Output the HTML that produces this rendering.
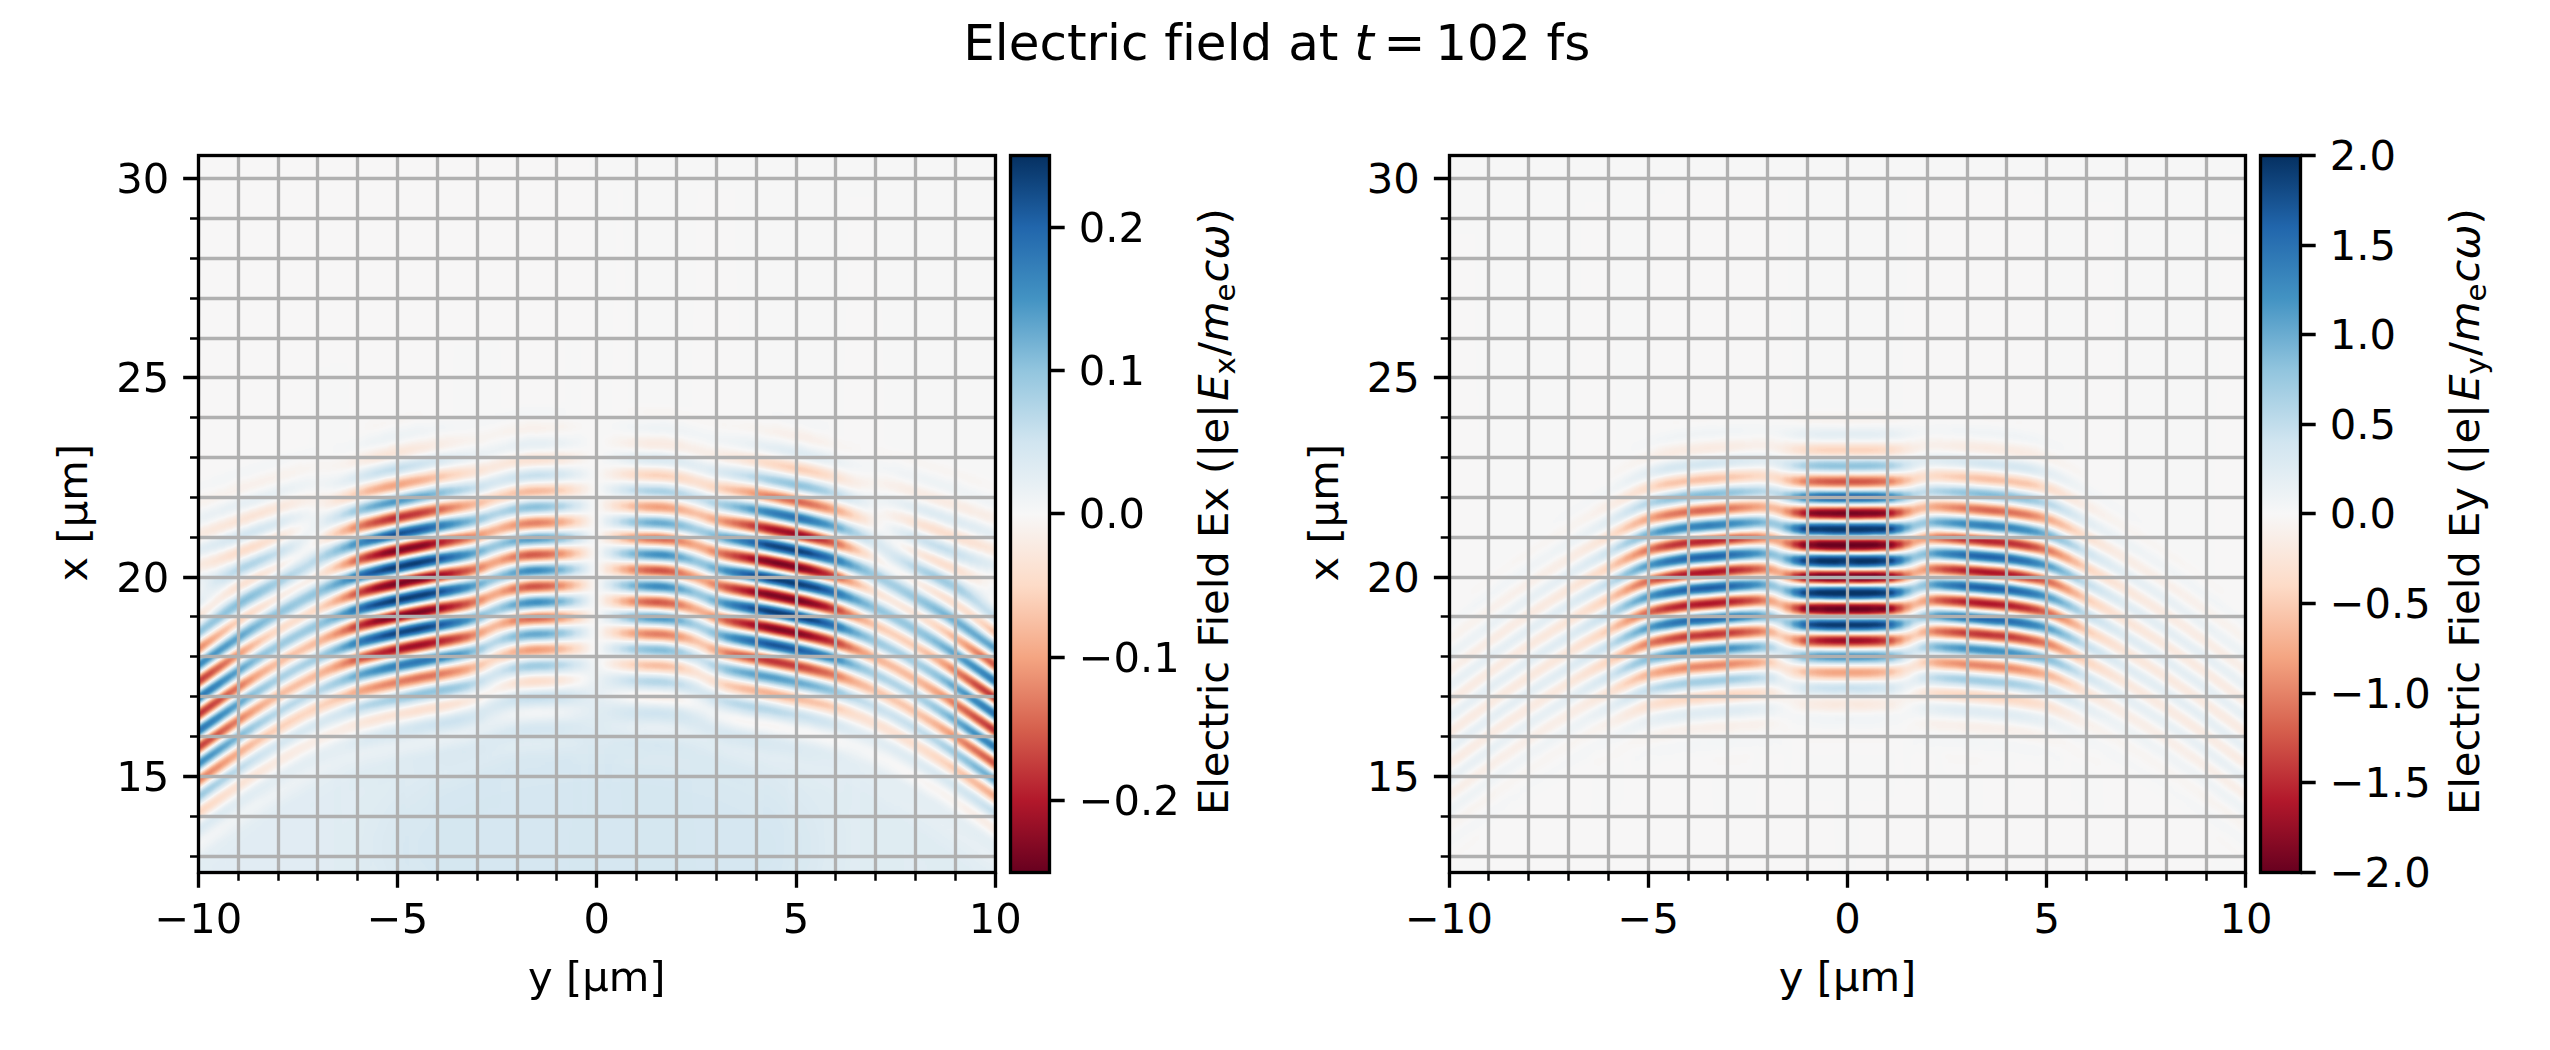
<!DOCTYPE html>
<html lang="en"><head><meta charset="utf-8"><title>Electric field at t = 102 fs</title>
<style>html,body{margin:0;padding:0;background:#fff;overflow:hidden}svg{display:block}text{font-variant-ligatures:none;font-family:"DejaVu Sans","Liberation Sans",sans-serif;font-size:41.67px;fill:#000}</style></head><body>
<svg width="2550" height="1050" viewBox="0 0 2550 1050">
<defs>
<linearGradient id="cbg" x1="0" y1="1" x2="0" y2="0"><stop offset="0" stop-color="#67001f"/><stop offset="0.1" stop-color="#b2182b"/><stop offset="0.2" stop-color="#d6604d"/><stop offset="0.3" stop-color="#f4a582"/><stop offset="0.4" stop-color="#fddbc7"/><stop offset="0.5" stop-color="#f7f7f7"/><stop offset="0.6" stop-color="#d1e5f0"/><stop offset="0.7" stop-color="#92c5de"/><stop offset="0.8" stop-color="#4393c3"/><stop offset="0.9" stop-color="#2166ac"/><stop offset="1" stop-color="#053061"/></linearGradient>
<clipPath id="c1"><rect x="198.35" y="155.4" width="796.9" height="717.1"/></clipPath>
<clipPath id="c2"><rect x="1449.05" y="155.4" width="796.9" height="717.1"/></clipPath>
<filter id="cm" filterUnits="userSpaceOnUse" x="0" y="0" width="2550" height="1050" color-interpolation-filters="sRGB"><feGaussianBlur stdDeviation="2"/><feComponentTransfer><feFuncR type="table" tableValues=".4039 .698 .8392 .9569 .9922 .9686 .8196 .5725 .2627 .1294 .0196"/><feFuncG type="table" tableValues="0 .0941 .3765 .6471 .8588 .9686 .898 .7725 .5765 .4 .1882"/><feFuncB type="table" tableValues=".1216 .1686 .302 .5098 .7804 .9686 .9412 .8706 .7647 .6745 .3804"/></feComponentTransfer></filter><filter id="inv" filterUnits="userSpaceOnUse" x="0" y="0" width="2550" height="1050" color-interpolation-filters="sRGB"><feComponentTransfer><feFuncR type="linear" slope="-1" intercept="1"/><feFuncG type="linear" slope="-1" intercept="1"/><feFuncB type="linear" slope="-1" intercept="1"/></feComponentTransfer></filter><filter id="hzb" filterUnits="userSpaceOnUse" x="0" y="0" width="2550" height="1050" color-interpolation-filters="sRGB"><feGaussianBlur stdDeviation="22"/></filter><radialGradient id="hz"><stop offset="0" stop-color="#fff"/><stop offset=".35" stop-color="#fff" stop-opacity=".8"/><stop offset=".7" stop-color="#fff" stop-opacity=".3"/><stop offset="1" stop-color="#fff" stop-opacity="0"/></radialGradient><linearGradient id="a0" x2="0" y2="1"><stop offset="0" stop-color="#808080"/><stop offset=".424" stop-color="#7f7f7f"/><stop offset=".4378" stop-color="#7f7f7f"/><stop offset=".4516" stop-color="#828282"/><stop offset=".4692" stop-color="#7c7c7c"/><stop offset=".4792" stop-color="#808080"/><stop offset=".4893" stop-color="#838383"/><stop offset=".4981" stop-color="#808080"/><stop offset=".5081" stop-color="#7b7b7b"/><stop offset=".5169" stop-color="#7e7e7e"/><stop offset=".5282" stop-color="#858585"/><stop offset=".5369" stop-color="#818181"/><stop offset=".547" stop-color="#7a7a7a"/><stop offset=".5545" stop-color="#7c7c7c"/><stop offset=".5658" stop-color="#858585"/><stop offset=".5733" stop-color="#848484"/><stop offset=".5859" stop-color="#7a7a7a"/><stop offset=".5934" stop-color="#7b7b7b"/><stop offset=".6059" stop-color="#858585"/><stop offset=".6147" stop-color="#838383"/><stop offset=".626" stop-color="#7a7a7a"/><stop offset=".6348" stop-color="#7c7c7c"/><stop offset=".6461" stop-color="#848484"/><stop offset=".6536" stop-color="#838383"/><stop offset=".6674" stop-color="#7b7b7b"/><stop offset=".6775" stop-color="#7f7f7f"/><stop offset=".6887" stop-color="#838383"/><stop offset=".7076" stop-color="#7d7d7d"/><stop offset=".7276" stop-color="#818181"/><stop offset=".7477" stop-color="#7e7e7e"/><stop offset=".7728" stop-color="#808080"/><stop offset=".9999" stop-color="#808080"/></linearGradient><linearGradient id="a1" x2="0" y2="1"><stop offset="0" stop-color="#808080"/><stop offset=".424" stop-color="#808080"/><stop offset=".4378" stop-color="#808080"/><stop offset=".4516" stop-color="#7d7d7d"/><stop offset=".4692" stop-color="#838383"/><stop offset=".4792" stop-color="#7f7f7f"/><stop offset=".4893" stop-color="#7c7c7c"/><stop offset=".4981" stop-color="#7f7f7f"/><stop offset=".5081" stop-color="#848484"/><stop offset=".5169" stop-color="#818181"/><stop offset=".5282" stop-color="#7a7a7a"/><stop offset=".5369" stop-color="#7e7e7e"/><stop offset=".547" stop-color="#858585"/><stop offset=".5545" stop-color="#838383"/><stop offset=".5658" stop-color="#7a7a7a"/><stop offset=".5733" stop-color="#7b7b7b"/><stop offset=".5859" stop-color="#858585"/><stop offset=".5934" stop-color="#848484"/><stop offset=".6059" stop-color="#7a7a7a"/><stop offset=".6147" stop-color="#7c7c7c"/><stop offset=".626" stop-color="#858585"/><stop offset=".6348" stop-color="#838383"/><stop offset=".6461" stop-color="#7b7b7b"/><stop offset=".6536" stop-color="#7c7c7c"/><stop offset=".6674" stop-color="#848484"/><stop offset=".6775" stop-color="#808080"/><stop offset=".6887" stop-color="#7c7c7c"/><stop offset=".7076" stop-color="#828282"/><stop offset=".7276" stop-color="#7e7e7e"/><stop offset=".7477" stop-color="#818181"/><stop offset=".7728" stop-color="#7f7f7f"/><stop offset=".9999" stop-color="#7f7f7f"/></linearGradient><linearGradient id="a2" x2="0" y2="1"><stop offset="0" stop-color="#808080"/><stop offset=".3839" stop-color="#808080"/><stop offset=".3989" stop-color="#808080"/><stop offset=".409" stop-color="#7d7d7d"/><stop offset=".4178" stop-color="#7f7f7f"/><stop offset=".4291" stop-color="#848484"/><stop offset=".4378" stop-color="#818181"/><stop offset=".4491" stop-color="#787878"/><stop offset=".4554" stop-color="#7b7b7b"/><stop offset=".4679" stop-color="#8a8a8a"/><stop offset=".4755" stop-color="#858585"/><stop offset=".488" stop-color="#727272"/><stop offset=".4955" stop-color="#787878"/><stop offset=".5068" stop-color="#8f8f8f"/><stop offset=".5131" stop-color="#8d8d8d"/><stop offset=".5269" stop-color="#6e6e6e"/><stop offset=".5319" stop-color="#6f6f6f"/><stop offset=".5395" stop-color="#818181"/><stop offset=".5457" stop-color="#919191"/><stop offset=".552" stop-color="#919191"/><stop offset=".5608" stop-color="#7a7a7a"/><stop offset=".5671" stop-color="#6c6c6c"/><stop offset=".5721" stop-color="#6d6d6d"/><stop offset=".5859" stop-color="#929292"/><stop offset=".5909" stop-color="#939393"/><stop offset=".5984" stop-color="#818181"/><stop offset=".6059" stop-color="#6d6d6d"/><stop offset=".611" stop-color="#6c6c6c"/><stop offset=".6185" stop-color="#7e7e7e"/><stop offset=".626" stop-color="#919191"/><stop offset=".631" stop-color="#919191"/><stop offset=".6373" stop-color="#848484"/><stop offset=".6448" stop-color="#717171"/><stop offset=".6499" stop-color="#6f6f6f"/><stop offset=".6561" stop-color="#797979"/><stop offset=".6662" stop-color="#8d8d8d"/><stop offset=".6712" stop-color="#8d8d8d"/><stop offset=".685" stop-color="#767676"/><stop offset=".6913" stop-color="#757575"/><stop offset=".7051" stop-color="#878787"/><stop offset=".7126" stop-color="#868686"/><stop offset=".7264" stop-color="#7a7a7a"/><stop offset=".7364" stop-color="#7e7e7e"/><stop offset=".7477" stop-color="#838383"/><stop offset=".7665" stop-color="#7e7e7e"/><stop offset=".7966" stop-color="#808080"/><stop offset=".9999" stop-color="#7f7f7f"/></linearGradient><linearGradient id="a3" x2="0" y2="1"><stop offset="0" stop-color="#808080"/><stop offset=".3651" stop-color="#7f7f7f"/><stop offset=".3789" stop-color="#7f7f7f"/><stop offset=".3914" stop-color="#828282"/><stop offset=".4052" stop-color="#7c7c7c"/><stop offset=".4127" stop-color="#7b7b7b"/><stop offset=".4228" stop-color="#838383"/><stop offset=".4303" stop-color="#888888"/><stop offset=".4391" stop-color="#808080"/><stop offset=".4491" stop-color="#727272"/><stop offset=".4554" stop-color="#777777"/><stop offset=".4679" stop-color="#919191"/><stop offset=".4742" stop-color="#8e8e8e"/><stop offset=".4868" stop-color="#6a6a6a"/><stop offset=".4918" stop-color="#696969"/><stop offset=".4968" stop-color="#767676"/><stop offset=".5068" stop-color="#9a9a9a"/><stop offset=".5119" stop-color="#9b9b9b"/><stop offset=".5181" stop-color="#858585"/><stop offset=".5257" stop-color="#646464"/><stop offset=".5307" stop-color="#5f5f5f"/><stop offset=".5369" stop-color="#737373"/><stop offset=".5457" stop-color="#9e9e9e"/><stop offset=".5507" stop-color="#a2a2a2"/><stop offset=".5558" stop-color="#929292"/><stop offset=".5658" stop-color="#606060"/><stop offset=".5708" stop-color="#5c5c5c"/><stop offset=".5771" stop-color="#737373"/><stop offset=".5846" stop-color="#9b9b9b"/><stop offset=".5896" stop-color="#a4a4a4"/><stop offset=".5947" stop-color="#989898"/><stop offset=".6047" stop-color="#646464"/><stop offset=".6097" stop-color="#5c5c5c"/><stop offset=".6147" stop-color="#686868"/><stop offset=".626" stop-color="#9e9e9e"/><stop offset=".631" stop-color="#a0a0a0"/><stop offset=".6361" stop-color="#8f8f8f"/><stop offset=".6448" stop-color="#676767"/><stop offset=".6511" stop-color="#626262"/><stop offset=".6586" stop-color="#7d7d7d"/><stop offset=".6649" stop-color="#949494"/><stop offset=".6699" stop-color="#999999"/><stop offset=".6762" stop-color="#8b8b8b"/><stop offset=".685" stop-color="#6f6f6f"/><stop offset=".69" stop-color="#6b6b6b"/><stop offset=".6988" stop-color="#7e7e7e"/><stop offset=".7063" stop-color="#8e8e8e"/><stop offset=".7138" stop-color="#8a8a8a"/><stop offset=".7251" stop-color="#777777"/><stop offset=".7301" stop-color="#767676"/><stop offset=".7452" stop-color="#858585"/><stop offset=".7527" stop-color="#848484"/><stop offset=".7665" stop-color="#7c7c7c"/><stop offset=".7879" stop-color="#818181"/><stop offset=".8155" stop-color="#7f7f7f"/><stop offset=".9999" stop-color="#7f7f7f"/></linearGradient><linearGradient id="a4" x2="0" y2="1"><stop offset="0" stop-color="#808080"/><stop offset=".3638" stop-color="#7f7f7f"/><stop offset=".3789" stop-color="#7f7f7f"/><stop offset=".3902" stop-color="#838383"/><stop offset=".3989" stop-color="#808080"/><stop offset=".4115" stop-color="#787878"/><stop offset=".419" stop-color="#7f7f7f"/><stop offset=".4291" stop-color="#8c8c8c"/><stop offset=".4366" stop-color="#868686"/><stop offset=".4479" stop-color="#6e6e6e"/><stop offset=".4529" stop-color="#6e6e6e"/><stop offset=".4604" stop-color="#838383"/><stop offset=".4679" stop-color="#999999"/><stop offset=".4742" stop-color="#959595"/><stop offset=".488" stop-color="#5e5e5e"/><stop offset=".493" stop-color="#616161"/><stop offset=".5006" stop-color="#868686"/><stop offset=".5068" stop-color="#a5a5a5"/><stop offset=".5119" stop-color="#a8a8a8"/><stop offset=".5181" stop-color="#8a8a8a"/><stop offset=".5257" stop-color="#595959"/><stop offset=".5307" stop-color="#505050"/><stop offset=".5357" stop-color="#636363"/><stop offset=".5457" stop-color="#a9a9a9"/><stop offset=".5507" stop-color="#b2b2b2"/><stop offset=".5558" stop-color="#9d9d9d"/><stop offset=".5658" stop-color="#545454"/><stop offset=".5708" stop-color="#4c4c4c"/><stop offset=".5758" stop-color="#626262"/><stop offset=".5859" stop-color="#acacac"/><stop offset=".5909" stop-color="#b3b3b3"/><stop offset=".5959" stop-color="#9c9c9c"/><stop offset=".6059" stop-color="#545454"/><stop offset=".6097" stop-color="#4c4c4c"/><stop offset=".6147" stop-color="#5c5c5c"/><stop offset=".626" stop-color="#aaaaaa"/><stop offset=".631" stop-color="#afafaf"/><stop offset=".6361" stop-color="#999999"/><stop offset=".6448" stop-color="#5e5e5e"/><stop offset=".6499" stop-color="#545454"/><stop offset=".6549" stop-color="#636363"/><stop offset=".6649" stop-color="#9c9c9c"/><stop offset=".6699" stop-color="#a5a5a5"/><stop offset=".6762" stop-color="#919191"/><stop offset=".685" stop-color="#686868"/><stop offset=".69" stop-color="#626262"/><stop offset=".6975" stop-color="#777777"/><stop offset=".7051" stop-color="#919191"/><stop offset=".7101" stop-color="#959595"/><stop offset=".7214" stop-color="#7b7b7b"/><stop offset=".7276" stop-color="#717171"/><stop offset=".7352" stop-color="#777777"/><stop offset=".7439" stop-color="#868686"/><stop offset=".7527" stop-color="#878787"/><stop offset=".7665" stop-color="#7b7b7b"/><stop offset=".7778" stop-color="#7e7e7e"/><stop offset=".7866" stop-color="#828282"/><stop offset=".8104" stop-color="#7e7e7e"/><stop offset=".8318" stop-color="#808080"/><stop offset=".9999" stop-color="#7f7f7f"/></linearGradient><linearGradient id="a5" x2="0" y2="1"><stop offset="0" stop-color="#808080"/><stop offset=".3488" stop-color="#808080"/><stop offset=".3588" stop-color="#808080"/><stop offset=".3739" stop-color="#7d7d7d"/><stop offset=".3914" stop-color="#858585"/><stop offset=".4015" stop-color="#7e7e7e"/><stop offset=".4102" stop-color="#767676"/><stop offset=".4165" stop-color="#7a7a7a"/><stop offset=".4291" stop-color="#8f8f8f"/><stop offset=".4366" stop-color="#898989"/><stop offset=".4479" stop-color="#6a6a6a"/><stop offset=".4529" stop-color="#696969"/><stop offset=".4592" stop-color="#7c7c7c"/><stop offset=".4679" stop-color="#9f9f9f"/><stop offset=".473" stop-color="#9f9f9f"/><stop offset=".4805" stop-color="#7c7c7c"/><stop offset=".488" stop-color="#565656"/><stop offset=".493" stop-color="#575757"/><stop offset=".4993" stop-color="#7b7b7b"/><stop offset=".5068" stop-color="#aeaeae"/><stop offset=".5119" stop-color="#b3b3b3"/><stop offset=".5169" stop-color="#999999"/><stop offset=".5269" stop-color="#4a4a4a"/><stop offset=".5319" stop-color="#454545"/><stop offset=".5369" stop-color="#636363"/><stop offset=".5457" stop-color="#b3b3b3"/><stop offset=".5507" stop-color="#c0c0c0"/><stop offset=".5558" stop-color="#a7a7a7"/><stop offset=".5658" stop-color="#4a4a4a"/><stop offset=".5708" stop-color="#3d3d3d"/><stop offset=".5758" stop-color="#575757"/><stop offset=".5859" stop-color="#b6b6b6"/><stop offset=".5909" stop-color="#c2c2c2"/><stop offset=".5959" stop-color="#a7a7a7"/><stop offset=".6059" stop-color="#4a4a4a"/><stop offset=".6097" stop-color="#3e3e3e"/><stop offset=".6147" stop-color="#505050"/><stop offset=".6248" stop-color="#ababab"/><stop offset=".6298" stop-color="#bebebe"/><stop offset=".6348" stop-color="#ababab"/><stop offset=".6461" stop-color="#505050"/><stop offset=".6511" stop-color="#494949"/><stop offset=".6574" stop-color="#6b6b6b"/><stop offset=".6649" stop-color="#a2a2a2"/><stop offset=".6699" stop-color="#afafaf"/><stop offset=".6762" stop-color="#989898"/><stop offset=".685" stop-color="#636363"/><stop offset=".69" stop-color="#5a5a5a"/><stop offset=".6975" stop-color="#737373"/><stop offset=".7051" stop-color="#959595"/><stop offset=".7101" stop-color="#9a9a9a"/><stop offset=".7176" stop-color="#888888"/><stop offset=".7251" stop-color="#717171"/><stop offset=".7314" stop-color="#6e6e6e"/><stop offset=".7452" stop-color="#898989"/><stop offset=".7527" stop-color="#898989"/><stop offset=".7653" stop-color="#7a7a7a"/><stop offset=".7741" stop-color="#7b7b7b"/><stop offset=".7866" stop-color="#838383"/><stop offset=".8092" stop-color="#7e7e7e"/><stop offset=".8343" stop-color="#808080"/><stop offset=".9999" stop-color="#7f7f7f"/></linearGradient><linearGradient id="a6" x2="0" y2="1"><stop offset="0" stop-color="#808080"/><stop offset=".3475" stop-color="#808080"/><stop offset=".3601" stop-color="#808080"/><stop offset=".3726" stop-color="#7d7d7d"/><stop offset=".3814" stop-color="#808080"/><stop offset=".3914" stop-color="#858585"/><stop offset=".3989" stop-color="#818181"/><stop offset=".4102" stop-color="#757575"/><stop offset=".4178" stop-color="#7b7b7b"/><stop offset=".4291" stop-color="#919191"/><stop offset=".4353" stop-color="#8e8e8e"/><stop offset=".4491" stop-color="#646464"/><stop offset=".4541" stop-color="#676767"/><stop offset=".4617" stop-color="#878787"/><stop offset=".4679" stop-color="#a4a4a4"/><stop offset=".473" stop-color="#a5a5a5"/><stop offset=".478" stop-color="#8f8f8f"/><stop offset=".488" stop-color="#505050"/><stop offset=".493" stop-color="#4f4f4f"/><stop offset=".4993" stop-color="#777777"/><stop offset=".5068" stop-color="#b4b4b4"/><stop offset=".5119" stop-color="#bdbdbd"/><stop offset=".5169" stop-color="#a1a1a1"/><stop offset=".5269" stop-color="#434343"/><stop offset=".5319" stop-color="#3a3a3a"/><stop offset=".5369" stop-color="#5b5b5b"/><stop offset=".5457" stop-color="#b9b9b9"/><stop offset=".5507" stop-color="#cccccc"/><stop offset=".5558" stop-color="#b1b1b1"/><stop offset=".5658" stop-color="#444444"/><stop offset=".5708" stop-color="#313131"/><stop offset=".5758" stop-color="#4d4d4d"/><stop offset=".5859" stop-color="#bcbcbc"/><stop offset=".5896" stop-color="#cecece"/><stop offset=".5934" stop-color="#c4c4c4"/><stop offset=".5997" stop-color="#878787"/><stop offset=".6059" stop-color="#434343"/><stop offset=".6097" stop-color="#333333"/><stop offset=".6135" stop-color="#3d3d3d"/><stop offset=".6197" stop-color="#7a7a7a"/><stop offset=".626" stop-color="#bababa"/><stop offset=".631" stop-color="#c7c7c7"/><stop offset=".6361" stop-color="#ababab"/><stop offset=".6461" stop-color="#4a4a4a"/><stop offset=".6511" stop-color="#3f3f3f"/><stop offset=".6561" stop-color="#5a5a5a"/><stop offset=".6649" stop-color="#a6a6a6"/><stop offset=".6699" stop-color="#b7b7b7"/><stop offset=".6749" stop-color="#a6a6a6"/><stop offset=".685" stop-color="#606060"/><stop offset=".69" stop-color="#545454"/><stop offset=".6963" stop-color="#686868"/><stop offset=".7051" stop-color="#979797"/><stop offset=".7101" stop-color="#9f9f9f"/><stop offset=".7163" stop-color="#909090"/><stop offset=".7251" stop-color="#6f6f6f"/><stop offset=".7314" stop-color="#6b6b6b"/><stop offset=".7452" stop-color="#8a8a8a"/><stop offset=".7515" stop-color="#8c8c8c"/><stop offset=".7653" stop-color="#7a7a7a"/><stop offset=".7728" stop-color="#797979"/><stop offset=".7853" stop-color="#838383"/><stop offset=".7966" stop-color="#818181"/><stop offset=".8092" stop-color="#7e7e7e"/><stop offset=".8355" stop-color="#808080"/><stop offset=".9999" stop-color="#808080"/></linearGradient><linearGradient id="a7" x2="0" y2="1"><stop offset="0" stop-color="#808080"/><stop offset=".3463" stop-color="#808080"/><stop offset=".3601" stop-color="#808080"/><stop offset=".3739" stop-color="#7c7c7c"/><stop offset=".3927" stop-color="#868686"/><stop offset=".4015" stop-color="#7e7e7e"/><stop offset=".4115" stop-color="#737373"/><stop offset=".4178" stop-color="#797979"/><stop offset=".4303" stop-color="#949494"/><stop offset=".4366" stop-color="#8d8d8d"/><stop offset=".4491" stop-color="#626262"/><stop offset=".4541" stop-color="#636363"/><stop offset=".4617" stop-color="#868686"/><stop offset=".4692" stop-color="#aaaaaa"/><stop offset=".4742" stop-color="#a7a7a7"/><stop offset=".4805" stop-color="#808080"/><stop offset=".488" stop-color="#4c4c4c"/><stop offset=".493" stop-color="#494949"/><stop offset=".4981" stop-color="#686868"/><stop offset=".5068" stop-color="#b8b8b8"/><stop offset=".5119" stop-color="#c4c4c4"/><stop offset=".5169" stop-color="#a7a7a7"/><stop offset=".5269" stop-color="#3f3f3f"/><stop offset=".5319" stop-color="#323232"/><stop offset=".5369" stop-color="#545454"/><stop offset=".547" stop-color="#c6c6c6"/><stop offset=".552" stop-color="#d2d2d2"/><stop offset=".557" stop-color="#adadad"/><stop offset=".5658" stop-color="#414141"/><stop offset=".5708" stop-color="#292929"/><stop offset=".5758" stop-color="#454545"/><stop offset=".5859" stop-color="#bfbfbf"/><stop offset=".5896" stop-color="#d5d5d5"/><stop offset=".5947" stop-color="#c5c5c5"/><stop offset=".6059" stop-color="#404040"/><stop offset=".6097" stop-color="#2b2b2b"/><stop offset=".6147" stop-color="#3d3d3d"/><stop offset=".626" stop-color="#bdbdbd"/><stop offset=".631" stop-color="#cfcfcf"/><stop offset=".6361" stop-color="#b2b2b2"/><stop offset=".6461" stop-color="#474747"/><stop offset=".6511" stop-color="#383838"/><stop offset=".6561" stop-color="#535353"/><stop offset=".6662" stop-color="#b0b0b0"/><stop offset=".6712" stop-color="#bbbbbb"/><stop offset=".6775" stop-color="#9a9a9a"/><stop offset=".685" stop-color="#5f5f5f"/><stop offset=".69" stop-color="#505050"/><stop offset=".695" stop-color="#5d5d5d"/><stop offset=".7051" stop-color="#989898"/><stop offset=".7101" stop-color="#a2a2a2"/><stop offset=".7163" stop-color="#939393"/><stop offset=".7251" stop-color="#6f6f6f"/><stop offset=".7301" stop-color="#686868"/><stop offset=".7377" stop-color="#777777"/><stop offset=".7465" stop-color="#8c8c8c"/><stop offset=".7527" stop-color="#8c8c8c"/><stop offset=".7665" stop-color="#787878"/><stop offset=".7753" stop-color="#7b7b7b"/><stop offset=".7866" stop-color="#838383"/><stop offset=".7954" stop-color="#828282"/><stop offset=".8079" stop-color="#7e7e7e"/><stop offset=".838" stop-color="#808080"/><stop offset=".9999" stop-color="#808080"/></linearGradient><linearGradient id="a8" x2="0" y2="1"><stop offset="0" stop-color="#808080"/><stop offset=".3463" stop-color="#808080"/><stop offset=".3601" stop-color="#808080"/><stop offset=".3751" stop-color="#7c7c7c"/><stop offset=".3914" stop-color="#868686"/><stop offset=".3977" stop-color="#848484"/><stop offset=".4102" stop-color="#737373"/><stop offset=".4165" stop-color="#767676"/><stop offset=".4303" stop-color="#959595"/><stop offset=".4366" stop-color="#8f8f8f"/><stop offset=".4491" stop-color="#616161"/><stop offset=".4541" stop-color="#616161"/><stop offset=".4617" stop-color="#848484"/><stop offset=".4692" stop-color="#ababab"/><stop offset=".4742" stop-color="#aaaaaa"/><stop offset=".4805" stop-color="#838383"/><stop offset=".488" stop-color="#4b4b4b"/><stop offset=".493" stop-color="#454545"/><stop offset=".4981" stop-color="#636363"/><stop offset=".5068" stop-color="#b8b8b8"/><stop offset=".5119" stop-color="#c8c8c8"/><stop offset=".5169" stop-color="#adadad"/><stop offset=".5269" stop-color="#3e3e3e"/><stop offset=".5319" stop-color="#2e2e2e"/><stop offset=".5369" stop-color="#4e4e4e"/><stop offset=".547" stop-color="#c7c7c7"/><stop offset=".552" stop-color="#d7d7d7"/><stop offset=".557" stop-color="#b3b3b3"/><stop offset=".5671" stop-color="#353535"/><stop offset=".5708" stop-color="#252525"/><stop offset=".5746" stop-color="#333333"/><stop offset=".5834" stop-color="#a1a1a1"/><stop offset=".5884" stop-color="#d3d3d3"/><stop offset=".5921" stop-color="#d9d9d9"/><stop offset=".5972" stop-color="#b2b2b2"/><stop offset=".6059" stop-color="#404040"/><stop offset=".6097" stop-color="#282828"/><stop offset=".6135" stop-color="#2e2e2e"/><stop offset=".6197" stop-color="#6f6f6f"/><stop offset=".626" stop-color="#bdbdbd"/><stop offset=".631" stop-color="#d3d3d3"/><stop offset=".6361" stop-color="#b8b8b8"/><stop offset=".6461" stop-color="#484848"/><stop offset=".6511" stop-color="#353535"/><stop offset=".6561" stop-color="#4e4e4e"/><stop offset=".6662" stop-color="#b0b0b0"/><stop offset=".6712" stop-color="#bebebe"/><stop offset=".6762" stop-color="#a8a8a8"/><stop offset=".6862" stop-color="#595959"/><stop offset=".6913" stop-color="#4e4e4e"/><stop offset=".6975" stop-color="#696969"/><stop offset=".7063" stop-color="#9d9d9d"/><stop offset=".7113" stop-color="#a3a3a3"/><stop offset=".7176" stop-color="#8f8f8f"/><stop offset=".7264" stop-color="#6c6c6c"/><stop offset=".7327" stop-color="#696969"/><stop offset=".7452" stop-color="#8a8a8a"/><stop offset=".7515" stop-color="#8e8e8e"/><stop offset=".7665" stop-color="#787878"/><stop offset=".7753" stop-color="#7a7a7a"/><stop offset=".7879" stop-color="#848484"/><stop offset=".8079" stop-color="#7e7e7e"/><stop offset=".838" stop-color="#808080"/><stop offset=".9999" stop-color="#808080"/></linearGradient><linearGradient id="a9" x2="0" y2="1"><stop offset="0" stop-color="#808080"/><stop offset=".3475" stop-color="#808080"/><stop offset=".3613" stop-color="#808080"/><stop offset=".3739" stop-color="#7c7c7c"/><stop offset=".3851" stop-color="#838383"/><stop offset=".3952" stop-color="#868686"/><stop offset=".4065" stop-color="#787878"/><stop offset=".4127" stop-color="#737373"/><stop offset=".419" stop-color="#7a7a7a"/><stop offset=".4303" stop-color="#949494"/><stop offset=".4366" stop-color="#909090"/><stop offset=".4504" stop-color="#606060"/><stop offset=".4554" stop-color="#626262"/><stop offset=".4629" stop-color="#898989"/><stop offset=".4705" stop-color="#adadad"/><stop offset=".4755" stop-color="#a8a8a8"/><stop offset=".483" stop-color="#737373"/><stop offset=".4893" stop-color="#484848"/><stop offset=".4943" stop-color="#474747"/><stop offset=".5006" stop-color="#757575"/><stop offset=".5081" stop-color="#bcbcbc"/><stop offset=".5131" stop-color="#c7c7c7"/><stop offset=".5181" stop-color="#a7a7a7"/><stop offset=".5282" stop-color="#393939"/><stop offset=".5332" stop-color="#2f2f2f"/><stop offset=".5382" stop-color="#555555"/><stop offset=".547" stop-color="#c1c1c1"/><stop offset=".5507" stop-color="#d7d7d7"/><stop offset=".5545" stop-color="#cfcfcf"/><stop offset=".5595" stop-color="#9b9b9b"/><stop offset=".5671" stop-color="#3b3b3b"/><stop offset=".5708" stop-color="#262626"/><stop offset=".5746" stop-color="#2f2f2f"/><stop offset=".5809" stop-color="#767676"/><stop offset=".5871" stop-color="#c5c5c5"/><stop offset=".5909" stop-color="#d9d9d9"/><stop offset=".5947" stop-color="#cfcfcf"/><stop offset=".6009" stop-color="#888888"/><stop offset=".6072" stop-color="#3a3a3a"/><stop offset=".6122" stop-color="#282828"/><stop offset=".6172" stop-color="#494949"/><stop offset=".6273" stop-color="#c2c2c2"/><stop offset=".6323" stop-color="#d2d2d2"/><stop offset=".6373" stop-color="#b1b1b1"/><stop offset=".6473" stop-color="#434343"/><stop offset=".6524" stop-color="#363636"/><stop offset=".6586" stop-color="#606060"/><stop offset=".6662" stop-color="#ababab"/><stop offset=".6712" stop-color="#bebebe"/><stop offset=".6762" stop-color="#acacac"/><stop offset=".6862" stop-color="#5c5c5c"/><stop offset=".6913" stop-color="#4f4f4f"/><stop offset=".6963" stop-color="#5e5e5e"/><stop offset=".7063" stop-color="#9a9a9a"/><stop offset=".7113" stop-color="#a3a3a3"/><stop offset=".7176" stop-color="#929292"/><stop offset=".7264" stop-color="#6d6d6d"/><stop offset=".7327" stop-color="#696969"/><stop offset=".7477" stop-color="#8d8d8d"/><stop offset=".754" stop-color="#8c8c8c"/><stop offset=".7665" stop-color="#797979"/><stop offset=".7728" stop-color="#787878"/><stop offset=".7866" stop-color="#838383"/><stop offset=".7941" stop-color="#838383"/><stop offset=".8067" stop-color="#7e7e7e"/><stop offset=".8405" stop-color="#808080"/><stop offset=".9999" stop-color="#808080"/></linearGradient><linearGradient id="a10" x2="0" y2="1"><stop offset="0" stop-color="#808080"/><stop offset=".3488" stop-color="#808080"/><stop offset=".3613" stop-color="#808080"/><stop offset=".3751" stop-color="#7c7c7c"/><stop offset=".3939" stop-color="#868686"/><stop offset=".4015" stop-color="#818181"/><stop offset=".4127" stop-color="#737373"/><stop offset=".4203" stop-color="#7a7a7a"/><stop offset=".4316" stop-color="#939393"/><stop offset=".4378" stop-color="#8f8f8f"/><stop offset=".4516" stop-color="#616161"/><stop offset=".4567" stop-color="#646464"/><stop offset=".4642" stop-color="#898989"/><stop offset=".4717" stop-color="#ababab"/><stop offset=".4767" stop-color="#a5a5a5"/><stop offset=".483" stop-color="#7c7c7c"/><stop offset=".4905" stop-color="#4a4a4a"/><stop offset=".4955" stop-color="#4a4a4a"/><stop offset=".5018" stop-color="#787878"/><stop offset=".5093" stop-color="#bababa"/><stop offset=".5144" stop-color="#c3c3c3"/><stop offset=".5194" stop-color="#a3a3a3"/><stop offset=".5294" stop-color="#3c3c3c"/><stop offset=".5332" stop-color="#323232"/><stop offset=".5369" stop-color="#424242"/><stop offset=".5482" stop-color="#bfbfbf"/><stop offset=".552" stop-color="#d2d2d2"/><stop offset=".557" stop-color="#c0c0c0"/><stop offset=".5683" stop-color="#3e3e3e"/><stop offset=".5721" stop-color="#2b2b2b"/><stop offset=".5758" stop-color="#353535"/><stop offset=".5821" stop-color="#787878"/><stop offset=".5884" stop-color="#c2c2c2"/><stop offset=".5934" stop-color="#d4d4d4"/><stop offset=".5984" stop-color="#b4b4b4"/><stop offset=".6085" stop-color="#3e3e3e"/><stop offset=".6122" stop-color="#2d2d2d"/><stop offset=".6172" stop-color="#424242"/><stop offset=".6285" stop-color="#bfbfbf"/><stop offset=".6335" stop-color="#cccccc"/><stop offset=".6386" stop-color="#adadad"/><stop offset=".6473" stop-color="#4f4f4f"/><stop offset=".6524" stop-color="#3a3a3a"/><stop offset=".6574" stop-color="#4e4e4e"/><stop offset=".6687" stop-color="#b1b1b1"/><stop offset=".6737" stop-color="#b8b8b8"/><stop offset=".68" stop-color="#959595"/><stop offset=".6875" stop-color="#5e5e5e"/><stop offset=".6925" stop-color="#525252"/><stop offset=".6988" stop-color="#686868"/><stop offset=".7076" stop-color="#999999"/><stop offset=".7138" stop-color="#9f9f9f"/><stop offset=".7226" stop-color="#7f7f7f"/><stop offset=".7289" stop-color="#6c6c6c"/><stop offset=".7339" stop-color="#6b6b6b"/><stop offset=".7477" stop-color="#8b8b8b"/><stop offset=".7552" stop-color="#8b8b8b"/><stop offset=".7678" stop-color="#797979"/><stop offset=".7766" stop-color="#7a7a7a"/><stop offset=".7879" stop-color="#838383"/><stop offset=".7991" stop-color="#818181"/><stop offset=".8092" stop-color="#7e7e7e"/><stop offset=".8393" stop-color="#808080"/><stop offset=".9999" stop-color="#808080"/></linearGradient><linearGradient id="a11" x2="0" y2="1"><stop offset="0" stop-color="#808080"/><stop offset=".3513" stop-color="#808080"/><stop offset=".3638" stop-color="#808080"/><stop offset=".3764" stop-color="#7d7d7d"/><stop offset=".3877" stop-color="#828282"/><stop offset=".3977" stop-color="#858585"/><stop offset=".4065" stop-color="#7c7c7c"/><stop offset=".4153" stop-color="#747474"/><stop offset=".4228" stop-color="#7d7d7d"/><stop offset=".4328" stop-color="#919191"/><stop offset=".4378" stop-color="#909090"/><stop offset=".4454" stop-color="#7b7b7b"/><stop offset=".4529" stop-color="#646464"/><stop offset=".4592" stop-color="#696969"/><stop offset=".4717" stop-color="#a3a3a3"/><stop offset=".4767" stop-color="#a6a6a6"/><stop offset=".483" stop-color="#888888"/><stop offset=".4918" stop-color="#515151"/><stop offset=".4968" stop-color="#4e4e4e"/><stop offset=".5031" stop-color="#757575"/><stop offset=".5106" stop-color="#b2b2b2"/><stop offset=".5156" stop-color="#bdbdbd"/><stop offset=".5206" stop-color="#a3a3a3"/><stop offset=".5307" stop-color="#454545"/><stop offset=".5357" stop-color="#3b3b3b"/><stop offset=".5407" stop-color="#595959"/><stop offset=".5495" stop-color="#b5b5b5"/><stop offset=".5545" stop-color="#cacaca"/><stop offset=".5595" stop-color="#b3b3b3"/><stop offset=".5696" stop-color="#484848"/><stop offset=".5746" stop-color="#333333"/><stop offset=".5796" stop-color="#4c4c4c"/><stop offset=".5896" stop-color="#b8b8b8"/><stop offset=".5947" stop-color="#cbcbcb"/><stop offset=".5997" stop-color="#b1b1b1"/><stop offset=".6097" stop-color="#484848"/><stop offset=".6147" stop-color="#363636"/><stop offset=".6197" stop-color="#505050"/><stop offset=".6298" stop-color="#b5b5b5"/><stop offset=".6348" stop-color="#c4c4c4"/><stop offset=".6398" stop-color="#ababab"/><stop offset=".6499" stop-color="#4f4f4f"/><stop offset=".6549" stop-color="#434343"/><stop offset=".6599" stop-color="#5a5a5a"/><stop offset=".6699" stop-color="#a9a9a9"/><stop offset=".6749" stop-color="#b2b2b2"/><stop offset=".6812" stop-color="#959595"/><stop offset=".6887" stop-color="#646464"/><stop offset=".6938" stop-color="#585858"/><stop offset=".7" stop-color="#696969"/><stop offset=".7088" stop-color="#949494"/><stop offset=".7138" stop-color="#9c9c9c"/><stop offset=".7201" stop-color="#8f8f8f"/><stop offset=".7289" stop-color="#717171"/><stop offset=".7352" stop-color="#6d6d6d"/><stop offset=".749" stop-color="#898989"/><stop offset=".7565" stop-color="#8a8a8a"/><stop offset=".7703" stop-color="#797979"/><stop offset=".7778" stop-color="#7b7b7b"/><stop offset=".7916" stop-color="#838383"/><stop offset=".8129" stop-color="#7e7e7e"/><stop offset=".838" stop-color="#808080"/><stop offset=".9999" stop-color="#808080"/></linearGradient><linearGradient id="a12" x2="0" y2="1"><stop offset="0" stop-color="#808080"/><stop offset=".355" stop-color="#808080"/><stop offset=".3651" stop-color="#808080"/><stop offset=".3801" stop-color="#7d7d7d"/><stop offset=".3977" stop-color="#858585"/><stop offset=".4065" stop-color="#7f7f7f"/><stop offset=".4178" stop-color="#767676"/><stop offset=".4253" stop-color="#7e7e7e"/><stop offset=".4353" stop-color="#909090"/><stop offset=".4416" stop-color="#8c8c8c"/><stop offset=".4554" stop-color="#666666"/><stop offset=".4617" stop-color="#6c6c6c"/><stop offset=".4742" stop-color="#a0a0a0"/><stop offset=".4792" stop-color="#a2a2a2"/><stop offset=".4855" stop-color="#868686"/><stop offset=".4943" stop-color="#555555"/><stop offset=".4993" stop-color="#545454"/><stop offset=".5043" stop-color="#6e6e6e"/><stop offset=".5131" stop-color="#aeaeae"/><stop offset=".5181" stop-color="#b6b6b6"/><stop offset=".5231" stop-color="#9e9e9e"/><stop offset=".5332" stop-color="#4b4b4b"/><stop offset=".5369" stop-color="#414141"/><stop offset=".542" stop-color="#555555"/><stop offset=".5533" stop-color="#b7b7b7"/><stop offset=".557" stop-color="#c1c1c1"/><stop offset=".5608" stop-color="#b4b4b4"/><stop offset=".5733" stop-color="#474747"/><stop offset=".5771" stop-color="#3e3e3e"/><stop offset=".5809" stop-color="#4b4b4b"/><stop offset=".5934" stop-color="#b8b8b8"/><stop offset=".5972" stop-color="#c0c0c0"/><stop offset=".6009" stop-color="#b3b3b3"/><stop offset=".6122" stop-color="#505050"/><stop offset=".6172" stop-color="#414141"/><stop offset=".6223" stop-color="#575757"/><stop offset=".6323" stop-color="#adadad"/><stop offset=".6373" stop-color="#b9b9b9"/><stop offset=".6423" stop-color="#a4a4a4"/><stop offset=".6524" stop-color="#575757"/><stop offset=".6574" stop-color="#4d4d4d"/><stop offset=".6637" stop-color="#686868"/><stop offset=".6724" stop-color="#a1a1a1"/><stop offset=".6775" stop-color="#a9a9a9"/><stop offset=".6837" stop-color="#929292"/><stop offset=".6925" stop-color="#656565"/><stop offset=".6975" stop-color="#606060"/><stop offset=".7051" stop-color="#787878"/><stop offset=".7126" stop-color="#939393"/><stop offset=".7189" stop-color="#949494"/><stop offset=".7327" stop-color="#727272"/><stop offset=".7389" stop-color="#727272"/><stop offset=".7515" stop-color="#878787"/><stop offset=".7577" stop-color="#888888"/><stop offset=".7741" stop-color="#7a7a7a"/><stop offset=".7941" stop-color="#828282"/><stop offset=".818" stop-color="#7e7e7e"/><stop offset=".8368" stop-color="#808080"/><stop offset=".9999" stop-color="#808080"/></linearGradient><linearGradient id="a13" x2="0" y2="1"><stop offset="0" stop-color="#808080"/><stop offset=".3713" stop-color="#7f7f7f"/><stop offset=".3814" stop-color="#7d7d7d"/><stop offset=".4002" stop-color="#848484"/><stop offset=".4102" stop-color="#7e7e7e"/><stop offset=".4203" stop-color="#767676"/><stop offset=".4265" stop-color="#7c7c7c"/><stop offset=".4378" stop-color="#8e8e8e"/><stop offset=".4441" stop-color="#8c8c8c"/><stop offset=".4579" stop-color="#686868"/><stop offset=".4642" stop-color="#6d6d6d"/><stop offset=".4767" stop-color="#9d9d9d"/><stop offset=".4817" stop-color="#a0a0a0"/><stop offset=".488" stop-color="#878787"/><stop offset=".4968" stop-color="#595959"/><stop offset=".5018" stop-color="#565656"/><stop offset=".5081" stop-color="#757575"/><stop offset=".5169" stop-color="#adadad"/><stop offset=".5219" stop-color="#b0b0b0"/><stop offset=".5269" stop-color="#969696"/><stop offset=".5357" stop-color="#535353"/><stop offset=".5407" stop-color="#484848"/><stop offset=".5457" stop-color="#5e5e5e"/><stop offset=".5558" stop-color="#aeaeae"/><stop offset=".5608" stop-color="#b9b9b9"/><stop offset=".5658" stop-color="#a2a2a2"/><stop offset=".5758" stop-color="#515151"/><stop offset=".5809" stop-color="#464646"/><stop offset=".5859" stop-color="#5d5d5d"/><stop offset=".5959" stop-color="#adadad"/><stop offset=".6009" stop-color="#b7b7b7"/><stop offset=".6059" stop-color="#a1a1a1"/><stop offset=".616" stop-color="#545454"/><stop offset=".621" stop-color="#4a4a4a"/><stop offset=".626" stop-color="#606060"/><stop offset=".6361" stop-color="#a7a7a7"/><stop offset=".6411" stop-color="#b0b0b0"/><stop offset=".6473" stop-color="#949494"/><stop offset=".6561" stop-color="#5d5d5d"/><stop offset=".6611" stop-color="#565656"/><stop offset=".6674" stop-color="#6e6e6e"/><stop offset=".6762" stop-color="#9c9c9c"/><stop offset=".6812" stop-color="#a1a1a1"/><stop offset=".6887" stop-color="#888888"/><stop offset=".6963" stop-color="#6a6a6a"/><stop offset=".7013" stop-color="#676767"/><stop offset=".7088" stop-color="#7a7a7a"/><stop offset=".7163" stop-color="#8f8f8f"/><stop offset=".7226" stop-color="#8f8f8f"/><stop offset=".7352" stop-color="#777777"/><stop offset=".7414" stop-color="#757575"/><stop offset=".7565" stop-color="#868686"/><stop offset=".764" stop-color="#848484"/><stop offset=".7766" stop-color="#7c7c7c"/><stop offset=".7891" stop-color="#7f7f7f"/><stop offset=".7979" stop-color="#818181"/><stop offset=".8242" stop-color="#7f7f7f"/><stop offset=".9999" stop-color="#808080"/></linearGradient><linearGradient id="a14" x2="0" y2="1"><stop offset="0" stop-color="#808080"/><stop offset=".3751" stop-color="#7f7f7f"/><stop offset=".3839" stop-color="#7d7d7d"/><stop offset=".404" stop-color="#848484"/><stop offset=".414" stop-color="#7d7d7d"/><stop offset=".424" stop-color="#767676"/><stop offset=".4316" stop-color="#7f7f7f"/><stop offset=".4416" stop-color="#8f8f8f"/><stop offset=".4479" stop-color="#8a8a8a"/><stop offset=".4604" stop-color="#686868"/><stop offset=".4654" stop-color="#686868"/><stop offset=".4717" stop-color="#7d7d7d"/><stop offset=".4805" stop-color="#a0a0a0"/><stop offset=".4855" stop-color="#a1a1a1"/><stop offset=".4918" stop-color="#858585"/><stop offset=".4993" stop-color="#5a5a5a"/><stop offset=".5043" stop-color="#535353"/><stop offset=".5093" stop-color="#666666"/><stop offset=".5194" stop-color="#ababab"/><stop offset=".5244" stop-color="#b4b4b4"/><stop offset=".5294" stop-color="#9e9e9e"/><stop offset=".5395" stop-color="#515151"/><stop offset=".5445" stop-color="#474747"/><stop offset=".5495" stop-color="#5e5e5e"/><stop offset=".5595" stop-color="#afafaf"/><stop offset=".5645" stop-color="#bababa"/><stop offset=".5696" stop-color="#a3a3a3"/><stop offset=".5796" stop-color="#515151"/><stop offset=".5846" stop-color="#454545"/><stop offset=".5896" stop-color="#5b5b5b"/><stop offset=".5997" stop-color="#ababab"/><stop offset=".6047" stop-color="#b8b8b8"/><stop offset=".6097" stop-color="#a4a4a4"/><stop offset=".6197" stop-color="#575757"/><stop offset=".6248" stop-color="#4a4a4a"/><stop offset=".6298" stop-color="#5c5c5c"/><stop offset=".6398" stop-color="#a3a3a3"/><stop offset=".6448" stop-color="#b0b0b0"/><stop offset=".6499" stop-color="#a1a1a1"/><stop offset=".6599" stop-color="#626262"/><stop offset=".6649" stop-color="#575757"/><stop offset=".6712" stop-color="#686868"/><stop offset=".68" stop-color="#969696"/><stop offset=".685" stop-color="#a0a0a0"/><stop offset=".69" stop-color="#979797"/><stop offset=".7013" stop-color="#6c6c6c"/><stop offset=".7063" stop-color="#686868"/><stop offset=".7138" stop-color="#797979"/><stop offset=".7226" stop-color="#8e8e8e"/><stop offset=".7289" stop-color="#8c8c8c"/><stop offset=".7402" stop-color="#797979"/><stop offset=".7465" stop-color="#777777"/><stop offset=".7615" stop-color="#848484"/><stop offset=".7703" stop-color="#838383"/><stop offset=".7816" stop-color="#7d7d7d"/><stop offset=".8054" stop-color="#818181"/><stop offset=".8242" stop-color="#7f7f7f"/><stop offset=".9999" stop-color="#808080"/></linearGradient><linearGradient id="a15" x2="0" y2="1"><stop offset="0" stop-color="#808080"/><stop offset=".3776" stop-color="#7f7f7f"/><stop offset=".3864" stop-color="#7d7d7d"/><stop offset=".4052" stop-color="#848484"/><stop offset=".4115" stop-color="#828282"/><stop offset=".4253" stop-color="#757575"/><stop offset=".4328" stop-color="#7d7d7d"/><stop offset=".4441" stop-color="#929292"/><stop offset=".4504" stop-color="#8c8c8c"/><stop offset=".4642" stop-color="#636363"/><stop offset=".4692" stop-color="#666666"/><stop offset=".483" stop-color="#a5a5a5"/><stop offset=".488" stop-color="#a7a7a7"/><stop offset=".493" stop-color="#919191"/><stop offset=".5031" stop-color="#505050"/><stop offset=".5081" stop-color="#4d4d4d"/><stop offset=".5144" stop-color="#717171"/><stop offset=".5219" stop-color="#afafaf"/><stop offset=".5269" stop-color="#bdbdbd"/><stop offset=".5319" stop-color="#a8a8a8"/><stop offset=".5432" stop-color="#464646"/><stop offset=".5482" stop-color="#3e3e3e"/><stop offset=".5533" stop-color="#5b5b5b"/><stop offset=".562" stop-color="#b1b1b1"/><stop offset=".5671" stop-color="#c5c5c5"/><stop offset=".5721" stop-color="#b2b2b2"/><stop offset=".5834" stop-color="#484848"/><stop offset=".5884" stop-color="#3b3b3b"/><stop offset=".5934" stop-color="#555555"/><stop offset=".6034" stop-color="#b3b3b3"/><stop offset=".6085" stop-color="#c2c2c2"/><stop offset=".6135" stop-color="#acacac"/><stop offset=".6248" stop-color="#494949"/><stop offset=".6298" stop-color="#414141"/><stop offset=".6348" stop-color="#5c5c5c"/><stop offset=".6448" stop-color="#afafaf"/><stop offset=".6499" stop-color="#b9b9b9"/><stop offset=".6561" stop-color="#9a9a9a"/><stop offset=".6649" stop-color="#585858"/><stop offset=".6699" stop-color="#4d4d4d"/><stop offset=".6762" stop-color="#666666"/><stop offset=".685" stop-color="#9e9e9e"/><stop offset=".69" stop-color="#a8a8a8"/><stop offset=".6963" stop-color="#959595"/><stop offset=".7051" stop-color="#6a6a6a"/><stop offset=".7113" stop-color="#636363"/><stop offset=".7201" stop-color="#7d7d7d"/><stop offset=".7276" stop-color="#919191"/><stop offset=".7327" stop-color="#919191"/><stop offset=".7465" stop-color="#767676"/><stop offset=".7552" stop-color="#787878"/><stop offset=".7678" stop-color="#858585"/><stop offset=".7803" stop-color="#808080"/><stop offset=".7916" stop-color="#7d7d7d"/><stop offset=".8092" stop-color="#818181"/><stop offset=".8305" stop-color="#7f7f7f"/><stop offset=".9999" stop-color="#808080"/></linearGradient><linearGradient id="a16" x2="0" y2="1"><stop offset="0" stop-color="#808080"/><stop offset=".3789" stop-color="#7f7f7f"/><stop offset=".3889" stop-color="#7d7d7d"/><stop offset=".409" stop-color="#858585"/><stop offset=".4215" stop-color="#787878"/><stop offset=".4291" stop-color="#747474"/><stop offset=".4378" stop-color="#848484"/><stop offset=".4466" stop-color="#959595"/><stop offset=".4529" stop-color="#8d8d8d"/><stop offset=".4654" stop-color="#5f5f5f"/><stop offset=".4705" stop-color="#606060"/><stop offset=".4767" stop-color="#7d7d7d"/><stop offset=".4855" stop-color="#acacac"/><stop offset=".4905" stop-color="#adadad"/><stop offset=".4968" stop-color="#888888"/><stop offset=".5043" stop-color="#4e4e4e"/><stop offset=".5093" stop-color="#424242"/><stop offset=".5144" stop-color="#5a5a5a"/><stop offset=".5244" stop-color="#b7b7b7"/><stop offset=".5294" stop-color="#c7c7c7"/><stop offset=".5344" stop-color="#afafaf"/><stop offset=".5457" stop-color="#3d3d3d"/><stop offset=".5507" stop-color="#333333"/><stop offset=".5558" stop-color="#545454"/><stop offset=".5645" stop-color="#b7b7b7"/><stop offset=".5696" stop-color="#d0d0d0"/><stop offset=".5733" stop-color="#c5c5c5"/><stop offset=".5809" stop-color="#767676"/><stop offset=".5871" stop-color="#383838"/><stop offset=".5909" stop-color="#2f2f2f"/><stop offset=".5959" stop-color="#4a4a4a"/><stop offset=".6059" stop-color="#bababa"/><stop offset=".611" stop-color="#cfcfcf"/><stop offset=".616" stop-color="#b8b8b8"/><stop offset=".6273" stop-color="#414141"/><stop offset=".6323" stop-color="#333333"/><stop offset=".6373" stop-color="#4f4f4f"/><stop offset=".6473" stop-color="#b6b6b6"/><stop offset=".6524" stop-color="#c7c7c7"/><stop offset=".6574" stop-color="#b0b0b0"/><stop offset=".6674" stop-color="#525252"/><stop offset=".6724" stop-color="#414141"/><stop offset=".6775" stop-color="#535353"/><stop offset=".6887" stop-color="#a8a8a8"/><stop offset=".6938" stop-color="#b1b1b1"/><stop offset=".7" stop-color="#979797"/><stop offset=".7088" stop-color="#636363"/><stop offset=".7138" stop-color="#5b5b5b"/><stop offset=".7214" stop-color="#727272"/><stop offset=".7289" stop-color="#929292"/><stop offset=".7352" stop-color="#979797"/><stop offset=".7502" stop-color="#747474"/><stop offset=".7565" stop-color="#737373"/><stop offset=".769" stop-color="#848484"/><stop offset=".7778" stop-color="#858585"/><stop offset=".7904" stop-color="#7d7d7d"/><stop offset=".8042" stop-color="#7f7f7f"/><stop offset=".8142" stop-color="#818181"/><stop offset=".8355" stop-color="#7f7f7f"/><stop offset=".9999" stop-color="#808080"/></linearGradient><linearGradient id="a17" x2="0" y2="1"><stop offset="0" stop-color="#808080"/><stop offset=".3789" stop-color="#7f7f7f"/><stop offset=".3914" stop-color="#7d7d7d"/><stop offset=".409" stop-color="#868686"/><stop offset=".4178" stop-color="#7e7e7e"/><stop offset=".4278" stop-color="#727272"/><stop offset=".4341" stop-color="#777777"/><stop offset=".4466" stop-color="#979797"/><stop offset=".4529" stop-color="#949494"/><stop offset=".4617" stop-color="#6e6e6e"/><stop offset=".4679" stop-color="#585858"/><stop offset=".473" stop-color="#5e5e5e"/><stop offset=".4805" stop-color="#8c8c8c"/><stop offset=".488" stop-color="#b6b6b6"/><stop offset=".493" stop-color="#b1b1b1"/><stop offset=".4993" stop-color="#828282"/><stop offset=".5068" stop-color="#414141"/><stop offset=".5119" stop-color="#3a3a3a"/><stop offset=".5169" stop-color="#5b5b5b"/><stop offset=".5269" stop-color="#c5c5c5"/><stop offset=".5319" stop-color="#d1d1d1"/><stop offset=".5369" stop-color="#b0b0b0"/><stop offset=".547" stop-color="#383838"/><stop offset=".552" stop-color="#262626"/><stop offset=".557" stop-color="#454545"/><stop offset=".5671" stop-color="#c4c4c4"/><stop offset=".5721" stop-color="#dddddd"/><stop offset=".5771" stop-color="#c1c1c1"/><stop offset=".5884" stop-color="#333333"/><stop offset=".5934" stop-color="#222222"/><stop offset=".5984" stop-color="#454545"/><stop offset=".6085" stop-color="#c6c6c6"/><stop offset=".6135" stop-color="#dddddd"/><stop offset=".6185" stop-color="#c0c0c0"/><stop offset=".6298" stop-color="#343434"/><stop offset=".6348" stop-color="#252525"/><stop offset=".6398" stop-color="#494949"/><stop offset=".6499" stop-color="#c2c2c2"/><stop offset=".6549" stop-color="#d5d5d5"/><stop offset=".6599" stop-color="#b8b8b8"/><stop offset=".6699" stop-color="#484848"/><stop offset=".6749" stop-color="#343434"/><stop offset=".68" stop-color="#4a4a4a"/><stop offset=".69" stop-color="#a9a9a9"/><stop offset=".695" stop-color="#bcbcbc"/><stop offset=".7" stop-color="#adadad"/><stop offset=".7113" stop-color="#5d5d5d"/><stop offset=".7163" stop-color="#535353"/><stop offset=".7226" stop-color="#696969"/><stop offset=".7314" stop-color="#959595"/><stop offset=".7377" stop-color="#9b9b9b"/><stop offset=".7527" stop-color="#727272"/><stop offset=".759" stop-color="#717171"/><stop offset=".7728" stop-color="#868686"/><stop offset=".7816" stop-color="#858585"/><stop offset=".7954" stop-color="#7c7c7c"/><stop offset=".818" stop-color="#818181"/><stop offset=".8393" stop-color="#7f7f7f"/><stop offset=".9999" stop-color="#7f7f7f"/></linearGradient><linearGradient id="a18" x2="0" y2="1"><stop offset="0" stop-color="#808080"/><stop offset=".3801" stop-color="#7f7f7f"/><stop offset=".3927" stop-color="#7d7d7d"/><stop offset=".4102" stop-color="#878787"/><stop offset=".4178" stop-color="#808080"/><stop offset=".4291" stop-color="#6f6f6f"/><stop offset=".4353" stop-color="#767676"/><stop offset=".4491" stop-color="#9d9d9d"/><stop offset=".4541" stop-color="#989898"/><stop offset=".4692" stop-color="#525252"/><stop offset=".4742" stop-color="#585858"/><stop offset=".4805" stop-color="#818181"/><stop offset=".488" stop-color="#b9b9b9"/><stop offset=".493" stop-color="#bebebe"/><stop offset=".4993" stop-color="#929292"/><stop offset=".5081" stop-color="#3b3b3b"/><stop offset=".5131" stop-color="#303030"/><stop offset=".5181" stop-color="#525252"/><stop offset=".5282" stop-color="#cacaca"/><stop offset=".5332" stop-color="#dcdcdc"/><stop offset=".5382" stop-color="#bababa"/><stop offset=".5482" stop-color="#343434"/><stop offset=".5533" stop-color="#1b1b1b"/><stop offset=".5583" stop-color="#3a3a3a"/><stop offset=".5696" stop-color="#d4d4d4"/><stop offset=".5746" stop-color="#e6e6e6"/><stop offset=".5796" stop-color="#c0c0c0"/><stop offset=".5896" stop-color="#303030"/><stop offset=".5934" stop-color="#181818"/><stop offset=".5984" stop-color="#2a2a2a"/><stop offset=".611" stop-color="#d5d5d5"/><stop offset=".6147" stop-color="#e8e8e8"/><stop offset=".6197" stop-color="#cecece"/><stop offset=".631" stop-color="#313131"/><stop offset=".6361" stop-color="#191919"/><stop offset=".6411" stop-color="#3a3a3a"/><stop offset=".6511" stop-color="#c4c4c4"/><stop offset=".6561" stop-color="#e0e0e0"/><stop offset=".6611" stop-color="#c6c6c6"/><stop offset=".6724" stop-color="#3d3d3d"/><stop offset=".6775" stop-color="#2b2b2b"/><stop offset=".6837" stop-color="#555555"/><stop offset=".6925" stop-color="#b2b2b2"/><stop offset=".6975" stop-color="#c4c4c4"/><stop offset=".7038" stop-color="#a6a6a6"/><stop offset=".7138" stop-color="#565656"/><stop offset=".7201" stop-color="#515151"/><stop offset=".7339" stop-color="#999999"/><stop offset=".7389" stop-color="#9f9f9f"/><stop offset=".7477" stop-color="#868686"/><stop offset=".754" stop-color="#727272"/><stop offset=".7603" stop-color="#6e6e6e"/><stop offset=".7766" stop-color="#888888"/><stop offset=".7879" stop-color="#828282"/><stop offset=".7979" stop-color="#7c7c7c"/><stop offset=".8205" stop-color="#818181"/><stop offset=".8456" stop-color="#7f7f7f"/><stop offset=".9999" stop-color="#7f7f7f"/></linearGradient><linearGradient id="a19" x2="0" y2="1"><stop offset="0" stop-color="#808080"/><stop offset=".3663" stop-color="#808080"/><stop offset=".3776" stop-color="#808080"/><stop offset=".3927" stop-color="#7c7c7c"/><stop offset=".4102" stop-color="#888888"/><stop offset=".4178" stop-color="#838383"/><stop offset=".4303" stop-color="#6d6d6d"/><stop offset=".4366" stop-color="#737373"/><stop offset=".4504" stop-color="#a1a1a1"/><stop offset=".4567" stop-color="#979797"/><stop offset=".4692" stop-color="#505050"/><stop offset=".4742" stop-color="#4d4d4d"/><stop offset=".4805" stop-color="#737373"/><stop offset=".4893" stop-color="#bfbfbf"/><stop offset=".4943" stop-color="#c6c6c6"/><stop offset=".4993" stop-color="#a5a5a5"/><stop offset=".5093" stop-color="#353535"/><stop offset=".5144" stop-color="#262626"/><stop offset=".5194" stop-color="#4a4a4a"/><stop offset=".5294" stop-color="#d0d0d0"/><stop offset=".5344" stop-color="#e6e6e6"/><stop offset=".5395" stop-color="#c4c4c4"/><stop offset=".5507" stop-color="#232323"/><stop offset=".5545" stop-color="#111111"/><stop offset=".5595" stop-color="#2f2f2f"/><stop offset=".5708" stop-color="#d8d8d8"/><stop offset=".5746" stop-color="#f0f0f0"/><stop offset=".5783" stop-color="#e5e5e5"/><stop offset=".5846" stop-color="#909090"/><stop offset=".5921" stop-color="#202020"/><stop offset=".5972" stop-color="#0f0f0f"/><stop offset=".6022" stop-color="#3c3c3c"/><stop offset=".6122" stop-color="#d8d8d8"/><stop offset=".616" stop-color="#f1f1f1"/><stop offset=".621" stop-color="#dadada"/><stop offset=".6335" stop-color="#222222"/><stop offset=".6373" stop-color="#101010"/><stop offset=".6423" stop-color="#2e2e2e"/><stop offset=".6536" stop-color="#d2d2d2"/><stop offset=".6586" stop-color="#e7e7e7"/><stop offset=".6637" stop-color="#c3c3c3"/><stop offset=".6737" stop-color="#3d3d3d"/><stop offset=".6787" stop-color="#242424"/><stop offset=".6837" stop-color="#3f3f3f"/><stop offset=".695" stop-color="#bbbbbb"/><stop offset=".7" stop-color="#c8c8c8"/><stop offset=".7063" stop-color="#a2a2a2"/><stop offset=".7151" stop-color="#575757"/><stop offset=".7201" stop-color="#4b4b4b"/><stop offset=".7264" stop-color="#636363"/><stop offset=".7352" stop-color="#989898"/><stop offset=".7402" stop-color="#a1a1a1"/><stop offset=".7477" stop-color="#8e8e8e"/><stop offset=".7565" stop-color="#717171"/><stop offset=".7628" stop-color="#6e6e6e"/><stop offset=".7766" stop-color="#868686"/><stop offset=".7853" stop-color="#868686"/><stop offset=".7966" stop-color="#7d7d7d"/><stop offset=".8067" stop-color="#7d7d7d"/><stop offset=".823" stop-color="#818181"/><stop offset=".8481" stop-color="#7f7f7f"/><stop offset=".9999" stop-color="#7f7f7f"/></linearGradient><linearGradient id="a20" x2="0" y2="1"><stop offset="0" stop-color="#808080"/><stop offset=".3663" stop-color="#808080"/><stop offset=".3789" stop-color="#808080"/><stop offset=".3927" stop-color="#7b7b7b"/><stop offset=".4027" stop-color="#828282"/><stop offset=".4127" stop-color="#8a8a8a"/><stop offset=".419" stop-color="#848484"/><stop offset=".4316" stop-color="#6a6a6a"/><stop offset=".4378" stop-color="#707070"/><stop offset=".4516" stop-color="#a5a5a5"/><stop offset=".4567" stop-color="#a1a1a1"/><stop offset=".4642" stop-color="#747474"/><stop offset=".4717" stop-color="#464646"/><stop offset=".4767" stop-color="#494949"/><stop offset=".483" stop-color="#7b7b7b"/><stop offset=".4905" stop-color="#c4c4c4"/><stop offset=".4955" stop-color="#d0d0d0"/><stop offset=".5006" stop-color="#adadad"/><stop offset=".5106" stop-color="#303030"/><stop offset=".5156" stop-color="#1c1c1c"/><stop offset=".5206" stop-color="#404040"/><stop offset=".5319" stop-color="#e0e0e0"/><stop offset=".5369" stop-color="#eeeeee"/><stop offset=".542" stop-color="#bebebe"/><stop offset=".552" stop-color="#1f1f1f"/><stop offset=".5558" stop-color="#080808"/><stop offset=".5595" stop-color="#171717"/><stop offset=".5658" stop-color="#737373"/><stop offset=".5733" stop-color="#e9e9e9"/><stop offset=".5771" stop-color="#fafafa"/><stop offset=".5821" stop-color="#d6d6d6"/><stop offset=".5934" stop-color="#1c1c1c"/><stop offset=".5972" stop-color="#040404"/><stop offset=".6022" stop-color="#202020"/><stop offset=".6135" stop-color="#dadada"/><stop offset=".6172" stop-color="#f9f9f9"/><stop offset=".621" stop-color="#f1f1f1"/><stop offset=".626" stop-color="#b0b0b0"/><stop offset=".6348" stop-color="#202020"/><stop offset=".6386" stop-color="#080808"/><stop offset=".6436" stop-color="#232323"/><stop offset=".6549" stop-color="#d2d2d2"/><stop offset=".6599" stop-color="#eeeeee"/><stop offset=".6649" stop-color="#cdcdcd"/><stop offset=".6762" stop-color="#313131"/><stop offset=".6812" stop-color="#202020"/><stop offset=".6862" stop-color="#444444"/><stop offset=".6963" stop-color="#bababa"/><stop offset=".7013" stop-color="#cccccc"/><stop offset=".7076" stop-color="#a9a9a9"/><stop offset=".7163" stop-color="#595959"/><stop offset=".7214" stop-color="#494949"/><stop offset=".7276" stop-color="#5f5f5f"/><stop offset=".7364" stop-color="#969696"/><stop offset=".7414" stop-color="#a2a2a2"/><stop offset=".749" stop-color="#919191"/><stop offset=".7577" stop-color="#727272"/><stop offset=".764" stop-color="#6e6e6e"/><stop offset=".7791" stop-color="#878787"/><stop offset=".7891" stop-color="#858585"/><stop offset=".7991" stop-color="#7d7d7d"/><stop offset=".8092" stop-color="#7d7d7d"/><stop offset=".8242" stop-color="#818181"/><stop offset=".8518" stop-color="#7f7f7f"/><stop offset=".9999" stop-color="#7f7f7f"/></linearGradient><linearGradient id="a21" x2="0" y2="1"><stop offset="0" stop-color="#808080"/><stop offset=".3663" stop-color="#808080"/><stop offset=".3814" stop-color="#808080"/><stop offset=".3939" stop-color="#7b7b7b"/><stop offset=".4015" stop-color="#7f7f7f"/><stop offset=".414" stop-color="#8c8c8c"/><stop offset=".4215" stop-color="#838383"/><stop offset=".4328" stop-color="#676767"/><stop offset=".4391" stop-color="#6d6d6d"/><stop offset=".4529" stop-color="#a9a9a9"/><stop offset=".4579" stop-color="#a7a7a7"/><stop offset=".4654" stop-color="#777777"/><stop offset=".473" stop-color="#424242"/><stop offset=".478" stop-color="#414141"/><stop offset=".4843" stop-color="#757575"/><stop offset=".493" stop-color="#d0d0d0"/><stop offset=".4981" stop-color="#d5d5d5"/><stop offset=".5031" stop-color="#a8a8a8"/><stop offset=".5131" stop-color="#212121"/><stop offset=".5181" stop-color="#151515"/><stop offset=".5231" stop-color="#454545"/><stop offset=".5332" stop-color="#e3e3e3"/><stop offset=".5382" stop-color="#f8f8f8"/><stop offset=".5432" stop-color="#cacaca"/><stop offset=".5533" stop-color="#1d1d1d"/><stop offset=".557" stop-color="#000000"/><stop offset=".5608" stop-color="#0b0b0b"/><stop offset=".5658" stop-color="#515151"/><stop offset=".5733" stop-color="#dbdbdb"/><stop offset=".5771" stop-color="#ffffff"/><stop offset=".5821" stop-color="#f1f1f1"/><stop offset=".5884" stop-color="#8b8b8b"/><stop offset=".5947" stop-color="#1c1c1c"/><stop offset=".5984" stop-color="#000000"/><stop offset=".6022" stop-color="#080808"/><stop offset=".6085" stop-color="#666666"/><stop offset=".616" stop-color="#eaeaea"/><stop offset=".6197" stop-color="#ffffff"/><stop offset=".6235" stop-color="#f1f1f1"/><stop offset=".6298" stop-color="#8d8d8d"/><stop offset=".6361" stop-color="#202020"/><stop offset=".6411" stop-color="#010101"/><stop offset=".6461" stop-color="#282828"/><stop offset=".6561" stop-color="#d1d1d1"/><stop offset=".6611" stop-color="#f4f4f4"/><stop offset=".6662" stop-color="#d7d7d7"/><stop offset=".6775" stop-color="#323232"/><stop offset=".6825" stop-color="#1b1b1b"/><stop offset=".6875" stop-color="#3c3c3c"/><stop offset=".6975" stop-color="#b8b8b8"/><stop offset=".7025" stop-color="#cfcfcf"/><stop offset=".7076" stop-color="#b9b9b9"/><stop offset=".7189" stop-color="#535353"/><stop offset=".7239" stop-color="#484848"/><stop offset=".7314" stop-color="#6c6c6c"/><stop offset=".7389" stop-color="#999999"/><stop offset=".7452" stop-color="#a1a1a1"/><stop offset=".7603" stop-color="#717171"/><stop offset=".7665" stop-color="#6f6f6f"/><stop offset=".7816" stop-color="#878787"/><stop offset=".7916" stop-color="#848484"/><stop offset=".8017" stop-color="#7d7d7d"/><stop offset=".8167" stop-color="#7f7f7f"/><stop offset=".9999" stop-color="#808080"/></linearGradient><linearGradient id="a22" x2="0" y2="1"><stop offset="0" stop-color="#808080"/><stop offset=".3676" stop-color="#808080"/><stop offset=".3826" stop-color="#808080"/><stop offset=".3964" stop-color="#7a7a7a"/><stop offset=".404" stop-color="#7f7f7f"/><stop offset=".4165" stop-color="#8e8e8e"/><stop offset=".424" stop-color="#828282"/><stop offset=".4353" stop-color="#636363"/><stop offset=".4416" stop-color="#6d6d6d"/><stop offset=".4554" stop-color="#afafaf"/><stop offset=".4604" stop-color="#a9a9a9"/><stop offset=".4667" stop-color="#7c7c7c"/><stop offset=".4755" stop-color="#393939"/><stop offset=".4805" stop-color="#3e3e3e"/><stop offset=".4868" stop-color="#7c7c7c"/><stop offset=".4943" stop-color="#d3d3d3"/><stop offset=".4993" stop-color="#dfdfdf"/><stop offset=".5043" stop-color="#b4b4b4"/><stop offset=".5144" stop-color="#202020"/><stop offset=".5194" stop-color="#0b0b0b"/><stop offset=".5244" stop-color="#373737"/><stop offset=".5344" stop-color="#e3e3e3"/><stop offset=".5382" stop-color="#ffffff"/><stop offset=".542" stop-color="#f6f6f6"/><stop offset=".547" stop-color="#aeaeae"/><stop offset=".5545" stop-color="#1f1f1f"/><stop offset=".557" stop-color="#010101"/><stop offset=".5633" stop-color="#090909"/><stop offset=".5696" stop-color="#757575"/><stop offset=".5758" stop-color="#ebebeb"/><stop offset=".5796" stop-color="#ffffff"/><stop offset=".5834" stop-color="#fefefe"/><stop offset=".5884" stop-color="#b2b2b2"/><stop offset=".5959" stop-color="#1e1e1e"/><stop offset=".5984" stop-color="#000000"/><stop offset=".6047" stop-color="#070707"/><stop offset=".6097" stop-color="#585858"/><stop offset=".6172" stop-color="#e9e9e9"/><stop offset=".621" stop-color="#ffffff"/><stop offset=".6248" stop-color="#fefefe"/><stop offset=".6298" stop-color="#b3b3b3"/><stop offset=".6373" stop-color="#232323"/><stop offset=".6411" stop-color="#000000"/><stop offset=".6461" stop-color="#0c0c0c"/><stop offset=".6524" stop-color="#727272"/><stop offset=".6586" stop-color="#dddddd"/><stop offset=".6637" stop-color="#fafafa"/><stop offset=".6687" stop-color="#d3d3d3"/><stop offset=".6787" stop-color="#353535"/><stop offset=".6837" stop-color="#171717"/><stop offset=".6887" stop-color="#323232"/><stop offset=".7" stop-color="#bfbfbf"/><stop offset=".7051" stop-color="#d0d0d0"/><stop offset=".7113" stop-color="#a9a9a9"/><stop offset=".7201" stop-color="#565656"/><stop offset=".7251" stop-color="#474747"/><stop offset=".7314" stop-color="#5f5f5f"/><stop offset=".7402" stop-color="#979797"/><stop offset=".7465" stop-color="#a1a1a1"/><stop offset=".7565" stop-color="#818181"/><stop offset=".764" stop-color="#6e6e6e"/><stop offset=".7728" stop-color="#767676"/><stop offset=".7828" stop-color="#868686"/><stop offset=".7929" stop-color="#848484"/><stop offset=".8042" stop-color="#7d7d7d"/><stop offset=".8305" stop-color="#808080"/><stop offset=".9999" stop-color="#808080"/></linearGradient><linearGradient id="a23" x2="0" y2="1"><stop offset="0" stop-color="#808080"/><stop offset=".3688" stop-color="#808080"/><stop offset=".3789" stop-color="#828282"/><stop offset=".3902" stop-color="#7c7c7c"/><stop offset=".3989" stop-color="#797979"/><stop offset=".4077" stop-color="#828282"/><stop offset=".4178" stop-color="#8f8f8f"/><stop offset=".4253" stop-color="#848484"/><stop offset=".4366" stop-color="#626262"/><stop offset=".4429" stop-color="#686868"/><stop offset=".4567" stop-color="#b1b1b1"/><stop offset=".4617" stop-color="#afafaf"/><stop offset=".4679" stop-color="#828282"/><stop offset=".4767" stop-color="#383838"/><stop offset=".4817" stop-color="#373737"/><stop offset=".488" stop-color="#727272"/><stop offset=".4955" stop-color="#d1d1d1"/><stop offset=".5006" stop-color="#e5e5e5"/><stop offset=".5056" stop-color="#c0c0c0"/><stop offset=".5169" stop-color="#161616"/><stop offset=".5219" stop-color="#080808"/><stop offset=".5269" stop-color="#3d3d3d"/><stop offset=".5369" stop-color="#eeeeee"/><stop offset=".5407" stop-color="#ffffff"/><stop offset=".5445" stop-color="#f5f5f5"/><stop offset=".5495" stop-color="#a4a4a4"/><stop offset=".557" stop-color="#141414"/><stop offset=".5595" stop-color="#000000"/><stop offset=".5645" stop-color="#000000"/><stop offset=".5696" stop-color="#4c4c4c"/><stop offset=".5771" stop-color="#e3e3e3"/><stop offset=".5796" stop-color="#ffffff"/><stop offset=".5859" stop-color="#fcfcfc"/><stop offset=".5921" stop-color="#8d8d8d"/><stop offset=".5984" stop-color="#131313"/><stop offset=".6009" stop-color="#000000"/><stop offset=".6072" stop-color="#0a0a0a"/><stop offset=".6135" stop-color="#7f7f7f"/><stop offset=".6197" stop-color="#f3f3f3"/><stop offset=".6235" stop-color="#ffffff"/><stop offset=".6273" stop-color="#fbfbfb"/><stop offset=".6335" stop-color="#8f8f8f"/><stop offset=".6398" stop-color="#181818"/><stop offset=".6436" stop-color="#000000"/><stop offset=".6473" stop-color="#030303"/><stop offset=".6524" stop-color="#4c4c4c"/><stop offset=".6599" stop-color="#d6d6d6"/><stop offset=".6649" stop-color="#fcfcfc"/><stop offset=".6699" stop-color="#dddddd"/><stop offset=".6812" stop-color="#2e2e2e"/><stop offset=".6862" stop-color="#171717"/><stop offset=".6913" stop-color="#393939"/><stop offset=".7013" stop-color="#bababa"/><stop offset=".7063" stop-color="#d1d1d1"/><stop offset=".7126" stop-color="#afafaf"/><stop offset=".7226" stop-color="#535353"/><stop offset=".7276" stop-color="#484848"/><stop offset=".7352" stop-color="#6c6c6c"/><stop offset=".7427" stop-color="#999999"/><stop offset=".749" stop-color="#a0a0a0"/><stop offset=".764" stop-color="#717171"/><stop offset=".7715" stop-color="#717171"/><stop offset=".7841" stop-color="#858585"/><stop offset=".7929" stop-color="#858585"/><stop offset=".8054" stop-color="#7d7d7d"/><stop offset=".8318" stop-color="#808080"/><stop offset=".9999" stop-color="#808080"/></linearGradient><linearGradient id="a24" x2="0" y2="1"><stop offset="0" stop-color="#808080"/><stop offset=".3701" stop-color="#808080"/><stop offset=".3826" stop-color="#828282"/><stop offset=".4002" stop-color="#787878"/><stop offset=".409" stop-color="#818181"/><stop offset=".419" stop-color="#909090"/><stop offset=".4253" stop-color="#8a8a8a"/><stop offset=".4391" stop-color="#5f5f5f"/><stop offset=".4454" stop-color="#696969"/><stop offset=".4579" stop-color="#b1b1b1"/><stop offset=".4629" stop-color="#b3b3b3"/><stop offset=".4692" stop-color="#898989"/><stop offset=".478" stop-color="#393939"/><stop offset=".483" stop-color="#323232"/><stop offset=".488" stop-color="#595959"/><stop offset=".4981" stop-color="#d8d8d8"/><stop offset=".5031" stop-color="#e6e6e6"/><stop offset=".5081" stop-color="#bababa"/><stop offset=".5181" stop-color="#1c1c1c"/><stop offset=".5231" stop-color="#050505"/><stop offset=".5282" stop-color="#323232"/><stop offset=".5382" stop-color="#e6e6e6"/><stop offset=".542" stop-color="#ffffff"/><stop offset=".5457" stop-color="#fcfcfc"/><stop offset=".5507" stop-color="#b3b3b3"/><stop offset=".5583" stop-color="#1e1e1e"/><stop offset=".5608" stop-color="#000000"/><stop offset=".5671" stop-color="#040404"/><stop offset=".5733" stop-color="#717171"/><stop offset=".5796" stop-color="#ececec"/><stop offset=".5821" stop-color="#ffffff"/><stop offset=".5884" stop-color="#f6f6f6"/><stop offset=".5947" stop-color="#818181"/><stop offset=".6009" stop-color="#0b0b0b"/><stop offset=".6059" stop-color="#000000"/><stop offset=".6085" stop-color="#020202"/><stop offset=".6147" stop-color="#6f6f6f"/><stop offset=".621" stop-color="#e9e9e9"/><stop offset=".6235" stop-color="#ffffff"/><stop offset=".6298" stop-color="#f5f5f5"/><stop offset=".6373" stop-color="#696969"/><stop offset=".6423" stop-color="#121212"/><stop offset=".6461" stop-color="#000000"/><stop offset=".6499" stop-color="#090909"/><stop offset=".6561" stop-color="#6f6f6f"/><stop offset=".6624" stop-color="#dcdcdc"/><stop offset=".6662" stop-color="#f9f9f9"/><stop offset=".6712" stop-color="#e4e4e4"/><stop offset=".6837" stop-color="#2a2a2a"/><stop offset=".6887" stop-color="#1a1a1a"/><stop offset=".6938" stop-color="#404040"/><stop offset=".7038" stop-color="#bdbdbd"/><stop offset=".7088" stop-color="#cecece"/><stop offset=".7151" stop-color="#a9a9a9"/><stop offset=".7239" stop-color="#595959"/><stop offset=".7289" stop-color="#4a4a4a"/><stop offset=".7352" stop-color="#616161"/><stop offset=".7452" stop-color="#999999"/><stop offset=".7515" stop-color="#9d9d9d"/><stop offset=".7653" stop-color="#737373"/><stop offset=".7728" stop-color="#727272"/><stop offset=".7853" stop-color="#848484"/><stop offset=".7941" stop-color="#858585"/><stop offset=".8079" stop-color="#7d7d7d"/><stop offset=".8318" stop-color="#808080"/><stop offset=".9999" stop-color="#7f7f7f"/></linearGradient><linearGradient id="a25" x2="0" y2="1"><stop offset="0" stop-color="#808080"/><stop offset=".3713" stop-color="#808080"/><stop offset=".3851" stop-color="#828282"/><stop offset=".4015" stop-color="#787878"/><stop offset=".409" stop-color="#7e7e7e"/><stop offset=".4215" stop-color="#919191"/><stop offset=".4278" stop-color="#898989"/><stop offset=".4403" stop-color="#5e5e5e"/><stop offset=".4466" stop-color="#656565"/><stop offset=".4604" stop-color="#b5b5b5"/><stop offset=".4654" stop-color="#b4b4b4"/><stop offset=".4717" stop-color="#858585"/><stop offset=".4805" stop-color="#343434"/><stop offset=".4855" stop-color="#323232"/><stop offset=".4918" stop-color="#6f6f6f"/><stop offset=".5006" stop-color="#dedede"/><stop offset=".5056" stop-color="#e6e6e6"/><stop offset=".5106" stop-color="#b3b3b3"/><stop offset=".5206" stop-color="#151515"/><stop offset=".5244" stop-color="#020202"/><stop offset=".5294" stop-color="#262626"/><stop offset=".5407" stop-color="#ededed"/><stop offset=".5445" stop-color="#ffffff"/><stop offset=".5482" stop-color="#f8f8f8"/><stop offset=".5533" stop-color="#a9a9a9"/><stop offset=".5608" stop-color="#161616"/><stop offset=".5645" stop-color="#000000"/><stop offset=".5696" stop-color="#090909"/><stop offset=".5758" stop-color="#7c7c7c"/><stop offset=".5821" stop-color="#f2f2f2"/><stop offset=".5859" stop-color="#ffffff"/><stop offset=".5896" stop-color="#fefefe"/><stop offset=".5947" stop-color="#adadad"/><stop offset=".6022" stop-color="#161616"/><stop offset=".6047" stop-color="#000000"/><stop offset=".611" stop-color="#070707"/><stop offset=".6172" stop-color="#7a7a7a"/><stop offset=".6235" stop-color="#f0f0f0"/><stop offset=".626" stop-color="#ffffff"/><stop offset=".631" stop-color="#fdfdfd"/><stop offset=".6373" stop-color="#939393"/><stop offset=".6436" stop-color="#1c1c1c"/><stop offset=".6473" stop-color="#000000"/><stop offset=".6524" stop-color="#0f0f0f"/><stop offset=".6599" stop-color="#919191"/><stop offset=".6649" stop-color="#e1e1e1"/><stop offset=".6699" stop-color="#f8f8f8"/><stop offset=".6749" stop-color="#cdcdcd"/><stop offset=".685" stop-color="#333333"/><stop offset=".69" stop-color="#1a1a1a"/><stop offset=".695" stop-color="#393939"/><stop offset=".7051" stop-color="#b5b5b5"/><stop offset=".7101" stop-color="#cccccc"/><stop offset=".7163" stop-color="#aeaeae"/><stop offset=".7264" stop-color="#575757"/><stop offset=".7314" stop-color="#4d4d4d"/><stop offset=".7377" stop-color="#656565"/><stop offset=".7465" stop-color="#959595"/><stop offset=".7515" stop-color="#9d9d9d"/><stop offset=".7603" stop-color="#888888"/><stop offset=".7678" stop-color="#737373"/><stop offset=".7753" stop-color="#737373"/><stop offset=".7879" stop-color="#848484"/><stop offset=".7954" stop-color="#858585"/><stop offset=".8092" stop-color="#7e7e7e"/><stop offset=".8242" stop-color="#7f7f7f"/><stop offset=".9999" stop-color="#7f7f7f"/></linearGradient><linearGradient id="a26" x2="0" y2="1"><stop offset="0" stop-color="#808080"/><stop offset=".3739" stop-color="#808080"/><stop offset=".3851" stop-color="#828282"/><stop offset=".3952" stop-color="#7c7c7c"/><stop offset=".4052" stop-color="#777777"/><stop offset=".4178" stop-color="#8b8b8b"/><stop offset=".4253" stop-color="#929292"/><stop offset=".4316" stop-color="#848484"/><stop offset=".4429" stop-color="#5c5c5c"/><stop offset=".4491" stop-color="#666666"/><stop offset=".4629" stop-color="#b8b8b8"/><stop offset=".4679" stop-color="#b3b3b3"/><stop offset=".4742" stop-color="#808080"/><stop offset=".483" stop-color="#303030"/><stop offset=".488" stop-color="#333333"/><stop offset=".4943" stop-color="#757575"/><stop offset=".5018" stop-color="#d8d8d8"/><stop offset=".5068" stop-color="#eaeaea"/><stop offset=".5119" stop-color="#bfbfbf"/><stop offset=".5219" stop-color="#1e1e1e"/><stop offset=".5269" stop-color="#030303"/><stop offset=".5319" stop-color="#2c2c2c"/><stop offset=".542" stop-color="#e1e1e1"/><stop offset=".5457" stop-color="#ffffff"/><stop offset=".5495" stop-color="#ffffff"/><stop offset=".5545" stop-color="#b9b9b9"/><stop offset=".5633" stop-color="#111111"/><stop offset=".5671" stop-color="#000000"/><stop offset=".5708" stop-color="#010101"/><stop offset=".5758" stop-color="#505050"/><stop offset=".5834" stop-color="#e5e5e5"/><stop offset=".5871" stop-color="#ffffff"/><stop offset=".5921" stop-color="#f9f9f9"/><stop offset=".5984" stop-color="#898989"/><stop offset=".6047" stop-color="#111111"/><stop offset=".6072" stop-color="#000000"/><stop offset=".6122" stop-color="#000000"/><stop offset=".6172" stop-color="#4e4e4e"/><stop offset=".6248" stop-color="#e3e3e3"/><stop offset=".6273" stop-color="#ffffff"/><stop offset=".6335" stop-color="#f7f7f7"/><stop offset=".6398" stop-color="#8b8b8b"/><stop offset=".6461" stop-color="#181818"/><stop offset=".6499" stop-color="#000000"/><stop offset=".6536" stop-color="#080808"/><stop offset=".6599" stop-color="#686868"/><stop offset=".6662" stop-color="#d5d5d5"/><stop offset=".6712" stop-color="#f7f7f7"/><stop offset=".6762" stop-color="#d6d6d6"/><stop offset=".6875" stop-color="#313131"/><stop offset=".6925" stop-color="#1e1e1e"/><stop offset=".6975" stop-color="#404040"/><stop offset=".7076" stop-color="#b6b6b6"/><stop offset=".7126" stop-color="#c9c9c9"/><stop offset=".7189" stop-color="#a9a9a9"/><stop offset=".7276" stop-color="#5e5e5e"/><stop offset=".7327" stop-color="#4f4f4f"/><stop offset=".7389" stop-color="#626262"/><stop offset=".7477" stop-color="#919191"/><stop offset=".7527" stop-color="#9c9c9c"/><stop offset=".7615" stop-color="#8a8a8a"/><stop offset=".7703" stop-color="#747474"/><stop offset=".7778" stop-color="#747474"/><stop offset=".7904" stop-color="#848484"/><stop offset=".8004" stop-color="#838383"/><stop offset=".8117" stop-color="#7e7e7e"/><stop offset=".8468" stop-color="#808080"/><stop offset=".9999" stop-color="#808080"/></linearGradient><linearGradient id="a27" x2="0" y2="1"><stop offset="0" stop-color="#808080"/><stop offset=".3751" stop-color="#808080"/><stop offset=".3889" stop-color="#828282"/><stop offset=".4052" stop-color="#777777"/><stop offset=".414" stop-color="#7f7f7f"/><stop offset=".4253" stop-color="#929292"/><stop offset=".4328" stop-color="#878787"/><stop offset=".4441" stop-color="#5f5f5f"/><stop offset=".4504" stop-color="#646464"/><stop offset=".4592" stop-color="#989898"/><stop offset=".4654" stop-color="#b7b7b7"/><stop offset=".4705" stop-color="#afafaf"/><stop offset=".478" stop-color="#6f6f6f"/><stop offset=".4855" stop-color="#323232"/><stop offset=".4905" stop-color="#383838"/><stop offset=".4968" stop-color="#7b7b7b"/><stop offset=".5043" stop-color="#d7d7d7"/><stop offset=".5093" stop-color="#e4e4e4"/><stop offset=".5144" stop-color="#b8b8b8"/><stop offset=".5244" stop-color="#1f1f1f"/><stop offset=".5282" stop-color="#080808"/><stop offset=".5332" stop-color="#242424"/><stop offset=".5445" stop-color="#e2e2e2"/><stop offset=".5482" stop-color="#ffffff"/><stop offset=".552" stop-color="#f7f7f7"/><stop offset=".557" stop-color="#b0b0b0"/><stop offset=".5645" stop-color="#232323"/><stop offset=".5683" stop-color="#000000"/><stop offset=".5733" stop-color="#0a0a0a"/><stop offset=".5796" stop-color="#727272"/><stop offset=".5859" stop-color="#e6e6e6"/><stop offset=".5896" stop-color="#ffffff"/><stop offset=".5947" stop-color="#f0f0f0"/><stop offset=".6022" stop-color="#686868"/><stop offset=".6072" stop-color="#121212"/><stop offset=".611" stop-color="#000000"/><stop offset=".6147" stop-color="#080808"/><stop offset=".621" stop-color="#6f6f6f"/><stop offset=".6273" stop-color="#e3e3e3"/><stop offset=".631" stop-color="#ffffff"/><stop offset=".6348" stop-color="#fbfbfb"/><stop offset=".6398" stop-color="#b4b4b4"/><stop offset=".6486" stop-color="#191919"/><stop offset=".6524" stop-color="#000000"/><stop offset=".6574" stop-color="#1e1e1e"/><stop offset=".6687" stop-color="#d5d5d5"/><stop offset=".6737" stop-color="#f1f1f1"/><stop offset=".6787" stop-color="#cecece"/><stop offset=".6887" stop-color="#3e3e3e"/><stop offset=".6938" stop-color="#212121"/><stop offset=".6988" stop-color="#393939"/><stop offset=".7101" stop-color="#b6b6b6"/><stop offset=".7151" stop-color="#c6c6c6"/><stop offset=".7214" stop-color="#a4a4a4"/><stop offset=".7301" stop-color="#5e5e5e"/><stop offset=".7352" stop-color="#515151"/><stop offset=".7427" stop-color="#6b6b6b"/><stop offset=".7502" stop-color="#929292"/><stop offset=".7565" stop-color="#9a9a9a"/><stop offset=".7715" stop-color="#757575"/><stop offset=".7791" stop-color="#747474"/><stop offset=".7929" stop-color="#848484"/><stop offset=".8029" stop-color="#838383"/><stop offset=".8142" stop-color="#7e7e7e"/><stop offset=".8493" stop-color="#808080"/><stop offset=".9999" stop-color="#808080"/></linearGradient><linearGradient id="a28" x2="0" y2="1"><stop offset="0" stop-color="#808080"/><stop offset=".3776" stop-color="#808080"/><stop offset=".3914" stop-color="#828282"/><stop offset=".409" stop-color="#787878"/><stop offset=".4178" stop-color="#828282"/><stop offset=".4278" stop-color="#919191"/><stop offset=".4341" stop-color="#898989"/><stop offset=".4466" stop-color="#616161"/><stop offset=".4516" stop-color="#636363"/><stop offset=".4579" stop-color="#808080"/><stop offset=".4667" stop-color="#b1b1b1"/><stop offset=".4717" stop-color="#b0b0b0"/><stop offset=".478" stop-color="#858585"/><stop offset=".4868" stop-color="#3b3b3b"/><stop offset=".4918" stop-color="#383838"/><stop offset=".4981" stop-color="#6e6e6e"/><stop offset=".5068" stop-color="#d4d4d4"/><stop offset=".5119" stop-color="#dddddd"/><stop offset=".5169" stop-color="#b1b1b1"/><stop offset=".5269" stop-color="#222222"/><stop offset=".5319" stop-color="#101010"/><stop offset=".5369" stop-color="#3c3c3c"/><stop offset=".547" stop-color="#dfdfdf"/><stop offset=".552" stop-color="#fafafa"/><stop offset=".557" stop-color="#d2d2d2"/><stop offset=".5671" stop-color="#252525"/><stop offset=".5721" stop-color="#000000"/><stop offset=".5771" stop-color="#212121"/><stop offset=".5884" stop-color="#e3e3e3"/><stop offset=".5921" stop-color="#ffffff"/><stop offset=".5959" stop-color="#f4f4f4"/><stop offset=".6022" stop-color="#969696"/><stop offset=".6097" stop-color="#161616"/><stop offset=".6135" stop-color="#000000"/><stop offset=".6172" stop-color="#101010"/><stop offset=".6235" stop-color="#747474"/><stop offset=".6298" stop-color="#e0e0e0"/><stop offset=".6335" stop-color="#fdfdfd"/><stop offset=".6373" stop-color="#f3f3f3"/><stop offset=".6436" stop-color="#979797"/><stop offset=".6511" stop-color="#1c1c1c"/><stop offset=".6561" stop-color="#080808"/><stop offset=".6611" stop-color="#363636"/><stop offset=".6712" stop-color="#d3d3d3"/><stop offset=".6762" stop-color="#ebebeb"/><stop offset=".6812" stop-color="#c8c8c8"/><stop offset=".6913" stop-color="#3f3f3f"/><stop offset=".6963" stop-color="#262626"/><stop offset=".7013" stop-color="#3e3e3e"/><stop offset=".7126" stop-color="#b5b5b5"/><stop offset=".7176" stop-color="#c2c2c2"/><stop offset=".7239" stop-color="#a1a1a1"/><stop offset=".7327" stop-color="#5e5e5e"/><stop offset=".7389" stop-color="#545454"/><stop offset=".754" stop-color="#959595"/><stop offset=".7603" stop-color="#979797"/><stop offset=".7741" stop-color="#767676"/><stop offset=".7803" stop-color="#747474"/><stop offset=".7954" stop-color="#848484"/><stop offset=".8067" stop-color="#828282"/><stop offset=".818" stop-color="#7e7e7e"/><stop offset=".8506" stop-color="#808080"/><stop offset=".9999" stop-color="#808080"/></linearGradient><linearGradient id="a29" x2="0" y2="1"><stop offset="0" stop-color="#808080"/><stop offset=".3814" stop-color="#808080"/><stop offset=".3914" stop-color="#828282"/><stop offset=".4115" stop-color="#797979"/><stop offset=".4215" stop-color="#848484"/><stop offset=".4303" stop-color="#8e8e8e"/><stop offset=".4366" stop-color="#878787"/><stop offset=".4491" stop-color="#646464"/><stop offset=".4554" stop-color="#6a6a6a"/><stop offset=".4692" stop-color="#adadad"/><stop offset=".4742" stop-color="#ababab"/><stop offset=".4805" stop-color="#838383"/><stop offset=".4893" stop-color="#404040"/><stop offset=".4943" stop-color="#3f3f3f"/><stop offset=".4993" stop-color="#646464"/><stop offset=".5093" stop-color="#cecece"/><stop offset=".5144" stop-color="#d5d5d5"/><stop offset=".5194" stop-color="#acacac"/><stop offset=".5294" stop-color="#282828"/><stop offset=".5344" stop-color="#181818"/><stop offset=".5395" stop-color="#424242"/><stop offset=".5495" stop-color="#dadada"/><stop offset=".5545" stop-color="#f2f2f2"/><stop offset=".5595" stop-color="#cccccc"/><stop offset=".5708" stop-color="#1b1b1b"/><stop offset=".5758" stop-color="#090909"/><stop offset=".5809" stop-color="#393939"/><stop offset=".5909" stop-color="#dddddd"/><stop offset=".5947" stop-color="#f8f8f8"/><stop offset=".5997" stop-color="#e0e0e0"/><stop offset=".6122" stop-color="#1b1b1b"/><stop offset=".616" stop-color="#060606"/><stop offset=".621" stop-color="#252525"/><stop offset=".6323" stop-color="#dbdbdb"/><stop offset=".6373" stop-color="#f7f7f7"/><stop offset=".6423" stop-color="#d1d1d1"/><stop offset=".6536" stop-color="#212121"/><stop offset=".6586" stop-color="#0f0f0f"/><stop offset=".6637" stop-color="#3b3b3b"/><stop offset=".6737" stop-color="#cfcfcf"/><stop offset=".6787" stop-color="#e5e5e5"/><stop offset=".6837" stop-color="#c4c4c4"/><stop offset=".6938" stop-color="#424242"/><stop offset=".6988" stop-color="#2b2b2b"/><stop offset=".7038" stop-color="#434343"/><stop offset=".7151" stop-color="#b2b2b2"/><stop offset=".7201" stop-color="#bebebe"/><stop offset=".7264" stop-color="#9f9f9f"/><stop offset=".7352" stop-color="#606060"/><stop offset=".7402" stop-color="#555555"/><stop offset=".749" stop-color="#757575"/><stop offset=".7565" stop-color="#949494"/><stop offset=".7628" stop-color="#969696"/><stop offset=".7766" stop-color="#767676"/><stop offset=".7841" stop-color="#757575"/><stop offset=".7979" stop-color="#848484"/><stop offset=".8104" stop-color="#818181"/><stop offset=".8205" stop-color="#7e7e7e"/><stop offset=".8506" stop-color="#808080"/><stop offset=".9999" stop-color="#7f7f7f"/></linearGradient><linearGradient id="a30" x2="0" y2="1"><stop offset="0" stop-color="#808080"/><stop offset=".3851" stop-color="#808080"/><stop offset=".3989" stop-color="#808080"/><stop offset=".414" stop-color="#7b7b7b"/><stop offset=".4253" stop-color="#858585"/><stop offset=".4328" stop-color="#8b8b8b"/><stop offset=".4403" stop-color="#838383"/><stop offset=".4516" stop-color="#686868"/><stop offset=".4579" stop-color="#6e6e6e"/><stop offset=".4717" stop-color="#a6a6a6"/><stop offset=".478" stop-color="#a0a0a0"/><stop offset=".4868" stop-color="#666666"/><stop offset=".493" stop-color="#454545"/><stop offset=".4981" stop-color="#4c4c4c"/><stop offset=".5056" stop-color="#8d8d8d"/><stop offset=".5119" stop-color="#c5c5c5"/><stop offset=".5169" stop-color="#cccccc"/><stop offset=".5219" stop-color="#a8a8a8"/><stop offset=".5319" stop-color="#313131"/><stop offset=".5369" stop-color="#222222"/><stop offset=".542" stop-color="#474747"/><stop offset=".552" stop-color="#d1d1d1"/><stop offset=".557" stop-color="#e8e8e8"/><stop offset=".562" stop-color="#c7c7c7"/><stop offset=".5733" stop-color="#252525"/><stop offset=".5771" stop-color="#111111"/><stop offset=".5821" stop-color="#2d2d2d"/><stop offset=".5934" stop-color="#d4d4d4"/><stop offset=".5984" stop-color="#efefef"/><stop offset=".6034" stop-color="#cdcdcd"/><stop offset=".6147" stop-color="#242424"/><stop offset=".6197" stop-color="#111111"/><stop offset=".6248" stop-color="#3a3a3a"/><stop offset=".6348" stop-color="#d3d3d3"/><stop offset=".6398" stop-color="#eeeeee"/><stop offset=".6448" stop-color="#cdcdcd"/><stop offset=".6561" stop-color="#2a2a2a"/><stop offset=".6611" stop-color="#171717"/><stop offset=".6662" stop-color="#3e3e3e"/><stop offset=".6762" stop-color="#c8c8c8"/><stop offset=".6812" stop-color="#dedede"/><stop offset=".6862" stop-color="#c0c0c0"/><stop offset=".6963" stop-color="#484848"/><stop offset=".7013" stop-color="#313131"/><stop offset=".7063" stop-color="#464646"/><stop offset=".7176" stop-color="#aeaeae"/><stop offset=".7226" stop-color="#bababa"/><stop offset=".7289" stop-color="#9e9e9e"/><stop offset=".7377" stop-color="#636363"/><stop offset=".7427" stop-color="#595959"/><stop offset=".7502" stop-color="#6f6f6f"/><stop offset=".759" stop-color="#929292"/><stop offset=".7653" stop-color="#949494"/><stop offset=".7791" stop-color="#777777"/><stop offset=".7879" stop-color="#777777"/><stop offset=".7991" stop-color="#838383"/><stop offset=".8104" stop-color="#828282"/><stop offset=".8242" stop-color="#7e7e7e"/><stop offset=".8518" stop-color="#808080"/><stop offset=".9999" stop-color="#7f7f7f"/></linearGradient><linearGradient id="a31" x2="0" y2="1"><stop offset="0" stop-color="#808080"/><stop offset=".3889" stop-color="#808080"/><stop offset=".4015" stop-color="#808080"/><stop offset=".4153" stop-color="#7c7c7c"/><stop offset=".424" stop-color="#808080"/><stop offset=".4366" stop-color="#898989"/><stop offset=".4454" stop-color="#7d7d7d"/><stop offset=".4554" stop-color="#6c6c6c"/><stop offset=".4629" stop-color="#787878"/><stop offset=".4742" stop-color="#9f9f9f"/><stop offset=".4792" stop-color="#9f9f9f"/><stop offset=".4868" stop-color="#7b7b7b"/><stop offset=".4955" stop-color="#4e4e4e"/><stop offset=".5018" stop-color="#585858"/><stop offset=".5144" stop-color="#bababa"/><stop offset=".5194" stop-color="#c3c3c3"/><stop offset=".5244" stop-color="#a6a6a6"/><stop offset=".5344" stop-color="#3e3e3e"/><stop offset=".5395" stop-color="#2d2d2d"/><stop offset=".5445" stop-color="#494949"/><stop offset=".5558" stop-color="#cdcdcd"/><stop offset=".5608" stop-color="#dbdbdb"/><stop offset=".5658" stop-color="#b6b6b6"/><stop offset=".5758" stop-color="#343434"/><stop offset=".5796" stop-color="#1e1e1e"/><stop offset=".5846" stop-color="#313131"/><stop offset=".5972" stop-color="#d2d2d2"/><stop offset=".6022" stop-color="#e2e2e2"/><stop offset=".6072" stop-color="#bcbcbc"/><stop offset=".6172" stop-color="#333333"/><stop offset=".6223" stop-color="#1b1b1b"/><stop offset=".6273" stop-color="#3b3b3b"/><stop offset=".6386" stop-color="#d1d1d1"/><stop offset=".6436" stop-color="#e2e2e2"/><stop offset=".6486" stop-color="#bdbdbd"/><stop offset=".6586" stop-color="#373737"/><stop offset=".6637" stop-color="#212121"/><stop offset=".6687" stop-color="#3f3f3f"/><stop offset=".6787" stop-color="#bbbbbb"/><stop offset=".6837" stop-color="#d5d5d5"/><stop offset=".6887" stop-color="#bfbfbf"/><stop offset=".7" stop-color="#484848"/><stop offset=".7051" stop-color="#393939"/><stop offset=".7113" stop-color="#5b5b5b"/><stop offset=".7201" stop-color="#a6a6a6"/><stop offset=".7251" stop-color="#b4b4b4"/><stop offset=".7314" stop-color="#9e9e9e"/><stop offset=".7414" stop-color="#636363"/><stop offset=".7465" stop-color="#5d5d5d"/><stop offset=".7552" stop-color="#797979"/><stop offset=".7628" stop-color="#919191"/><stop offset=".7703" stop-color="#8f8f8f"/><stop offset=".7816" stop-color="#797979"/><stop offset=".7891" stop-color="#777777"/><stop offset=".8042" stop-color="#838383"/><stop offset=".818" stop-color="#808080"/><stop offset=".8293" stop-color="#7e7e7e"/><stop offset=".8543" stop-color="#808080"/><stop offset=".9999" stop-color="#808080"/></linearGradient><linearGradient id="a32" x2="0" y2="1"><stop offset="0" stop-color="#808080"/><stop offset=".4065" stop-color="#7f7f7f"/><stop offset=".4203" stop-color="#7d7d7d"/><stop offset=".4378" stop-color="#868686"/><stop offset=".4454" stop-color="#818181"/><stop offset=".4579" stop-color="#717171"/><stop offset=".4654" stop-color="#797979"/><stop offset=".4767" stop-color="#979797"/><stop offset=".483" stop-color="#969696"/><stop offset=".4905" stop-color="#787878"/><stop offset=".4981" stop-color="#5a5a5a"/><stop offset=".5031" stop-color="#5b5b5b"/><stop offset=".5093" stop-color="#797979"/><stop offset=".5181" stop-color="#b0b0b0"/><stop offset=".5231" stop-color="#b4b4b4"/><stop offset=".5294" stop-color="#919191"/><stop offset=".5382" stop-color="#484848"/><stop offset=".5432" stop-color="#3d3d3d"/><stop offset=".5482" stop-color="#565656"/><stop offset=".5595" stop-color="#c2c2c2"/><stop offset=".5645" stop-color="#cbcbcb"/><stop offset=".5696" stop-color="#aaaaaa"/><stop offset=".5796" stop-color="#3e3e3e"/><stop offset=".5846" stop-color="#2e2e2e"/><stop offset=".5896" stop-color="#4b4b4b"/><stop offset=".5997" stop-color="#bdbdbd"/><stop offset=".6047" stop-color="#d4d4d4"/><stop offset=".6097" stop-color="#bcbcbc"/><stop offset=".621" stop-color="#3d3d3d"/><stop offset=".626" stop-color="#2b2b2b"/><stop offset=".631" stop-color="#484848"/><stop offset=".6423" stop-color="#c6c6c6"/><stop offset=".6473" stop-color="#d2d2d2"/><stop offset=".6524" stop-color="#b1b1b1"/><stop offset=".6624" stop-color="#404040"/><stop offset=".6674" stop-color="#2f2f2f"/><stop offset=".6724" stop-color="#4b4b4b"/><stop offset=".6825" stop-color="#b5b5b5"/><stop offset=".6875" stop-color="#c8c8c8"/><stop offset=".6925" stop-color="#b3b3b3"/><stop offset=".7038" stop-color="#4f4f4f"/><stop offset=".7088" stop-color="#444444"/><stop offset=".7151" stop-color="#626262"/><stop offset=".7239" stop-color="#a1a1a1"/><stop offset=".7289" stop-color="#acacac"/><stop offset=".7352" stop-color="#989898"/><stop offset=".7439" stop-color="#6b6b6b"/><stop offset=".749" stop-color="#626262"/><stop offset=".7565" stop-color="#727272"/><stop offset=".7653" stop-color="#8d8d8d"/><stop offset=".7728" stop-color="#8e8e8e"/><stop offset=".7866" stop-color="#797979"/><stop offset=".7966" stop-color="#7b7b7b"/><stop offset=".8067" stop-color="#828282"/><stop offset=".8217" stop-color="#808080"/><stop offset=".9999" stop-color="#7f7f7f"/></linearGradient><linearGradient id="a33" x2="0" y2="1"><stop offset="0" stop-color="#808080"/><stop offset=".409" stop-color="#7f7f7f"/><stop offset=".419" stop-color="#7d7d7d"/><stop offset=".4403" stop-color="#848484"/><stop offset=".4504" stop-color="#7e7e7e"/><stop offset=".4617" stop-color="#757575"/><stop offset=".4692" stop-color="#7d7d7d"/><stop offset=".4805" stop-color="#929292"/><stop offset=".4868" stop-color="#8e8e8e"/><stop offset=".5018" stop-color="#636363"/><stop offset=".5081" stop-color="#686868"/><stop offset=".5219" stop-color="#a6a6a6"/><stop offset=".5269" stop-color="#a8a8a8"/><stop offset=".5332" stop-color="#8b8b8b"/><stop offset=".542" stop-color="#525252"/><stop offset=".547" stop-color="#4a4a4a"/><stop offset=".552" stop-color="#5f5f5f"/><stop offset=".5633" stop-color="#b6b6b6"/><stop offset=".5683" stop-color="#bdbdbd"/><stop offset=".5733" stop-color="#a2a2a2"/><stop offset=".5834" stop-color="#494949"/><stop offset=".5884" stop-color="#3b3b3b"/><stop offset=".5934" stop-color="#535353"/><stop offset=".6047" stop-color="#bcbcbc"/><stop offset=".6085" stop-color="#c7c7c7"/><stop offset=".6135" stop-color="#b3b3b3"/><stop offset=".6248" stop-color="#474747"/><stop offset=".6285" stop-color="#383838"/><stop offset=".6335" stop-color="#464646"/><stop offset=".6461" stop-color="#bcbcbc"/><stop offset=".6511" stop-color="#c6c6c6"/><stop offset=".6561" stop-color="#aaaaaa"/><stop offset=".6662" stop-color="#4a4a4a"/><stop offset=".6699" stop-color="#3b3b3b"/><stop offset=".6749" stop-color="#494949"/><stop offset=".6862" stop-color="#adadad"/><stop offset=".6913" stop-color="#bebebe"/><stop offset=".6963" stop-color="#acacac"/><stop offset=".7076" stop-color="#565656"/><stop offset=".7126" stop-color="#4c4c4c"/><stop offset=".7189" stop-color="#666666"/><stop offset=".7276" stop-color="#9d9d9d"/><stop offset=".7327" stop-color="#a7a7a7"/><stop offset=".7402" stop-color="#8f8f8f"/><stop offset=".749" stop-color="#6a6a6a"/><stop offset=".7552" stop-color="#686868"/><stop offset=".7703" stop-color="#8d8d8d"/><stop offset=".7778" stop-color="#8b8b8b"/><stop offset=".7904" stop-color="#797979"/><stop offset=".8004" stop-color="#7c7c7c"/><stop offset=".8129" stop-color="#828282"/><stop offset=".8355" stop-color="#7f7f7f"/><stop offset=".9999" stop-color="#7f7f7f"/></linearGradient><linearGradient id="a34" x2="0" y2="1"><stop offset="0" stop-color="#808080"/><stop offset=".4115" stop-color="#7f7f7f"/><stop offset=".4265" stop-color="#7f7f7f"/><stop offset=".4403" stop-color="#838383"/><stop offset=".4491" stop-color="#808080"/><stop offset=".4617" stop-color="#787878"/><stop offset=".4717" stop-color="#7f7f7f"/><stop offset=".483" stop-color="#8c8c8c"/><stop offset=".4905" stop-color="#888888"/><stop offset=".5056" stop-color="#6b6b6b"/><stop offset=".5119" stop-color="#707070"/><stop offset=".5257" stop-color="#9c9c9c"/><stop offset=".5307" stop-color="#9e9e9e"/><stop offset=".5382" stop-color="#838383"/><stop offset=".547" stop-color="#595959"/><stop offset=".552" stop-color="#575757"/><stop offset=".557" stop-color="#6b6b6b"/><stop offset=".5671" stop-color="#aaaaaa"/><stop offset=".5721" stop-color="#b3b3b3"/><stop offset=".5771" stop-color="#9f9f9f"/><stop offset=".5884" stop-color="#4d4d4d"/><stop offset=".5934" stop-color="#474747"/><stop offset=".5984" stop-color="#606060"/><stop offset=".6085" stop-color="#b1b1b1"/><stop offset=".6135" stop-color="#bcbcbc"/><stop offset=".6185" stop-color="#a6a6a6"/><stop offset=".6298" stop-color="#4a4a4a"/><stop offset=".6348" stop-color="#434343"/><stop offset=".6398" stop-color="#5d5d5d"/><stop offset=".6499" stop-color="#b1b1b1"/><stop offset=".6536" stop-color="#bebebe"/><stop offset=".6586" stop-color="#afafaf"/><stop offset=".6699" stop-color="#535353"/><stop offset=".6749" stop-color="#434343"/><stop offset=".68" stop-color="#555555"/><stop offset=".6913" stop-color="#acacac"/><stop offset=".6963" stop-color="#b6b6b6"/><stop offset=".7025" stop-color="#999999"/><stop offset=".7113" stop-color="#5c5c5c"/><stop offset=".7163" stop-color="#515151"/><stop offset=".7214" stop-color="#606060"/><stop offset=".7314" stop-color="#999999"/><stop offset=".7364" stop-color="#a3a3a3"/><stop offset=".7427" stop-color="#959595"/><stop offset=".7527" stop-color="#6c6c6c"/><stop offset=".7577" stop-color="#686868"/><stop offset=".7653" stop-color="#777777"/><stop offset=".7741" stop-color="#8c8c8c"/><stop offset=".7816" stop-color="#8b8b8b"/><stop offset=".7929" stop-color="#7b7b7b"/><stop offset=".8017" stop-color="#7a7a7a"/><stop offset=".8155" stop-color="#828282"/><stop offset=".8293" stop-color="#808080"/><stop offset=".9999" stop-color="#808080"/></linearGradient><linearGradient id="a35" x2="0" y2="1"><stop offset="0" stop-color="#808080"/><stop offset=".4127" stop-color="#7f7f7f"/><stop offset=".4278" stop-color="#7f7f7f"/><stop offset=".4403" stop-color="#838383"/><stop offset=".4491" stop-color="#808080"/><stop offset=".4617" stop-color="#7a7a7a"/><stop offset=".4705" stop-color="#7e7e7e"/><stop offset=".4817" stop-color="#878787"/><stop offset=".4905" stop-color="#858585"/><stop offset=".5081" stop-color="#747474"/><stop offset=".5169" stop-color="#797979"/><stop offset=".5319" stop-color="#949494"/><stop offset=".5382" stop-color="#8f8f8f"/><stop offset=".552" stop-color="#626262"/><stop offset=".557" stop-color="#616161"/><stop offset=".5633" stop-color="#787878"/><stop offset=".5721" stop-color="#a4a4a4"/><stop offset=".5771" stop-color="#a9a9a9"/><stop offset=".5821" stop-color="#979797"/><stop offset=".5934" stop-color="#535353"/><stop offset=".5984" stop-color="#505050"/><stop offset=".6047" stop-color="#717171"/><stop offset=".6135" stop-color="#adadad"/><stop offset=".6185" stop-color="#b4b4b4"/><stop offset=".6235" stop-color="#9e9e9e"/><stop offset=".6335" stop-color="#545454"/><stop offset=".6386" stop-color="#494949"/><stop offset=".6436" stop-color="#5c5c5c"/><stop offset=".6536" stop-color="#a8a8a8"/><stop offset=".6586" stop-color="#b6b6b6"/><stop offset=".6637" stop-color="#a7a7a7"/><stop offset=".6749" stop-color="#555555"/><stop offset=".68" stop-color="#4a4a4a"/><stop offset=".685" stop-color="#5d5d5d"/><stop offset=".695" stop-color="#a4a4a4"/><stop offset=".7" stop-color="#b1b1b1"/><stop offset=".7051" stop-color="#a2a2a2"/><stop offset=".7163" stop-color="#5d5d5d"/><stop offset=".7214" stop-color="#555555"/><stop offset=".7276" stop-color="#6b6b6b"/><stop offset=".7364" stop-color="#999999"/><stop offset=".7414" stop-color="#a1a1a1"/><stop offset=".7477" stop-color="#919191"/><stop offset=".7577" stop-color="#6c6c6c"/><stop offset=".764" stop-color="#6a6a6a"/><stop offset=".7778" stop-color="#8b8b8b"/><stop offset=".7853" stop-color="#8b8b8b"/><stop offset=".7991" stop-color="#797979"/><stop offset=".8067" stop-color="#7a7a7a"/><stop offset=".8192" stop-color="#828282"/><stop offset=".8343" stop-color="#808080"/><stop offset=".9999" stop-color="#808080"/></linearGradient><linearGradient id="a36" x2="0" y2="1"><stop offset="0" stop-color="#808080"/><stop offset=".414" stop-color="#7f7f7f"/><stop offset=".4228" stop-color="#7d7d7d"/><stop offset=".4416" stop-color="#838383"/><stop offset=".4504" stop-color="#808080"/><stop offset=".4604" stop-color="#7a7a7a"/><stop offset=".4679" stop-color="#7c7c7c"/><stop offset=".4805" stop-color="#868686"/><stop offset=".4893" stop-color="#848484"/><stop offset=".5006" stop-color="#7b7b7b"/><stop offset=".5194" stop-color="#7c7c7c"/><stop offset=".5319" stop-color="#878787"/><stop offset=".5407" stop-color="#8d8d8d"/><stop offset=".5482" stop-color="#818181"/><stop offset=".5583" stop-color="#666666"/><stop offset=".5645" stop-color="#6b6b6b"/><stop offset=".5783" stop-color="#a2a2a2"/><stop offset=".5834" stop-color="#a2a2a2"/><stop offset=".5909" stop-color="#7f7f7f"/><stop offset=".5984" stop-color="#575757"/><stop offset=".6034" stop-color="#555555"/><stop offset=".6085" stop-color="#6b6b6b"/><stop offset=".6185" stop-color="#aaaaaa"/><stop offset=".6235" stop-color="#afafaf"/><stop offset=".6298" stop-color="#919191"/><stop offset=".6386" stop-color="#565656"/><stop offset=".6436" stop-color="#4e4e4e"/><stop offset=".6486" stop-color="#616161"/><stop offset=".6586" stop-color="#a6a6a6"/><stop offset=".6637" stop-color="#b2b2b2"/><stop offset=".6687" stop-color="#a2a2a2"/><stop offset=".68" stop-color="#565656"/><stop offset=".685" stop-color="#4e4e4e"/><stop offset=".69" stop-color="#616161"/><stop offset=".7" stop-color="#a4a4a4"/><stop offset=".7051" stop-color="#aeaeae"/><stop offset=".7101" stop-color="#9f9f9f"/><stop offset=".7201" stop-color="#626262"/><stop offset=".7251" stop-color="#575757"/><stop offset=".7314" stop-color="#676767"/><stop offset=".7402" stop-color="#959595"/><stop offset=".7452" stop-color="#a0a0a0"/><stop offset=".7515" stop-color="#959595"/><stop offset=".7615" stop-color="#6e6e6e"/><stop offset=".7678" stop-color="#696969"/><stop offset=".7841" stop-color="#8d8d8d"/><stop offset=".7916" stop-color="#8a8a8a"/><stop offset=".8029" stop-color="#7a7a7a"/><stop offset=".8104" stop-color="#797979"/><stop offset=".8255" stop-color="#838383"/><stop offset=".8493" stop-color="#7e7e7e"/><stop offset=".8744" stop-color="#808080"/><stop offset=".9999" stop-color="#808080"/></linearGradient><linearGradient id="a37" x2="0" y2="1"><stop offset="0" stop-color="#808080"/><stop offset=".4027" stop-color="#808080"/><stop offset=".4127" stop-color="#808080"/><stop offset=".4265" stop-color="#7d7d7d"/><stop offset=".4454" stop-color="#848484"/><stop offset=".4541" stop-color="#7e7e7e"/><stop offset=".4642" stop-color="#787878"/><stop offset=".473" stop-color="#7f7f7f"/><stop offset=".4817" stop-color="#888888"/><stop offset=".488" stop-color="#868686"/><stop offset=".4993" stop-color="#797979"/><stop offset=".5043" stop-color="#797979"/><stop offset=".5169" stop-color="#828282"/><stop offset=".5332" stop-color="#7d7d7d"/><stop offset=".547" stop-color="#8b8b8b"/><stop offset=".5533" stop-color="#858585"/><stop offset=".5658" stop-color="#686868"/><stop offset=".5721" stop-color="#717171"/><stop offset=".5834" stop-color="#9e9e9e"/><stop offset=".5884" stop-color="#a0a0a0"/><stop offset=".5934" stop-color="#8f8f8f"/><stop offset=".6034" stop-color="#5a5a5a"/><stop offset=".6085" stop-color="#575757"/><stop offset=".6147" stop-color="#737373"/><stop offset=".6235" stop-color="#a7a7a7"/><stop offset=".6285" stop-color="#acacac"/><stop offset=".6348" stop-color="#919191"/><stop offset=".6423" stop-color="#5e5e5e"/><stop offset=".6473" stop-color="#505050"/><stop offset=".6524" stop-color="#5c5c5c"/><stop offset=".6637" stop-color="#a4a4a4"/><stop offset=".6687" stop-color="#afafaf"/><stop offset=".6737" stop-color="#a0a0a0"/><stop offset=".685" stop-color="#595959"/><stop offset=".6887" stop-color="#505050"/><stop offset=".6938" stop-color="#5c5c5c"/><stop offset=".7051" stop-color="#a2a2a2"/><stop offset=".7101" stop-color="#acacac"/><stop offset=".7151" stop-color="#9d9d9d"/><stop offset=".7264" stop-color="#5e5e5e"/><stop offset=".7314" stop-color="#595959"/><stop offset=".7377" stop-color="#6e6e6e"/><stop offset=".7465" stop-color="#999999"/><stop offset=".7527" stop-color="#9e9e9e"/><stop offset=".7628" stop-color="#7b7b7b"/><stop offset=".769" stop-color="#6a6a6a"/><stop offset=".7753" stop-color="#6d6d6d"/><stop offset=".7879" stop-color="#8b8b8b"/><stop offset=".7941" stop-color="#8d8d8d"/><stop offset=".8079" stop-color="#797979"/><stop offset=".8167" stop-color="#7a7a7a"/><stop offset=".8305" stop-color="#838383"/><stop offset=".8543" stop-color="#7e7e7e"/><stop offset=".8794" stop-color="#808080"/><stop offset=".9999" stop-color="#808080"/></linearGradient><linearGradient id="a38" x2="0" y2="1"><stop offset="0" stop-color="#808080"/><stop offset=".404" stop-color="#808080"/><stop offset=".4153" stop-color="#808080"/><stop offset=".4278" stop-color="#7d7d7d"/><stop offset=".4416" stop-color="#838383"/><stop offset=".4491" stop-color="#848484"/><stop offset=".4579" stop-color="#7d7d7d"/><stop offset=".4667" stop-color="#777777"/><stop offset=".473" stop-color="#7c7c7c"/><stop offset=".483" stop-color="#8a8a8a"/><stop offset=".4905" stop-color="#878787"/><stop offset=".5018" stop-color="#757575"/><stop offset=".5068" stop-color="#757575"/><stop offset=".5194" stop-color="#888888"/><stop offset=".5244" stop-color="#888888"/><stop offset=".5369" stop-color="#767676"/><stop offset=".5432" stop-color="#7c7c7c"/><stop offset=".5533" stop-color="#8e8e8e"/><stop offset=".5583" stop-color="#8b8b8b"/><stop offset=".5708" stop-color="#686868"/><stop offset=".5771" stop-color="#6d6d6d"/><stop offset=".5896" stop-color="#a0a0a0"/><stop offset=".5947" stop-color="#9f9f9f"/><stop offset=".6009" stop-color="#848484"/><stop offset=".6085" stop-color="#5c5c5c"/><stop offset=".6135" stop-color="#575757"/><stop offset=".6185" stop-color="#696969"/><stop offset=".6285" stop-color="#a5a5a5"/><stop offset=".6335" stop-color="#acacac"/><stop offset=".6386" stop-color="#9a9a9a"/><stop offset=".6486" stop-color="#5a5a5a"/><stop offset=".6536" stop-color="#515151"/><stop offset=".6586" stop-color="#626262"/><stop offset=".6699" stop-color="#a8a8a8"/><stop offset=".6749" stop-color="#adadad"/><stop offset=".68" stop-color="#9a9a9a"/><stop offset=".69" stop-color="#5a5a5a"/><stop offset=".695" stop-color="#515151"/><stop offset=".7013" stop-color="#696969"/><stop offset=".7101" stop-color="#a1a1a1"/><stop offset=".7151" stop-color="#acacac"/><stop offset=".7201" stop-color="#9e9e9e"/><stop offset=".7314" stop-color="#5f5f5f"/><stop offset=".7364" stop-color="#585858"/><stop offset=".7427" stop-color="#6d6d6d"/><stop offset=".7515" stop-color="#989898"/><stop offset=".7565" stop-color="#a0a0a0"/><stop offset=".764" stop-color="#8c8c8c"/><stop offset=".7715" stop-color="#6f6f6f"/><stop offset=".7766" stop-color="#686868"/><stop offset=".7841" stop-color="#757575"/><stop offset=".7929" stop-color="#8c8c8c"/><stop offset=".7991" stop-color="#8e8e8e"/><stop offset=".8142" stop-color="#787878"/><stop offset=".823" stop-color="#7a7a7a"/><stop offset=".8343" stop-color="#838383"/><stop offset=".8468" stop-color="#818181"/><stop offset=".8594" stop-color="#7e7e7e"/><stop offset=".8845" stop-color="#808080"/><stop offset=".9999" stop-color="#808080"/></linearGradient><linearGradient id="a39" x2="0" y2="1"><stop offset="0" stop-color="#808080"/><stop offset=".4052" stop-color="#808080"/><stop offset=".4178" stop-color="#808080"/><stop offset=".4303" stop-color="#7d7d7d"/><stop offset=".4391" stop-color="#808080"/><stop offset=".4491" stop-color="#858585"/><stop offset=".4554" stop-color="#838383"/><stop offset=".4667" stop-color="#767676"/><stop offset=".4742" stop-color="#797979"/><stop offset=".4855" stop-color="#8c8c8c"/><stop offset=".4918" stop-color="#8b8b8b"/><stop offset=".5043" stop-color="#717171"/><stop offset=".5093" stop-color="#717171"/><stop offset=".5219" stop-color="#8d8d8d"/><stop offset=".5282" stop-color="#8d8d8d"/><stop offset=".5407" stop-color="#707070"/><stop offset=".5457" stop-color="#717171"/><stop offset=".557" stop-color="#919191"/><stop offset=".562" stop-color="#949494"/><stop offset=".5683" stop-color="#818181"/><stop offset=".5771" stop-color="#636363"/><stop offset=".5821" stop-color="#686868"/><stop offset=".5896" stop-color="#8a8a8a"/><stop offset=".5959" stop-color="#a3a3a3"/><stop offset=".6009" stop-color="#a0a0a0"/><stop offset=".6072" stop-color="#808080"/><stop offset=".6147" stop-color="#595959"/><stop offset=".6185" stop-color="#555555"/><stop offset=".6235" stop-color="#656565"/><stop offset=".6335" stop-color="#a4a4a4"/><stop offset=".6386" stop-color="#aeaeae"/><stop offset=".6448" stop-color="#969696"/><stop offset=".6536" stop-color="#5c5c5c"/><stop offset=".6586" stop-color="#505050"/><stop offset=".6637" stop-color="#5f5f5f"/><stop offset=".6749" stop-color="#a6a6a6"/><stop offset=".6787" stop-color="#afafaf"/><stop offset=".6837" stop-color="#a3a3a3"/><stop offset=".695" stop-color="#5c5c5c"/><stop offset=".7" stop-color="#515151"/><stop offset=".7051" stop-color="#5f5f5f"/><stop offset=".7163" stop-color="#a4a4a4"/><stop offset=".7214" stop-color="#acacac"/><stop offset=".7276" stop-color="#949494"/><stop offset=".7364" stop-color="#606060"/><stop offset=".7414" stop-color="#575757"/><stop offset=".7477" stop-color="#6a6a6a"/><stop offset=".7565" stop-color="#979797"/><stop offset=".7615" stop-color="#a1a1a1"/><stop offset=".7678" stop-color="#939393"/><stop offset=".7778" stop-color="#6c6c6c"/><stop offset=".7841" stop-color="#686868"/><stop offset=".7991" stop-color="#8d8d8d"/><stop offset=".8054" stop-color="#8e8e8e"/><stop offset=".8205" stop-color="#777777"/><stop offset=".8293" stop-color="#7a7a7a"/><stop offset=".8405" stop-color="#838383"/><stop offset=".8518" stop-color="#818181"/><stop offset=".8644" stop-color="#7e7e7e"/><stop offset=".892" stop-color="#808080"/><stop offset=".9999" stop-color="#7f7f7f"/></linearGradient><linearGradient id="a40" x2="0" y2="1"><stop offset="0" stop-color="#808080"/><stop offset=".4077" stop-color="#808080"/><stop offset=".4203" stop-color="#808080"/><stop offset=".4341" stop-color="#7c7c7c"/><stop offset=".4529" stop-color="#868686"/><stop offset=".4617" stop-color="#7f7f7f"/><stop offset=".4705" stop-color="#757575"/><stop offset=".4767" stop-color="#787878"/><stop offset=".4893" stop-color="#8e8e8e"/><stop offset=".4943" stop-color="#8d8d8d"/><stop offset=".5081" stop-color="#6d6d6d"/><stop offset=".5144" stop-color="#707070"/><stop offset=".5257" stop-color="#929292"/><stop offset=".5307" stop-color="#949494"/><stop offset=".5357" stop-color="#888888"/><stop offset=".5445" stop-color="#6b6b6b"/><stop offset=".5495" stop-color="#6a6a6a"/><stop offset=".5558" stop-color="#7f7f7f"/><stop offset=".5633" stop-color="#999999"/><stop offset=".5683" stop-color="#979797"/><stop offset=".5746" stop-color="#7e7e7e"/><stop offset=".5821" stop-color="#606060"/><stop offset=".5871" stop-color="#626262"/><stop offset=".5959" stop-color="#8f8f8f"/><stop offset=".6022" stop-color="#a7a7a7"/><stop offset=".6072" stop-color="#a0a0a0"/><stop offset=".6147" stop-color="#747474"/><stop offset=".621" stop-color="#555555"/><stop offset=".626" stop-color="#565656"/><stop offset=".6323" stop-color="#797979"/><stop offset=".6398" stop-color="#a8a8a8"/><stop offset=".6448" stop-color="#aeaeae"/><stop offset=".6499" stop-color="#9a9a9a"/><stop offset=".6599" stop-color="#595959"/><stop offset=".6649" stop-color="#505050"/><stop offset=".6699" stop-color="#616161"/><stop offset=".68" stop-color="#a4a4a4"/><stop offset=".685" stop-color="#b0b0b0"/><stop offset=".69" stop-color="#a1a1a1"/><stop offset=".7013" stop-color="#595959"/><stop offset=".7063" stop-color="#505050"/><stop offset=".7113" stop-color="#626262"/><stop offset=".7214" stop-color="#a2a2a2"/><stop offset=".7264" stop-color="#adadad"/><stop offset=".7314" stop-color="#9f9f9f"/><stop offset=".7427" stop-color="#5e5e5e"/><stop offset=".7477" stop-color="#575757"/><stop offset=".7527" stop-color="#666666"/><stop offset=".7628" stop-color="#9a9a9a"/><stop offset=".7678" stop-color="#a2a2a2"/><stop offset=".7741" stop-color="#919191"/><stop offset=".7841" stop-color="#6a6a6a"/><stop offset=".7891" stop-color="#676767"/><stop offset=".7966" stop-color="#797979"/><stop offset=".8042" stop-color="#8d8d8d"/><stop offset=".8104" stop-color="#8f8f8f"/><stop offset=".8255" stop-color="#787878"/><stop offset=".833" stop-color="#787878"/><stop offset=".8456" stop-color="#838383"/><stop offset=".8556" stop-color="#828282"/><stop offset=".8681" stop-color="#7e7e7e"/><stop offset=".8983" stop-color="#808080"/><stop offset=".9999" stop-color="#7f7f7f"/></linearGradient><linearGradient id="a41" x2="0" y2="1"><stop offset="0" stop-color="#808080"/><stop offset=".4102" stop-color="#808080"/><stop offset=".424" stop-color="#808080"/><stop offset=".4378" stop-color="#7c7c7c"/><stop offset=".4554" stop-color="#868686"/><stop offset=".4629" stop-color="#818181"/><stop offset=".4742" stop-color="#747474"/><stop offset=".4817" stop-color="#7a7a7a"/><stop offset=".4918" stop-color="#8f8f8f"/><stop offset=".4968" stop-color="#909090"/><stop offset=".5043" stop-color="#7e7e7e"/><stop offset=".5119" stop-color="#6a6a6a"/><stop offset=".5169" stop-color="#6c6c6c"/><stop offset=".5244" stop-color="#858585"/><stop offset=".5307" stop-color="#989898"/><stop offset=".5357" stop-color="#969696"/><stop offset=".5445" stop-color="#747474"/><stop offset=".5495" stop-color="#646464"/><stop offset=".5545" stop-color="#666666"/><stop offset=".5671" stop-color="#9c9c9c"/><stop offset=".5721" stop-color="#9f9f9f"/><stop offset=".5783" stop-color="#868686"/><stop offset=".5859" stop-color="#5f5f5f"/><stop offset=".5909" stop-color="#5b5b5b"/><stop offset=".5972" stop-color="#757575"/><stop offset=".6059" stop-color="#a7a7a7"/><stop offset=".611" stop-color="#a9a9a9"/><stop offset=".6172" stop-color="#8a8a8a"/><stop offset=".6248" stop-color="#595959"/><stop offset=".6298" stop-color="#505050"/><stop offset=".6348" stop-color="#626262"/><stop offset=".6448" stop-color="#a6a6a6"/><stop offset=".6499" stop-color="#b1b1b1"/><stop offset=".6549" stop-color="#a0a0a0"/><stop offset=".6662" stop-color="#555555"/><stop offset=".6712" stop-color="#4e4e4e"/><stop offset=".6775" stop-color="#6b6b6b"/><stop offset=".6862" stop-color="#a7a7a7"/><stop offset=".6913" stop-color="#b1b1b1"/><stop offset=".6963" stop-color="#a0a0a0"/><stop offset=".7063" stop-color="#5b5b5b"/><stop offset=".7113" stop-color="#4e4e4e"/><stop offset=".7163" stop-color="#5c5c5c"/><stop offset=".7276" stop-color="#a5a5a5"/><stop offset=".7327" stop-color="#afafaf"/><stop offset=".7389" stop-color="#979797"/><stop offset=".7477" stop-color="#606060"/><stop offset=".7527" stop-color="#555555"/><stop offset=".7577" stop-color="#616161"/><stop offset=".769" stop-color="#9d9d9d"/><stop offset=".7741" stop-color="#a3a3a3"/><stop offset=".7816" stop-color="#8b8b8b"/><stop offset=".7904" stop-color="#686868"/><stop offset=".7966" stop-color="#686868"/><stop offset=".8104" stop-color="#8e8e8e"/><stop offset=".8167" stop-color="#8f8f8f"/><stop offset=".8318" stop-color="#777777"/><stop offset=".8393" stop-color="#797979"/><stop offset=".8531" stop-color="#848484"/><stop offset=".8744" stop-color="#7e7e7e"/><stop offset=".9045" stop-color="#808080"/><stop offset=".9999" stop-color="#7f7f7f"/></linearGradient><linearGradient id="a42" x2="0" y2="1"><stop offset="0" stop-color="#808080"/><stop offset=".4127" stop-color="#808080"/><stop offset=".4265" stop-color="#808080"/><stop offset=".4416" stop-color="#7c7c7c"/><stop offset=".4592" stop-color="#878787"/><stop offset=".4679" stop-color="#7f7f7f"/><stop offset=".478" stop-color="#737373"/><stop offset=".4855" stop-color="#7b7b7b"/><stop offset=".4955" stop-color="#919191"/><stop offset=".5006" stop-color="#909090"/><stop offset=".5068" stop-color="#808080"/><stop offset=".5144" stop-color="#6a6a6a"/><stop offset=".5194" stop-color="#696969"/><stop offset=".5257" stop-color="#7c7c7c"/><stop offset=".5332" stop-color="#999999"/><stop offset=".5382" stop-color="#9c9c9c"/><stop offset=".5445" stop-color="#868686"/><stop offset=".552" stop-color="#646464"/><stop offset=".557" stop-color="#5f5f5f"/><stop offset=".5633" stop-color="#767676"/><stop offset=".5721" stop-color="#a2a2a2"/><stop offset=".5771" stop-color="#a3a3a3"/><stop offset=".5834" stop-color="#868686"/><stop offset=".5909" stop-color="#5b5b5b"/><stop offset=".5959" stop-color="#565656"/><stop offset=".6009" stop-color="#6a6a6a"/><stop offset=".611" stop-color="#a9a9a9"/><stop offset=".616" stop-color="#aeaeae"/><stop offset=".621" stop-color="#989898"/><stop offset=".631" stop-color="#535353"/><stop offset=".6361" stop-color="#4d4d4d"/><stop offset=".6411" stop-color="#636363"/><stop offset=".6511" stop-color="#ababab"/><stop offset=".6561" stop-color="#b5b5b5"/><stop offset=".6611" stop-color="#a1a1a1"/><stop offset=".6712" stop-color="#565656"/><stop offset=".6762" stop-color="#494949"/><stop offset=".6812" stop-color="#5a5a5a"/><stop offset=".6925" stop-color="#acacac"/><stop offset=".6975" stop-color="#b5b5b5"/><stop offset=".7025" stop-color="#a1a1a1"/><stop offset=".7126" stop-color="#575757"/><stop offset=".7176" stop-color="#4a4a4a"/><stop offset=".7226" stop-color="#5a5a5a"/><stop offset=".7339" stop-color="#aaaaaa"/><stop offset=".7389" stop-color="#b3b3b3"/><stop offset=".7452" stop-color="#979797"/><stop offset=".754" stop-color="#5c5c5c"/><stop offset=".759" stop-color="#515151"/><stop offset=".764" stop-color="#606060"/><stop offset=".7753" stop-color="#a0a0a0"/><stop offset=".7803" stop-color="#a6a6a6"/><stop offset=".7866" stop-color="#919191"/><stop offset=".7941" stop-color="#6d6d6d"/><stop offset=".8004" stop-color="#636363"/><stop offset=".8067" stop-color="#717171"/><stop offset=".8167" stop-color="#909090"/><stop offset=".823" stop-color="#909090"/><stop offset=".8368" stop-color="#777777"/><stop offset=".8443" stop-color="#777777"/><stop offset=".8594" stop-color="#848484"/><stop offset=".8807" stop-color="#7e7e7e"/><stop offset=".9108" stop-color="#808080"/><stop offset=".9999" stop-color="#7f7f7f"/></linearGradient><linearGradient id="a43" x2="0" y2="1"><stop offset="0" stop-color="#808080"/><stop offset=".4165" stop-color="#808080"/><stop offset=".4303" stop-color="#808080"/><stop offset=".4441" stop-color="#7c7c7c"/><stop offset=".4541" stop-color="#828282"/><stop offset=".4629" stop-color="#878787"/><stop offset=".4717" stop-color="#7e7e7e"/><stop offset=".4805" stop-color="#737373"/><stop offset=".4868" stop-color="#777777"/><stop offset=".4993" stop-color="#929292"/><stop offset=".5043" stop-color="#909090"/><stop offset=".5144" stop-color="#727272"/><stop offset=".5206" stop-color="#666666"/><stop offset=".5257" stop-color="#6e6e6e"/><stop offset=".5369" stop-color="#9a9a9a"/><stop offset=".542" stop-color="#9d9d9d"/><stop offset=".547" stop-color="#8e8e8e"/><stop offset=".5558" stop-color="#636363"/><stop offset=".5608" stop-color="#5c5c5c"/><stop offset=".5658" stop-color="#6b6b6b"/><stop offset=".5758" stop-color="#a1a1a1"/><stop offset=".5809" stop-color="#a8a8a8"/><stop offset=".5859" stop-color="#969696"/><stop offset=".5959" stop-color="#595959"/><stop offset=".6009" stop-color="#525252"/><stop offset=".6059" stop-color="#656565"/><stop offset=".616" stop-color="#aaaaaa"/><stop offset=".621" stop-color="#b3b3b3"/><stop offset=".626" stop-color="#9f9f9f"/><stop offset=".6361" stop-color="#545454"/><stop offset=".6411" stop-color="#474747"/><stop offset=".6461" stop-color="#595959"/><stop offset=".6574" stop-color="#b1b1b1"/><stop offset=".6624" stop-color="#bababa"/><stop offset=".6674" stop-color="#a3a3a3"/><stop offset=".6775" stop-color="#515151"/><stop offset=".6825" stop-color="#444444"/><stop offset=".6875" stop-color="#575757"/><stop offset=".6988" stop-color="#b1b1b1"/><stop offset=".7038" stop-color="#bababa"/><stop offset=".7088" stop-color="#a4a4a4"/><stop offset=".7189" stop-color="#525252"/><stop offset=".7239" stop-color="#444444"/><stop offset=".7289" stop-color="#575757"/><stop offset=".7402" stop-color="#afafaf"/><stop offset=".7452" stop-color="#b8b8b8"/><stop offset=".7502" stop-color="#a2a2a2"/><stop offset=".7603" stop-color="#575757"/><stop offset=".7653" stop-color="#4c4c4c"/><stop offset=".7715" stop-color="#656565"/><stop offset=".7816" stop-color="#a4a4a4"/><stop offset=".7866" stop-color="#a9a9a9"/><stop offset=".7941" stop-color="#8b8b8b"/><stop offset=".8017" stop-color="#666666"/><stop offset=".8067" stop-color="#616161"/><stop offset=".8129" stop-color="#707070"/><stop offset=".8217" stop-color="#8f8f8f"/><stop offset=".828" stop-color="#939393"/><stop offset=".8431" stop-color="#767676"/><stop offset=".8518" stop-color="#787878"/><stop offset=".8619" stop-color="#838383"/><stop offset=".8719" stop-color="#838383"/><stop offset=".8857" stop-color="#7e7e7e"/><stop offset=".9183" stop-color="#808080"/><stop offset=".9999" stop-color="#808080"/></linearGradient><linearGradient id="a44" x2="0" y2="1"><stop offset="0" stop-color="#808080"/><stop offset=".419" stop-color="#808080"/><stop offset=".4328" stop-color="#808080"/><stop offset=".4479" stop-color="#7c7c7c"/><stop offset=".4654" stop-color="#878787"/><stop offset=".4742" stop-color="#7f7f7f"/><stop offset=".4843" stop-color="#737373"/><stop offset=".4905" stop-color="#787878"/><stop offset=".5018" stop-color="#919191"/><stop offset=".5081" stop-color="#909090"/><stop offset=".5219" stop-color="#686868"/><stop offset=".5269" stop-color="#686868"/><stop offset=".5332" stop-color="#7d7d7d"/><stop offset=".5407" stop-color="#9b9b9b"/><stop offset=".5457" stop-color="#9e9e9e"/><stop offset=".552" stop-color="#898989"/><stop offset=".5608" stop-color="#606060"/><stop offset=".5658" stop-color="#5c5c5c"/><stop offset=".5708" stop-color="#6d6d6d"/><stop offset=".5809" stop-color="#a3a3a3"/><stop offset=".5859" stop-color="#a9a9a9"/><stop offset=".5909" stop-color="#979797"/><stop offset=".6022" stop-color="#535353"/><stop offset=".6072" stop-color="#505050"/><stop offset=".6135" stop-color="#717171"/><stop offset=".6223" stop-color="#afafaf"/><stop offset=".6273" stop-color="#b7b7b7"/><stop offset=".6323" stop-color="#a1a1a1"/><stop offset=".6423" stop-color="#4f4f4f"/><stop offset=".6473" stop-color="#414141"/><stop offset=".6524" stop-color="#565656"/><stop offset=".6637" stop-color="#b6b6b6"/><stop offset=".6687" stop-color="#c1c1c1"/><stop offset=".6737" stop-color="#a7a7a7"/><stop offset=".6837" stop-color="#4c4c4c"/><stop offset=".6887" stop-color="#3c3c3c"/><stop offset=".6938" stop-color="#525252"/><stop offset=".7051" stop-color="#b7b7b7"/><stop offset=".7101" stop-color="#c2c2c2"/><stop offset=".7151" stop-color="#a9a9a9"/><stop offset=".7251" stop-color="#4d4d4d"/><stop offset=".7301" stop-color="#3d3d3d"/><stop offset=".7352" stop-color="#525252"/><stop offset=".7465" stop-color="#b4b4b4"/><stop offset=".7515" stop-color="#bfbfbf"/><stop offset=".7565" stop-color="#a7a7a7"/><stop offset=".7665" stop-color="#535353"/><stop offset=".7715" stop-color="#464646"/><stop offset=".7766" stop-color="#595959"/><stop offset=".7866" stop-color="#a2a2a2"/><stop offset=".7916" stop-color="#afafaf"/><stop offset=".7979" stop-color="#9b9b9b"/><stop offset=".8079" stop-color="#646464"/><stop offset=".8129" stop-color="#5e5e5e"/><stop offset=".8192" stop-color="#6f6f6f"/><stop offset=".828" stop-color="#909090"/><stop offset=".8343" stop-color="#949494"/><stop offset=".8493" stop-color="#767676"/><stop offset=".8569" stop-color="#767676"/><stop offset=".8681" stop-color="#838383"/><stop offset=".8807" stop-color="#828282"/><stop offset=".892" stop-color="#7e7e7e"/><stop offset=".9246" stop-color="#808080"/><stop offset=".9999" stop-color="#808080"/></linearGradient><linearGradient id="a45" x2="0" y2="1"><stop offset="0" stop-color="#808080"/><stop offset=".4228" stop-color="#808080"/><stop offset=".4366" stop-color="#808080"/><stop offset=".4504" stop-color="#7c7c7c"/><stop offset=".4642" stop-color="#858585"/><stop offset=".4717" stop-color="#868686"/><stop offset=".4868" stop-color="#737373"/><stop offset=".4943" stop-color="#797979"/><stop offset=".5056" stop-color="#919191"/><stop offset=".5119" stop-color="#8f8f8f"/><stop offset=".5257" stop-color="#686868"/><stop offset=".5307" stop-color="#696969"/><stop offset=".5369" stop-color="#7d7d7d"/><stop offset=".5445" stop-color="#9a9a9a"/><stop offset=".5495" stop-color="#9d9d9d"/><stop offset=".5558" stop-color="#8a8a8a"/><stop offset=".5645" stop-color="#626262"/><stop offset=".5696" stop-color="#5c5c5c"/><stop offset=".5758" stop-color="#6f6f6f"/><stop offset=".5859" stop-color="#a2a2a2"/><stop offset=".5921" stop-color="#a7a7a7"/><stop offset=".5997" stop-color="#838383"/><stop offset=".6072" stop-color="#565656"/><stop offset=".6122" stop-color="#4d4d4d"/><stop offset=".6172" stop-color="#606060"/><stop offset=".6285" stop-color="#b2b2b2"/><stop offset=".6335" stop-color="#bcbcbc"/><stop offset=".6386" stop-color="#a4a4a4"/><stop offset=".6499" stop-color="#434343"/><stop offset=".6549" stop-color="#3c3c3c"/><stop offset=".6599" stop-color="#5a5a5a"/><stop offset=".6699" stop-color="#bcbcbc"/><stop offset=".6749" stop-color="#c9c9c9"/><stop offset=".68" stop-color="#aeaeae"/><stop offset=".69" stop-color="#474747"/><stop offset=".695" stop-color="#333333"/><stop offset=".7" stop-color="#4a4a4a"/><stop offset=".7113" stop-color="#bdbdbd"/><stop offset=".7163" stop-color="#cbcbcb"/><stop offset=".7214" stop-color="#b0b0b0"/><stop offset=".7314" stop-color="#474747"/><stop offset=".7364" stop-color="#343434"/><stop offset=".7414" stop-color="#4a4a4a"/><stop offset=".7527" stop-color="#bababa"/><stop offset=".7577" stop-color="#c7c7c7"/><stop offset=".7628" stop-color="#adadad"/><stop offset=".7728" stop-color="#4f4f4f"/><stop offset=".7778" stop-color="#3f3f3f"/><stop offset=".7828" stop-color="#535353"/><stop offset=".7941" stop-color="#ababab"/><stop offset=".7991" stop-color="#b3b3b3"/><stop offset=".8054" stop-color="#989898"/><stop offset=".8142" stop-color="#626262"/><stop offset=".8192" stop-color="#5a5a5a"/><stop offset=".8267" stop-color="#727272"/><stop offset=".8343" stop-color="#919191"/><stop offset=".8405" stop-color="#969696"/><stop offset=".8556" stop-color="#767676"/><stop offset=".8631" stop-color="#767676"/><stop offset=".8757" stop-color="#838383"/><stop offset=".8845" stop-color="#838383"/><stop offset=".8983" stop-color="#7e7e7e"/><stop offset=".9309" stop-color="#808080"/><stop offset=".9999" stop-color="#808080"/></linearGradient><linearGradient id="a46" x2="0" y2="1"><stop offset="0" stop-color="#808080"/><stop offset=".4265" stop-color="#808080"/><stop offset=".4403" stop-color="#808080"/><stop offset=".4529" stop-color="#7c7c7c"/><stop offset=".4667" stop-color="#848484"/><stop offset=".4755" stop-color="#858585"/><stop offset=".4905" stop-color="#747474"/><stop offset=".4981" stop-color="#7a7a7a"/><stop offset=".5093" stop-color="#919191"/><stop offset=".5144" stop-color="#909090"/><stop offset=".5231" stop-color="#777777"/><stop offset=".5294" stop-color="#696969"/><stop offset=".5357" stop-color="#6d6d6d"/><stop offset=".5482" stop-color="#989898"/><stop offset=".5533" stop-color="#9b9b9b"/><stop offset=".5595" stop-color="#8a8a8a"/><stop offset=".5696" stop-color="#646464"/><stop offset=".5758" stop-color="#626262"/><stop offset=".5821" stop-color="#777777"/><stop offset=".5921" stop-color="#a1a1a1"/><stop offset=".5984" stop-color="#a3a3a3"/><stop offset=".6047" stop-color="#898989"/><stop offset=".6147" stop-color="#525252"/><stop offset=".621" stop-color="#535353"/><stop offset=".6285" stop-color="#848484"/><stop offset=".6361" stop-color="#b9b9b9"/><stop offset=".6411" stop-color="#bdbdbd"/><stop offset=".6473" stop-color="#939393"/><stop offset=".6561" stop-color="#414141"/><stop offset=".6611" stop-color="#363636"/><stop offset=".6662" stop-color="#535353"/><stop offset=".6762" stop-color="#bfbfbf"/><stop offset=".6812" stop-color="#d1d1d1"/><stop offset=".6862" stop-color="#b6b6b6"/><stop offset=".6975" stop-color="#3a3a3a"/><stop offset=".7013" stop-color="#2c2c2c"/><stop offset=".7063" stop-color="#414141"/><stop offset=".7176" stop-color="#c0c0c0"/><stop offset=".7226" stop-color="#d4d4d4"/><stop offset=".7276" stop-color="#b8b8b8"/><stop offset=".7389" stop-color="#3a3a3a"/><stop offset=".7439" stop-color="#2d2d2d"/><stop offset=".749" stop-color="#4d4d4d"/><stop offset=".759" stop-color="#bdbdbd"/><stop offset=".764" stop-color="#cfcfcf"/><stop offset=".769" stop-color="#b5b5b5"/><stop offset=".7791" stop-color="#4c4c4c"/><stop offset=".7841" stop-color="#383838"/><stop offset=".7891" stop-color="#4b4b4b"/><stop offset=".8004" stop-color="#aeaeae"/><stop offset=".8054" stop-color="#b9b9b9"/><stop offset=".8117" stop-color="#9c9c9c"/><stop offset=".8205" stop-color="#606060"/><stop offset=".8255" stop-color="#565656"/><stop offset=".8318" stop-color="#696969"/><stop offset=".8418" stop-color="#959595"/><stop offset=".8481" stop-color="#979797"/><stop offset=".8619" stop-color="#757575"/><stop offset=".8694" stop-color="#757575"/><stop offset=".8832" stop-color="#848484"/><stop offset=".8945" stop-color="#828282"/><stop offset=".9058" stop-color="#7e7e7e"/><stop offset=".9384" stop-color="#808080"/><stop offset=".9999" stop-color="#7f7f7f"/></linearGradient><linearGradient id="a47" x2="0" y2="1"><stop offset="0" stop-color="#808080"/><stop offset=".4303" stop-color="#808080"/><stop offset=".4429" stop-color="#808080"/><stop offset=".4579" stop-color="#7c7c7c"/><stop offset=".4755" stop-color="#868686"/><stop offset=".483" stop-color="#818181"/><stop offset=".493" stop-color="#747474"/><stop offset=".4993" stop-color="#777777"/><stop offset=".5131" stop-color="#909090"/><stop offset=".5181" stop-color="#8e8e8e"/><stop offset=".5269" stop-color="#777777"/><stop offset=".5332" stop-color="#6a6a6a"/><stop offset=".5382" stop-color="#6c6c6c"/><stop offset=".552" stop-color="#969696"/><stop offset=".5583" stop-color="#969696"/><stop offset=".5683" stop-color="#787878"/><stop offset=".5758" stop-color="#666666"/><stop offset=".5834" stop-color="#6d6d6d"/><stop offset=".5997" stop-color="#9e9e9e"/><stop offset=".6059" stop-color="#9c9c9c"/><stop offset=".6147" stop-color="#757575"/><stop offset=".6223" stop-color="#525252"/><stop offset=".6273" stop-color="#525252"/><stop offset=".6335" stop-color="#757575"/><stop offset=".6423" stop-color="#b9b9b9"/><stop offset=".6473" stop-color="#c1c1c1"/><stop offset=".6524" stop-color="#a5a5a5"/><stop offset=".6624" stop-color="#404040"/><stop offset=".6674" stop-color="#2f2f2f"/><stop offset=".6724" stop-color="#4b4b4b"/><stop offset=".6837" stop-color="#cacaca"/><stop offset=".6887" stop-color="#d6d6d6"/><stop offset=".6938" stop-color="#b2b2b2"/><stop offset=".7038" stop-color="#373737"/><stop offset=".7088" stop-color="#252525"/><stop offset=".7138" stop-color="#444444"/><stop offset=".7239" stop-color="#c2c2c2"/><stop offset=".7289" stop-color="#dbdbdb"/><stop offset=".7339" stop-color="#c2c2c2"/><stop offset=".7452" stop-color="#383838"/><stop offset=".7502" stop-color="#252525"/><stop offset=".7552" stop-color="#444444"/><stop offset=".7653" stop-color="#bfbfbf"/><stop offset=".7703" stop-color="#d7d7d7"/><stop offset=".7753" stop-color="#bebebe"/><stop offset=".7866" stop-color="#414141"/><stop offset=".7916" stop-color="#323232"/><stop offset=".7966" stop-color="#4d4d4d"/><stop offset=".8067" stop-color="#afafaf"/><stop offset=".8117" stop-color="#bfbfbf"/><stop offset=".818" stop-color="#a3a3a3"/><stop offset=".8267" stop-color="#606060"/><stop offset=".8318" stop-color="#525252"/><stop offset=".838" stop-color="#646464"/><stop offset=".8481" stop-color="#959595"/><stop offset=".8543" stop-color="#9a9a9a"/><stop offset=".8681" stop-color="#757575"/><stop offset=".8744" stop-color="#727272"/><stop offset=".8895" stop-color="#848484"/><stop offset=".8995" stop-color="#838383"/><stop offset=".9108" stop-color="#7e7e7e"/><stop offset=".9459" stop-color="#808080"/><stop offset=".9999" stop-color="#7f7f7f"/></linearGradient><linearGradient id="a48" x2="0" y2="1"><stop offset="0" stop-color="#808080"/><stop offset=".4341" stop-color="#808080"/><stop offset=".4466" stop-color="#808080"/><stop offset=".4604" stop-color="#7c7c7c"/><stop offset=".4792" stop-color="#868686"/><stop offset=".4893" stop-color="#7d7d7d"/><stop offset=".4993" stop-color="#757575"/><stop offset=".5068" stop-color="#7e7e7e"/><stop offset=".5156" stop-color="#8f8f8f"/><stop offset=".5219" stop-color="#8d8d8d"/><stop offset=".5357" stop-color="#6c6c6c"/><stop offset=".542" stop-color="#6f6f6f"/><stop offset=".5545" stop-color="#919191"/><stop offset=".5608" stop-color="#949494"/><stop offset=".5771" stop-color="#707070"/><stop offset=".5834" stop-color="#6d6d6d"/><stop offset=".5947" stop-color="#7e7e7e"/><stop offset=".6085" stop-color="#9a9a9a"/><stop offset=".6147" stop-color="#959595"/><stop offset=".6223" stop-color="#747474"/><stop offset=".631" stop-color="#4f4f4f"/><stop offset=".6361" stop-color="#575757"/><stop offset=".6436" stop-color="#8e8e8e"/><stop offset=".6499" stop-color="#bdbdbd"/><stop offset=".6549" stop-color="#c3c3c3"/><stop offset=".6599" stop-color="#a1a1a1"/><stop offset=".6699" stop-color="#373737"/><stop offset=".6749" stop-color="#2c2c2c"/><stop offset=".68" stop-color="#4f4f4f"/><stop offset=".69" stop-color="#cacaca"/><stop offset=".695" stop-color="#dddddd"/><stop offset=".7" stop-color="#bcbcbc"/><stop offset=".7101" stop-color="#383838"/><stop offset=".7138" stop-color="#202020"/><stop offset=".7176" stop-color="#262626"/><stop offset=".7226" stop-color="#585858"/><stop offset=".7314" stop-color="#cdcdcd"/><stop offset=".7352" stop-color="#e1e1e1"/><stop offset=".7402" stop-color="#cccccc"/><stop offset=".7527" stop-color="#2d2d2d"/><stop offset=".7577" stop-color="#202020"/><stop offset=".7628" stop-color="#484848"/><stop offset=".7728" stop-color="#cacaca"/><stop offset=".7778" stop-color="#dcdcdc"/><stop offset=".7828" stop-color="#bbbbbb"/><stop offset=".7929" stop-color="#414141"/><stop offset=".7979" stop-color="#2c2c2c"/><stop offset=".8029" stop-color="#454545"/><stop offset=".8129" stop-color="#aeaeae"/><stop offset=".818" stop-color="#c4c4c4"/><stop offset=".823" stop-color="#b2b2b2"/><stop offset=".8343" stop-color="#5a5a5a"/><stop offset=".8393" stop-color="#4f4f4f"/><stop offset=".8468" stop-color="#6d6d6d"/><stop offset=".8543" stop-color="#959595"/><stop offset=".8606" stop-color="#9d9d9d"/><stop offset=".8757" stop-color="#737373"/><stop offset=".8819" stop-color="#717171"/><stop offset=".8957" stop-color="#848484"/><stop offset=".9033" stop-color="#858585"/><stop offset=".9158" stop-color="#7e7e7e"/><stop offset=".9321" stop-color="#7f7f7f"/><stop offset=".9999" stop-color="#7f7f7f"/></linearGradient><linearGradient id="a49" x2="0" y2="1"><stop offset="0" stop-color="#808080"/><stop offset=".4378" stop-color="#808080"/><stop offset=".4504" stop-color="#808080"/><stop offset=".4629" stop-color="#7d7d7d"/><stop offset=".4717" stop-color="#808080"/><stop offset=".4817" stop-color="#858585"/><stop offset=".488" stop-color="#838383"/><stop offset=".5006" stop-color="#757575"/><stop offset=".5081" stop-color="#7a7a7a"/><stop offset=".5194" stop-color="#8e8e8e"/><stop offset=".5257" stop-color="#8c8c8c"/><stop offset=".5382" stop-color="#6f6f6f"/><stop offset=".5445" stop-color="#6f6f6f"/><stop offset=".552" stop-color="#818181"/><stop offset=".5583" stop-color="#909090"/><stop offset=".5645" stop-color="#909090"/><stop offset=".5783" stop-color="#767676"/><stop offset=".5896" stop-color="#767676"/><stop offset=".6059" stop-color="#828282"/><stop offset=".6185" stop-color="#9a9a9a"/><stop offset=".6248" stop-color="#8f8f8f"/><stop offset=".6373" stop-color="#4f4f4f"/><stop offset=".6423" stop-color="#515151"/><stop offset=".6486" stop-color="#7b7b7b"/><stop offset=".6574" stop-color="#c3c3c3"/><stop offset=".6624" stop-color="#c5c5c5"/><stop offset=".6674" stop-color="#9e9e9e"/><stop offset=".6762" stop-color="#393939"/><stop offset=".6812" stop-color="#262626"/><stop offset=".6862" stop-color="#454545"/><stop offset=".6975" stop-color="#d4d4d4"/><stop offset=".7025" stop-color="#e1e1e1"/><stop offset=".7076" stop-color="#b8b8b8"/><stop offset=".7176" stop-color="#2e2e2e"/><stop offset=".7214" stop-color="#191919"/><stop offset=".7251" stop-color="#252525"/><stop offset=".7314" stop-color="#737373"/><stop offset=".7377" stop-color="#cbcbcb"/><stop offset=".7427" stop-color="#e7e7e7"/><stop offset=".7477" stop-color="#c9c9c9"/><stop offset=".759" stop-color="#2e2e2e"/><stop offset=".764" stop-color="#1a1a1a"/><stop offset=".769" stop-color="#3d3d3d"/><stop offset=".7791" stop-color="#c8c8c8"/><stop offset=".7841" stop-color="#e2e2e2"/><stop offset=".7891" stop-color="#c5c5c5"/><stop offset=".8004" stop-color="#383838"/><stop offset=".8054" stop-color="#282828"/><stop offset=".8104" stop-color="#484848"/><stop offset=".8205" stop-color="#b6b6b6"/><stop offset=".8255" stop-color="#c7c7c7"/><stop offset=".8305" stop-color="#b1b1b1"/><stop offset=".8405" stop-color="#5b5b5b"/><stop offset=".8456" stop-color="#4b4b4b"/><stop offset=".8518" stop-color="#616161"/><stop offset=".8619" stop-color="#999999"/><stop offset=".8681" stop-color="#9e9e9e"/><stop offset=".8819" stop-color="#737373"/><stop offset=".8882" stop-color="#707070"/><stop offset=".9033" stop-color="#858585"/><stop offset=".9121" stop-color="#848484"/><stop offset=".9259" stop-color="#7d7d7d"/><stop offset=".9497" stop-color="#808080"/><stop offset=".9999" stop-color="#808080"/></linearGradient><linearGradient id="a50" x2="0" y2="1"><stop offset="0" stop-color="#808080"/><stop offset=".4429" stop-color="#808080"/><stop offset=".4541" stop-color="#808080"/><stop offset=".4667" stop-color="#7d7d7d"/><stop offset=".478" stop-color="#828282"/><stop offset=".488" stop-color="#858585"/><stop offset=".5043" stop-color="#767676"/><stop offset=".5119" stop-color="#7b7b7b"/><stop offset=".5231" stop-color="#8d8d8d"/><stop offset=".5294" stop-color="#8a8a8a"/><stop offset=".542" stop-color="#707070"/><stop offset=".5482" stop-color="#717171"/><stop offset=".5608" stop-color="#8d8d8d"/><stop offset=".5658" stop-color="#8f8f8f"/><stop offset=".5733" stop-color="#838383"/><stop offset=".5809" stop-color="#777777"/><stop offset=".5921" stop-color="#7d7d7d"/><stop offset=".5997" stop-color="#7d7d7d"/><stop offset=".611" stop-color="#787878"/><stop offset=".6185" stop-color="#8b8b8b"/><stop offset=".6273" stop-color="#9e9e9e"/><stop offset=".6335" stop-color="#8c8c8c"/><stop offset=".6448" stop-color="#4b4b4b"/><stop offset=".6499" stop-color="#4e4e4e"/><stop offset=".6561" stop-color="#7e7e7e"/><stop offset=".6637" stop-color="#c3c3c3"/><stop offset=".6687" stop-color="#cbcbcb"/><stop offset=".6737" stop-color="#a8a8a8"/><stop offset=".6837" stop-color="#313131"/><stop offset=".6887" stop-color="#222222"/><stop offset=".6938" stop-color="#484848"/><stop offset=".7038" stop-color="#d1d1d1"/><stop offset=".7088" stop-color="#e7e7e7"/><stop offset=".7138" stop-color="#c3c3c3"/><stop offset=".7239" stop-color="#313131"/><stop offset=".7289" stop-color="#151515"/><stop offset=".7327" stop-color="#262626"/><stop offset=".7402" stop-color="#909090"/><stop offset=".7465" stop-color="#dfdfdf"/><stop offset=".7502" stop-color="#eaeaea"/><stop offset=".7552" stop-color="#c6c6c6"/><stop offset=".7653" stop-color="#323232"/><stop offset=".769" stop-color="#171717"/><stop offset=".7728" stop-color="#1d1d1d"/><stop offset=".7791" stop-color="#666666"/><stop offset=".7866" stop-color="#d1d1d1"/><stop offset=".7916" stop-color="#e5e5e5"/><stop offset=".7966" stop-color="#c2c2c2"/><stop offset=".8067" stop-color="#3b3b3b"/><stop offset=".8117" stop-color="#232323"/><stop offset=".8167" stop-color="#3e3e3e"/><stop offset=".828" stop-color="#bdbdbd"/><stop offset=".833" stop-color="#cacaca"/><stop offset=".838" stop-color="#afafaf"/><stop offset=".8481" stop-color="#555555"/><stop offset=".8531" stop-color="#494949"/><stop offset=".8594" stop-color="#626262"/><stop offset=".8681" stop-color="#989898"/><stop offset=".8732" stop-color="#a2a2a2"/><stop offset=".8807" stop-color="#8e8e8e"/><stop offset=".8895" stop-color="#717171"/><stop offset=".897" stop-color="#717171"/><stop offset=".9095" stop-color="#858585"/><stop offset=".9183" stop-color="#858585"/><stop offset=".9321" stop-color="#7d7d7d"/><stop offset=".956" stop-color="#808080"/><stop offset=".9999" stop-color="#808080"/></linearGradient><g id="ha"><rect x="588.2" y="115.4" width="9.2" height="797.1" fill="url(#a0)"/><rect x="596.2" y="115.4" width="9.2" height="797.1" fill="url(#a1)" transform="matrix(1 .0308 0 1 0 -18.5)"/><rect x="604.2" y="115.4" width="9.2" height="797.1" fill="url(#a2)" transform="matrix(1 .0313 0 1 0 -19.06)"/><rect x="612.2" y="115.4" width="9.2" height="797.1" fill="url(#a3)" transform="matrix(1 .0318 0 1 0 -19.63)"/><rect x="620.2" y="115.4" width="9.2" height="797.1" fill="url(#a4)" transform="matrix(1 .0324 0 1 0 -20.22)"/><rect x="628.2" y="115.4" width="9.2" height="797.1" fill="url(#a5)" transform="matrix(1 .033 0 1 0 -20.87)"/><rect x="636.2" y="115.4" width="9.2" height="797.1" fill="url(#a6)" transform="matrix(1 .0337 0 1 0 -21.58)"/><rect x="644.2" y="115.4" width="9.2" height="797.1" fill="url(#a7)" transform="matrix(1 .0345 0 1 0 -22.37)"/><rect x="652.2" y="115.4" width="9.2" height="797.1" fill="url(#a8)" transform="matrix(1 .0373 0 1 0 -24.52)"/><rect x="660.2" y="115.4" width="9.2" height="797.1" fill="url(#a9)" transform="matrix(1 .085 0 1 0 -56.5)"/><rect x="668.2" y="115.4" width="9.2" height="797.1" fill="url(#a10)" transform="matrix(1 .1348 0 1 0 -90.68)"/><rect x="676.2" y="115.4" width="9.2" height="797.1" fill="url(#a11)" transform="matrix(1 .2013 0 1 0 -137.07)"/><rect x="684.2" y="115.4" width="9.2" height="797.1" fill="url(#a12)" transform="matrix(1 .2837 0 1 0 -195.41)"/><rect x="692.2" y="115.4" width="9.2" height="797.1" fill="url(#a13)" transform="matrix(1 .358 0 1 0 -249.45)"/><rect x="700.2" y="115.4" width="9.2" height="797.1" fill="url(#a14)" transform="matrix(1 .4083 0 1 0 -287.78)"/><rect x="708.2" y="115.4" width="9.2" height="797.1" fill="url(#a15)" transform="matrix(1 .3192 0 1 0 -227.54)"/><rect x="716.2" y="115.4" width="9.2" height="797.1" fill="url(#a16)" transform="matrix(1 .2408 0 1 0 -173.55)"/><rect x="724.2" y="115.4" width="9.2" height="797.1" fill="url(#a17)" transform="matrix(1 .1913 0 1 0 -139.4)"/><rect x="732.2" y="115.4" width="9.2" height="797.1" fill="url(#a18)" transform="matrix(1 .1709 0 1 0 -125.9)"/><rect x="740.2" y="115.4" width="9.2" height="797.1" fill="url(#a19)" transform="matrix(1 .1644 0 1 0 -122.41)"/><rect x="748.2" y="115.4" width="9.2" height="797.1" fill="url(#a20)" transform="matrix(1 .1684 0 1 0 -126.76)"/><rect x="756.2" y="115.4" width="9.2" height="797.1" fill="url(#a21)" transform="matrix(1 .1803 0 1 0 -137.15)"/><rect x="764.2" y="115.4" width="9.2" height="797.1" fill="url(#a22)" transform="matrix(1 .191 0 1 0 -146.82)"/><rect x="772.2" y="115.4" width="9.2" height="797.1" fill="url(#a23)" transform="matrix(1 .1949 0 1 0 -151.4)"/><rect x="780.2" y="115.4" width="9.2" height="797.1" fill="url(#a24)" transform="matrix(1 .1986 0 1 0 -155.86)"/><rect x="788.2" y="115.4" width="9.2" height="797.1" fill="url(#a25)" transform="matrix(1 .2057 0 1 0 -163.04)"/><rect x="796.2" y="115.4" width="9.2" height="797.1" fill="url(#a26)" transform="matrix(1 .2122 0 1 0 -169.92)"/><rect x="804.2" y="115.4" width="9.2" height="797.1" fill="url(#a27)" transform="matrix(1 .2224 0 1 0 -179.89)"/><rect x="812.2" y="115.4" width="9.2" height="797.1" fill="url(#a28)" transform="matrix(1 .2383 0 1 0 -194.65)"/><rect x="820.2" y="115.4" width="9.2" height="797.1" fill="url(#a29)" transform="matrix(1 .2516 0 1 0 -207.54)"/><rect x="828.2" y="115.4" width="9.2" height="797.1" fill="url(#a30)" transform="matrix(1 .2808 0 1 0 -233.86)"/><rect x="836.2" y="115.4" width="9.2" height="797.1" fill="url(#a31)" transform="matrix(1 .3256 0 1 0 -273.8)"/><rect x="844.2" y="115.4" width="9.2" height="797.1" fill="url(#a32)" transform="matrix(1 .3619 0 1 0 -307.2)"/><rect x="852.2" y="115.4" width="9.2" height="797.1" fill="url(#a33)" transform="matrix(1 .3891 0 1 0 -333.4)"/><rect x="860.2" y="115.4" width="9.2" height="797.1" fill="url(#a34)" transform="matrix(1 .4303 0 1 0 -372.12)"/><rect x="868.2" y="115.4" width="9.2" height="797.1" fill="url(#a35)" transform="matrix(1 .4632 0 1 0 -404.29)"/><rect x="876.2" y="115.4" width="9.2" height="797.1" fill="url(#a36)" transform="matrix(1 .4977 0 1 0 -438.36)"/><rect x="884.2" y="115.4" width="9.2" height="797.1" fill="url(#a37)" transform="matrix(1 .5255 0 1 0 -467.08)"/><rect x="892.2" y="115.4" width="9.2" height="797.1" fill="url(#a38)" transform="matrix(1 .5379 0 1 0 -482.43)"/><rect x="900.2" y="115.4" width="9.2" height="797.1" fill="url(#a39)" transform="matrix(1 .5525 0 1 0 -499.93)"/><rect x="908.2" y="115.4" width="9.2" height="797.1" fill="url(#a40)" transform="matrix(1 .553 0 1 0 -504.82)"/><rect x="916.2" y="115.4" width="9.2" height="797.1" fill="url(#a41)" transform="matrix(1 .5536 0 1 0 -509.79)"/><rect x="924.2" y="115.4" width="9.2" height="797.1" fill="url(#a42)" transform="matrix(1 .5653 0 1 0 -525.07)"/><rect x="932.2" y="115.4" width="9.2" height="797.1" fill="url(#a43)" transform="matrix(1 .5839 0 1 0 -547.01)"/><rect x="940.2" y="115.4" width="9.2" height="797.1" fill="url(#a44)" transform="matrix(1 .6096 0 1 0 -575.94)"/><rect x="948.2" y="115.4" width="9.2" height="797.1" fill="url(#a45)" transform="matrix(1 .6322 0 1 0 -602.37)"/><rect x="956.2" y="115.4" width="9.2" height="797.1" fill="url(#a46)" transform="matrix(1 .6545 0 1 0 -628.87)"/><rect x="964.2" y="115.4" width="9.2" height="797.1" fill="url(#a47)" transform="matrix(1 .6723 0 1 0 -651.32)"/><rect x="972.2" y="115.4" width="9.2" height="797.1" fill="url(#a48)" transform="matrix(1 .6833 0 1 0 -667.42)"/><rect x="980.2" y="115.4" width="9.2" height="797.1" fill="url(#a49)" transform="matrix(1 .6934 0 1 0 -682.89)"/><rect x="988.2" y="115.4" width="9.2" height="797.1" fill="url(#a50)" transform="matrix(1 .6963 0 1 0 -691.31)"/></g><linearGradient id="b0" x2="0" y2="1"><stop offset="0" stop-color="#808080"/><stop offset=".3538" stop-color="#808080"/><stop offset=".3676" stop-color="#808080"/><stop offset=".3814" stop-color="#7a7a7a"/><stop offset=".3877" stop-color="#7e7e7e"/><stop offset=".4002" stop-color="#8f8f8f"/><stop offset=".4077" stop-color="#838383"/><stop offset=".419" stop-color="#5f5f5f"/><stop offset=".424" stop-color="#666666"/><stop offset=".4316" stop-color="#949494"/><stop offset=".4391" stop-color="#bbbbbb"/><stop offset=".4441" stop-color="#acacac"/><stop offset=".4567" stop-color="#2d2d2d"/><stop offset=".4617" stop-color="#292929"/><stop offset=".4667" stop-color="#5d5d5d"/><stop offset=".4755" stop-color="#e5e5e5"/><stop offset=".4792" stop-color="#fbfbfb"/><stop offset=".483" stop-color="#e7e7e7"/><stop offset=".4893" stop-color="#787878"/><stop offset=".4955" stop-color="#020202"/><stop offset=".5031" stop-color="#040404"/><stop offset=".5081" stop-color="#696969"/><stop offset=".5144" stop-color="#fafafa"/><stop offset=".5231" stop-color="#ffffff"/><stop offset=".5257" stop-color="#d6d6d6"/><stop offset=".5332" stop-color="#171717"/><stop offset=".5344" stop-color="#000000"/><stop offset=".5432" stop-color="#000000"/><stop offset=".5445" stop-color="#0a0a0a"/><stop offset=".5533" stop-color="#ebebeb"/><stop offset=".5545" stop-color="#ffffff"/><stop offset=".5645" stop-color="#f6f6f6"/><stop offset=".5733" stop-color="#141414"/><stop offset=".5746" stop-color="#000000"/><stop offset=".5846" stop-color="#090909"/><stop offset=".5934" stop-color="#eaeaea"/><stop offset=".5947" stop-color="#ffffff"/><stop offset=".6034" stop-color="#ffffff"/><stop offset=".6059" stop-color="#d8d8d8"/><stop offset=".6135" stop-color="#191919"/><stop offset=".6147" stop-color="#000000"/><stop offset=".6235" stop-color="#000000"/><stop offset=".6285" stop-color="#696969"/><stop offset=".6348" stop-color="#f3f3f3"/><stop offset=".6386" stop-color="#ffffff"/><stop offset=".6423" stop-color="#ffffff"/><stop offset=".6473" stop-color="#aeaeae"/><stop offset=".6536" stop-color="#303030"/><stop offset=".6574" stop-color="#080808"/><stop offset=".6611" stop-color="#0a0a0a"/><stop offset=".6674" stop-color="#5b5b5b"/><stop offset=".6749" stop-color="#c9c9c9"/><stop offset=".68" stop-color="#dadada"/><stop offset=".6862" stop-color="#a8a8a8"/><stop offset=".6938" stop-color="#575757"/><stop offset=".6988" stop-color="#444444"/><stop offset=".7051" stop-color="#5e5e5e"/><stop offset=".7138" stop-color="#979797"/><stop offset=".7189" stop-color="#a1a1a1"/><stop offset=".7289" stop-color="#838383"/><stop offset=".7364" stop-color="#717171"/><stop offset=".7452" stop-color="#787878"/><stop offset=".7552" stop-color="#858585"/><stop offset=".769" stop-color="#808080"/><stop offset=".7803" stop-color="#7e7e7e"/><stop offset=".8042" stop-color="#808080"/><stop offset=".9999" stop-color="#808080"/></linearGradient><linearGradient id="b1" x2="0" y2="1"><stop offset="0" stop-color="#808080"/><stop offset=".3538" stop-color="#808080"/><stop offset=".3676" stop-color="#808080"/><stop offset=".3814" stop-color="#7a7a7a"/><stop offset=".3877" stop-color="#7e7e7e"/><stop offset=".4002" stop-color="#8f8f8f"/><stop offset=".4077" stop-color="#838383"/><stop offset=".419" stop-color="#5f5f5f"/><stop offset=".424" stop-color="#666666"/><stop offset=".4316" stop-color="#949494"/><stop offset=".4391" stop-color="#bbbbbb"/><stop offset=".4441" stop-color="#acacac"/><stop offset=".4567" stop-color="#2d2d2d"/><stop offset=".4617" stop-color="#292929"/><stop offset=".4667" stop-color="#5d5d5d"/><stop offset=".4755" stop-color="#e5e5e5"/><stop offset=".4792" stop-color="#fbfbfb"/><stop offset=".483" stop-color="#e7e7e7"/><stop offset=".4893" stop-color="#787878"/><stop offset=".4955" stop-color="#020202"/><stop offset=".5031" stop-color="#040404"/><stop offset=".5081" stop-color="#696969"/><stop offset=".5144" stop-color="#fafafa"/><stop offset=".5231" stop-color="#ffffff"/><stop offset=".5257" stop-color="#d6d6d6"/><stop offset=".5332" stop-color="#171717"/><stop offset=".5344" stop-color="#000000"/><stop offset=".5432" stop-color="#000000"/><stop offset=".5445" stop-color="#0a0a0a"/><stop offset=".5533" stop-color="#ebebeb"/><stop offset=".5545" stop-color="#ffffff"/><stop offset=".5645" stop-color="#f6f6f6"/><stop offset=".5733" stop-color="#141414"/><stop offset=".5746" stop-color="#000000"/><stop offset=".5846" stop-color="#090909"/><stop offset=".5934" stop-color="#eaeaea"/><stop offset=".5947" stop-color="#ffffff"/><stop offset=".6034" stop-color="#ffffff"/><stop offset=".6059" stop-color="#d8d8d8"/><stop offset=".6135" stop-color="#191919"/><stop offset=".6147" stop-color="#000000"/><stop offset=".6235" stop-color="#000000"/><stop offset=".6285" stop-color="#696969"/><stop offset=".6348" stop-color="#f3f3f3"/><stop offset=".6386" stop-color="#ffffff"/><stop offset=".6423" stop-color="#ffffff"/><stop offset=".6473" stop-color="#aeaeae"/><stop offset=".6536" stop-color="#303030"/><stop offset=".6574" stop-color="#080808"/><stop offset=".6611" stop-color="#0a0a0a"/><stop offset=".6674" stop-color="#5b5b5b"/><stop offset=".6749" stop-color="#c9c9c9"/><stop offset=".68" stop-color="#dadada"/><stop offset=".6862" stop-color="#a8a8a8"/><stop offset=".6938" stop-color="#575757"/><stop offset=".6988" stop-color="#444444"/><stop offset=".7051" stop-color="#5e5e5e"/><stop offset=".7138" stop-color="#979797"/><stop offset=".7189" stop-color="#a1a1a1"/><stop offset=".7289" stop-color="#838383"/><stop offset=".7364" stop-color="#717171"/><stop offset=".7452" stop-color="#787878"/><stop offset=".7552" stop-color="#858585"/><stop offset=".769" stop-color="#808080"/><stop offset=".7803" stop-color="#7e7e7e"/><stop offset=".8042" stop-color="#808080"/><stop offset=".9999" stop-color="#808080"/></linearGradient><linearGradient id="b2" x2="0" y2="1"><stop offset="0" stop-color="#808080"/><stop offset=".3538" stop-color="#808080"/><stop offset=".3676" stop-color="#808080"/><stop offset=".3814" stop-color="#7a7a7a"/><stop offset=".3902" stop-color="#828282"/><stop offset=".4002" stop-color="#8f8f8f"/><stop offset=".4065" stop-color="#868686"/><stop offset=".419" stop-color="#5f5f5f"/><stop offset=".4253" stop-color="#6b6b6b"/><stop offset=".4378" stop-color="#b8b8b8"/><stop offset=".4429" stop-color="#b3b3b3"/><stop offset=".4491" stop-color="#7b7b7b"/><stop offset=".4567" stop-color="#2d2d2d"/><stop offset=".4617" stop-color="#2a2a2a"/><stop offset=".4667" stop-color="#5e5e5e"/><stop offset=".4755" stop-color="#e5e5e5"/><stop offset=".4792" stop-color="#fbfbfb"/><stop offset=".483" stop-color="#e6e6e6"/><stop offset=".4893" stop-color="#777777"/><stop offset=".4955" stop-color="#020202"/><stop offset=".5031" stop-color="#050505"/><stop offset=".5081" stop-color="#6a6a6a"/><stop offset=".5144" stop-color="#fafafa"/><stop offset=".5231" stop-color="#ffffff"/><stop offset=".5257" stop-color="#d5d5d5"/><stop offset=".5332" stop-color="#171717"/><stop offset=".5344" stop-color="#000000"/><stop offset=".5432" stop-color="#000000"/><stop offset=".5457" stop-color="#272727"/><stop offset=".5533" stop-color="#ebebeb"/><stop offset=".5545" stop-color="#ffffff"/><stop offset=".5633" stop-color="#ffffff"/><stop offset=".5645" stop-color="#f5f5f5"/><stop offset=".5733" stop-color="#141414"/><stop offset=".5746" stop-color="#000000"/><stop offset=".5834" stop-color="#000000"/><stop offset=".5846" stop-color="#0a0a0a"/><stop offset=".5934" stop-color="#eaeaea"/><stop offset=".5947" stop-color="#ffffff"/><stop offset=".6034" stop-color="#ffffff"/><stop offset=".6059" stop-color="#d7d7d7"/><stop offset=".6135" stop-color="#191919"/><stop offset=".6147" stop-color="#010101"/><stop offset=".6235" stop-color="#000000"/><stop offset=".6285" stop-color="#6a6a6a"/><stop offset=".6348" stop-color="#f3f3f3"/><stop offset=".6386" stop-color="#ffffff"/><stop offset=".6423" stop-color="#ffffff"/><stop offset=".6473" stop-color="#adadad"/><stop offset=".6536" stop-color="#303030"/><stop offset=".6574" stop-color="#090909"/><stop offset=".6611" stop-color="#0b0b0b"/><stop offset=".6674" stop-color="#5c5c5c"/><stop offset=".6749" stop-color="#c9c9c9"/><stop offset=".68" stop-color="#d9d9d9"/><stop offset=".6862" stop-color="#a7a7a7"/><stop offset=".6938" stop-color="#575757"/><stop offset=".6988" stop-color="#454545"/><stop offset=".7051" stop-color="#5e5e5e"/><stop offset=".7138" stop-color="#979797"/><stop offset=".7201" stop-color="#9f9f9f"/><stop offset=".7339" stop-color="#747474"/><stop offset=".7402" stop-color="#717171"/><stop offset=".754" stop-color="#848484"/><stop offset=".764" stop-color="#838383"/><stop offset=".7753" stop-color="#7e7e7e"/><stop offset=".8092" stop-color="#808080"/><stop offset=".9999" stop-color="#7f7f7f"/></linearGradient><linearGradient id="b3" x2="0" y2="1"><stop offset="0" stop-color="#808080"/><stop offset=".3538" stop-color="#808080"/><stop offset=".3676" stop-color="#808080"/><stop offset=".3814" stop-color="#7a7a7a"/><stop offset=".3902" stop-color="#828282"/><stop offset=".4002" stop-color="#8f8f8f"/><stop offset=".4065" stop-color="#868686"/><stop offset=".419" stop-color="#5f5f5f"/><stop offset=".424" stop-color="#666666"/><stop offset=".4378" stop-color="#b8b8b8"/><stop offset=".4429" stop-color="#b2b2b2"/><stop offset=".4491" stop-color="#7b7b7b"/><stop offset=".4567" stop-color="#2e2e2e"/><stop offset=".4617" stop-color="#2b2b2b"/><stop offset=".4667" stop-color="#5f5f5f"/><stop offset=".4755" stop-color="#e4e4e4"/><stop offset=".4792" stop-color="#f9f9f9"/><stop offset=".483" stop-color="#e5e5e5"/><stop offset=".4893" stop-color="#767676"/><stop offset=".4955" stop-color="#030303"/><stop offset=".5031" stop-color="#070707"/><stop offset=".5093" stop-color="#8a8a8a"/><stop offset=".5144" stop-color="#f9f9f9"/><stop offset=".5231" stop-color="#ffffff"/><stop offset=".5269" stop-color="#b5b5b5"/><stop offset=".5332" stop-color="#171717"/><stop offset=".5344" stop-color="#000000"/><stop offset=".5432" stop-color="#000000"/><stop offset=".5457" stop-color="#292929"/><stop offset=".5533" stop-color="#eaeaea"/><stop offset=".5545" stop-color="#ffffff"/><stop offset=".5633" stop-color="#ffffff"/><stop offset=".5658" stop-color="#d6d6d6"/><stop offset=".5733" stop-color="#151515"/><stop offset=".5746" stop-color="#000000"/><stop offset=".5834" stop-color="#000000"/><stop offset=".5859" stop-color="#292929"/><stop offset=".5934" stop-color="#e9e9e9"/><stop offset=".5947" stop-color="#ffffff"/><stop offset=".6034" stop-color="#ffffff"/><stop offset=".6059" stop-color="#d4d4d4"/><stop offset=".6135" stop-color="#191919"/><stop offset=".6147" stop-color="#020202"/><stop offset=".6235" stop-color="#000000"/><stop offset=".6348" stop-color="#f2f2f2"/><stop offset=".6386" stop-color="#ffffff"/><stop offset=".6423" stop-color="#ffffff"/><stop offset=".6473" stop-color="#ababab"/><stop offset=".6536" stop-color="#313131"/><stop offset=".6574" stop-color="#0b0b0b"/><stop offset=".6611" stop-color="#0e0e0e"/><stop offset=".6674" stop-color="#5d5d5d"/><stop offset=".6749" stop-color="#c8c8c8"/><stop offset=".68" stop-color="#d7d7d7"/><stop offset=".6862" stop-color="#a6a6a6"/><stop offset=".6938" stop-color="#575757"/><stop offset=".6988" stop-color="#464646"/><stop offset=".7051" stop-color="#5f5f5f"/><stop offset=".7138" stop-color="#979797"/><stop offset=".7201" stop-color="#9e9e9e"/><stop offset=".7339" stop-color="#747474"/><stop offset=".7414" stop-color="#737373"/><stop offset=".754" stop-color="#848484"/><stop offset=".764" stop-color="#838383"/><stop offset=".7753" stop-color="#7e7e7e"/><stop offset=".8092" stop-color="#808080"/><stop offset=".9999" stop-color="#7f7f7f"/></linearGradient><linearGradient id="b4" x2="0" y2="1"><stop offset="0" stop-color="#808080"/><stop offset=".3538" stop-color="#808080"/><stop offset=".3676" stop-color="#808080"/><stop offset=".3814" stop-color="#7a7a7a"/><stop offset=".3902" stop-color="#828282"/><stop offset=".4002" stop-color="#8e8e8e"/><stop offset=".4065" stop-color="#868686"/><stop offset=".419" stop-color="#606060"/><stop offset=".424" stop-color="#676767"/><stop offset=".4378" stop-color="#b6b6b6"/><stop offset=".4429" stop-color="#b1b1b1"/><stop offset=".4491" stop-color="#7a7a7a"/><stop offset=".4567" stop-color="#303030"/><stop offset=".4617" stop-color="#2e2e2e"/><stop offset=".4667" stop-color="#616161"/><stop offset=".4755" stop-color="#e2e2e2"/><stop offset=".4805" stop-color="#f3f3f3"/><stop offset=".4843" stop-color="#d1d1d1"/><stop offset=".4955" stop-color="#060606"/><stop offset=".5018" stop-color="#000000"/><stop offset=".5056" stop-color="#373737"/><stop offset=".5144" stop-color="#f7f7f7"/><stop offset=".5231" stop-color="#fefefe"/><stop offset=".5294" stop-color="#727272"/><stop offset=".5344" stop-color="#010101"/><stop offset=".5432" stop-color="#000000"/><stop offset=".5482" stop-color="#6c6c6c"/><stop offset=".5533" stop-color="#e8e8e8"/><stop offset=".5545" stop-color="#ffffff"/><stop offset=".5633" stop-color="#ffffff"/><stop offset=".5671" stop-color="#b3b3b3"/><stop offset=".5733" stop-color="#171717"/><stop offset=".5746" stop-color="#000000"/><stop offset=".5834" stop-color="#000000"/><stop offset=".5884" stop-color="#6c6c6c"/><stop offset=".5947" stop-color="#ffffff"/><stop offset=".6034" stop-color="#ffffff"/><stop offset=".6097" stop-color="#727272"/><stop offset=".6147" stop-color="#050505"/><stop offset=".6235" stop-color="#060606"/><stop offset=".6348" stop-color="#eeeeee"/><stop offset=".6373" stop-color="#ffffff"/><stop offset=".6423" stop-color="#fafafa"/><stop offset=".6486" stop-color="#8f8f8f"/><stop offset=".6549" stop-color="#232323"/><stop offset=".6586" stop-color="#0c0c0c"/><stop offset=".6637" stop-color="#2a2a2a"/><stop offset=".6737" stop-color="#bababa"/><stop offset=".6787" stop-color="#d5d5d5"/><stop offset=".685" stop-color="#b1b1b1"/><stop offset=".6938" stop-color="#595959"/><stop offset=".6988" stop-color="#494949"/><stop offset=".7051" stop-color="#616161"/><stop offset=".7138" stop-color="#969696"/><stop offset=".7189" stop-color="#9e9e9e"/><stop offset=".7339" stop-color="#757575"/><stop offset=".7414" stop-color="#747474"/><stop offset=".754" stop-color="#848484"/><stop offset=".7628" stop-color="#838383"/><stop offset=".7753" stop-color="#7e7e7e"/><stop offset=".8092" stop-color="#808080"/><stop offset=".9999" stop-color="#7f7f7f"/></linearGradient><linearGradient id="b5" x2="0" y2="1"><stop offset="0" stop-color="#808080"/><stop offset=".3538" stop-color="#808080"/><stop offset=".3676" stop-color="#808080"/><stop offset=".3814" stop-color="#7a7a7a"/><stop offset=".3902" stop-color="#828282"/><stop offset=".4002" stop-color="#8d8d8d"/><stop offset=".4077" stop-color="#828282"/><stop offset=".419" stop-color="#626262"/><stop offset=".4253" stop-color="#6e6e6e"/><stop offset=".4378" stop-color="#b3b3b3"/><stop offset=".4429" stop-color="#adadad"/><stop offset=".4504" stop-color="#6c6c6c"/><stop offset=".4567" stop-color="#343434"/><stop offset=".4617" stop-color="#343434"/><stop offset=".4667" stop-color="#646464"/><stop offset=".4755" stop-color="#dddddd"/><stop offset=".4805" stop-color="#ebebeb"/><stop offset=".4855" stop-color="#b8b8b8"/><stop offset=".4943" stop-color="#1c1c1c"/><stop offset=".4981" stop-color="#000000"/><stop offset=".5018" stop-color="#070707"/><stop offset=".5068" stop-color="#575757"/><stop offset=".5144" stop-color="#f1f1f1"/><stop offset=".5169" stop-color="#ffffff"/><stop offset=".5219" stop-color="#ffffff"/><stop offset=".5257" stop-color="#c7c7c7"/><stop offset=".5344" stop-color="#080808"/><stop offset=".5432" stop-color="#070707"/><stop offset=".5507" stop-color="#aeaeae"/><stop offset=".5545" stop-color="#f9f9f9"/><stop offset=".5633" stop-color="#f8f8f8"/><stop offset=".5708" stop-color="#515151"/><stop offset=".5746" stop-color="#060606"/><stop offset=".5834" stop-color="#070707"/><stop offset=".5947" stop-color="#f7f7f7"/><stop offset=".6022" stop-color="#ffffff"/><stop offset=".6059" stop-color="#c7c7c7"/><stop offset=".6135" stop-color="#212121"/><stop offset=".616" stop-color="#000000"/><stop offset=".6223" stop-color="#000000"/><stop offset=".6285" stop-color="#727272"/><stop offset=".6348" stop-color="#e7e7e7"/><stop offset=".6386" stop-color="#ffffff"/><stop offset=".6423" stop-color="#efefef"/><stop offset=".6499" stop-color="#747474"/><stop offset=".6549" stop-color="#292929"/><stop offset=".6599" stop-color="#161616"/><stop offset=".6649" stop-color="#414141"/><stop offset=".6737" stop-color="#b6b6b6"/><stop offset=".6787" stop-color="#cecece"/><stop offset=".685" stop-color="#ababab"/><stop offset=".6938" stop-color="#5b5b5b"/><stop offset=".6988" stop-color="#4d4d4d"/><stop offset=".7063" stop-color="#6c6c6c"/><stop offset=".7138" stop-color="#949494"/><stop offset=".7201" stop-color="#9a9a9a"/><stop offset=".7339" stop-color="#767676"/><stop offset=".7414" stop-color="#757575"/><stop offset=".7527" stop-color="#838383"/><stop offset=".764" stop-color="#828282"/><stop offset=".7778" stop-color="#7e7e7e"/><stop offset=".8054" stop-color="#808080"/><stop offset=".9999" stop-color="#7f7f7f"/></linearGradient><linearGradient id="b6" x2="0" y2="1"><stop offset="0" stop-color="#808080"/><stop offset=".355" stop-color="#808080"/><stop offset=".3676" stop-color="#808080"/><stop offset=".3826" stop-color="#7b7b7b"/><stop offset=".4002" stop-color="#8c8c8c"/><stop offset=".4077" stop-color="#818181"/><stop offset=".419" stop-color="#656565"/><stop offset=".4253" stop-color="#717171"/><stop offset=".4378" stop-color="#adadad"/><stop offset=".4429" stop-color="#a7a7a7"/><stop offset=".4491" stop-color="#787878"/><stop offset=".4567" stop-color="#3d3d3d"/><stop offset=".4617" stop-color="#3d3d3d"/><stop offset=".4679" stop-color="#7a7a7a"/><stop offset=".4755" stop-color="#d3d3d3"/><stop offset=".4805" stop-color="#dedede"/><stop offset=".4855" stop-color="#aeaeae"/><stop offset=".4955" stop-color="#181818"/><stop offset=".5006" stop-color="#0f0f0f"/><stop offset=".5056" stop-color="#494949"/><stop offset=".5144" stop-color="#e6e6e6"/><stop offset=".5181" stop-color="#ffffff"/><stop offset=".5219" stop-color="#f1f1f1"/><stop offset=".5269" stop-color="#a1a1a1"/><stop offset=".5344" stop-color="#131313"/><stop offset=".5382" stop-color="#000000"/><stop offset=".542" stop-color="#0a0a0a"/><stop offset=".547" stop-color="#5d5d5d"/><stop offset=".5545" stop-color="#ededed"/><stop offset=".5583" stop-color="#ffffff"/><stop offset=".562" stop-color="#f6f6f6"/><stop offset=".5683" stop-color="#878787"/><stop offset=".5746" stop-color="#131313"/><stop offset=".5783" stop-color="#000000"/><stop offset=".5821" stop-color="#0a0a0a"/><stop offset=".5884" stop-color="#777777"/><stop offset=".5947" stop-color="#ebebeb"/><stop offset=".5984" stop-color="#ffffff"/><stop offset=".6022" stop-color="#f2f2f2"/><stop offset=".6085" stop-color="#888888"/><stop offset=".6147" stop-color="#191919"/><stop offset=".6185" stop-color="#010101"/><stop offset=".6223" stop-color="#141414"/><stop offset=".6298" stop-color="#909090"/><stop offset=".6348" stop-color="#dcdcdc"/><stop offset=".6386" stop-color="#f0f0f0"/><stop offset=".6436" stop-color="#d0d0d0"/><stop offset=".6536" stop-color="#3f3f3f"/><stop offset=".6586" stop-color="#242424"/><stop offset=".6637" stop-color="#3f3f3f"/><stop offset=".6737" stop-color="#b0b0b0"/><stop offset=".6787" stop-color="#c3c3c3"/><stop offset=".685" stop-color="#a3a3a3"/><stop offset=".6938" stop-color="#5f5f5f"/><stop offset=".6988" stop-color="#555555"/><stop offset=".7076" stop-color="#787878"/><stop offset=".7151" stop-color="#959595"/><stop offset=".7214" stop-color="#939393"/><stop offset=".7339" stop-color="#777777"/><stop offset=".7414" stop-color="#777777"/><stop offset=".754" stop-color="#838383"/><stop offset=".7678" stop-color="#808080"/><stop offset=".7766" stop-color="#7e7e7e"/><stop offset=".8042" stop-color="#808080"/><stop offset=".9999" stop-color="#7f7f7f"/></linearGradient><linearGradient id="b7" x2="0" y2="1"><stop offset="0" stop-color="#808080"/><stop offset=".3563" stop-color="#808080"/><stop offset=".3676" stop-color="#808080"/><stop offset=".3814" stop-color="#7c7c7c"/><stop offset=".3902" stop-color="#828282"/><stop offset=".4002" stop-color="#898989"/><stop offset=".4065" stop-color="#838383"/><stop offset=".4178" stop-color="#6b6b6b"/><stop offset=".424" stop-color="#717171"/><stop offset=".4378" stop-color="#a5a5a5"/><stop offset=".4429" stop-color="#9e9e9e"/><stop offset=".4567" stop-color="#484848"/><stop offset=".4617" stop-color="#4c4c4c"/><stop offset=".4679" stop-color="#808080"/><stop offset=".4755" stop-color="#c6c6c6"/><stop offset=".4805" stop-color="#cacaca"/><stop offset=".4868" stop-color="#8f8f8f"/><stop offset=".4943" stop-color="#323232"/><stop offset=".4993" stop-color="#222222"/><stop offset=".5043" stop-color="#4b4b4b"/><stop offset=".5144" stop-color="#d7d7d7"/><stop offset=".5194" stop-color="#e6e6e6"/><stop offset=".5244" stop-color="#b8b8b8"/><stop offset=".5332" stop-color="#303030"/><stop offset=".5382" stop-color="#131313"/><stop offset=".5432" stop-color="#353535"/><stop offset=".5533" stop-color="#cfcfcf"/><stop offset=".5583" stop-color="#ececec"/><stop offset=".5633" stop-color="#c9c9c9"/><stop offset=".5733" stop-color="#313131"/><stop offset=".5771" stop-color="#161616"/><stop offset=".5809" stop-color="#1e1e1e"/><stop offset=".5871" stop-color="#6f6f6f"/><stop offset=".5947" stop-color="#d9d9d9"/><stop offset=".5984" stop-color="#e8e8e8"/><stop offset=".6034" stop-color="#c6c6c6"/><stop offset=".6135" stop-color="#363636"/><stop offset=".6185" stop-color="#1e1e1e"/><stop offset=".6235" stop-color="#3f3f3f"/><stop offset=".6335" stop-color="#c1c1c1"/><stop offset=".6386" stop-color="#d6d6d6"/><stop offset=".6436" stop-color="#b7b7b7"/><stop offset=".6536" stop-color="#494949"/><stop offset=".6586" stop-color="#3a3a3a"/><stop offset=".6649" stop-color="#5f5f5f"/><stop offset=".6724" stop-color="#a1a1a1"/><stop offset=".6775" stop-color="#b2b2b2"/><stop offset=".6837" stop-color="#9d9d9d"/><stop offset=".6925" stop-color="#696969"/><stop offset=".6975" stop-color="#606060"/><stop offset=".7051" stop-color="#747474"/><stop offset=".7126" stop-color="#8c8c8c"/><stop offset=".7189" stop-color="#8f8f8f"/><stop offset=".7327" stop-color="#797979"/><stop offset=".7414" stop-color="#7b7b7b"/><stop offset=".754" stop-color="#828282"/><stop offset=".7753" stop-color="#7f7f7f"/><stop offset=".9999" stop-color="#7f7f7f"/></linearGradient><linearGradient id="b8" x2="0" y2="1"><stop offset="0" stop-color="#808080"/><stop offset=".3701" stop-color="#7f7f7f"/><stop offset=".3826" stop-color="#7d7d7d"/><stop offset=".4002" stop-color="#878787"/><stop offset=".409" stop-color="#7c7c7c"/><stop offset=".4178" stop-color="#707070"/><stop offset=".424" stop-color="#777777"/><stop offset=".4366" stop-color="#9b9b9b"/><stop offset=".4429" stop-color="#939393"/><stop offset=".4554" stop-color="#575757"/><stop offset=".4604" stop-color="#595959"/><stop offset=".4667" stop-color="#7e7e7e"/><stop offset=".4742" stop-color="#b2b2b2"/><stop offset=".4792" stop-color="#b6b6b6"/><stop offset=".4843" stop-color="#989898"/><stop offset=".493" stop-color="#474747"/><stop offset=".4981" stop-color="#3b3b3b"/><stop offset=".5031" stop-color="#595959"/><stop offset=".5131" stop-color="#bfbfbf"/><stop offset=".5181" stop-color="#cacaca"/><stop offset=".5231" stop-color="#a8a8a8"/><stop offset=".5319" stop-color="#454545"/><stop offset=".5369" stop-color="#313131"/><stop offset=".542" stop-color="#4b4b4b"/><stop offset=".552" stop-color="#bababa"/><stop offset=".557" stop-color="#cdcdcd"/><stop offset=".562" stop-color="#b2b2b2"/><stop offset=".5721" stop-color="#464646"/><stop offset=".5771" stop-color="#343434"/><stop offset=".5821" stop-color="#4f4f4f"/><stop offset=".5921" stop-color="#b7b7b7"/><stop offset=".5959" stop-color="#c7c7c7"/><stop offset=".6009" stop-color="#b8b8b8"/><stop offset=".6122" stop-color="#4b4b4b"/><stop offset=".6172" stop-color="#3d3d3d"/><stop offset=".6223" stop-color="#565656"/><stop offset=".6323" stop-color="#aeaeae"/><stop offset=".6373" stop-color="#b9b9b9"/><stop offset=".6423" stop-color="#a1a1a1"/><stop offset=".6524" stop-color="#585858"/><stop offset=".6574" stop-color="#525252"/><stop offset=".6649" stop-color="#777777"/><stop offset=".6712" stop-color="#999999"/><stop offset=".6762" stop-color="#a0a0a0"/><stop offset=".6837" stop-color="#898989"/><stop offset=".6913" stop-color="#6e6e6e"/><stop offset=".6975" stop-color="#6d6d6d"/><stop offset=".7101" stop-color="#898989"/><stop offset=".7163" stop-color="#898989"/><stop offset=".7301" stop-color="#7a7a7a"/><stop offset=".749" stop-color="#828282"/><stop offset=".769" stop-color="#7e7e7e"/><stop offset=".7866" stop-color="#808080"/><stop offset=".9999" stop-color="#7f7f7f"/></linearGradient><linearGradient id="b9" x2="0" y2="1"><stop offset="0" stop-color="#808080"/><stop offset=".3713" stop-color="#7f7f7f"/><stop offset=".3851" stop-color="#7f7f7f"/><stop offset=".3977" stop-color="#848484"/><stop offset=".4065" stop-color="#7f7f7f"/><stop offset=".4165" stop-color="#757575"/><stop offset=".4228" stop-color="#7a7a7a"/><stop offset=".4353" stop-color="#939393"/><stop offset=".4416" stop-color="#8c8c8c"/><stop offset=".4541" stop-color="#626262"/><stop offset=".4592" stop-color="#656565"/><stop offset=".4679" stop-color="#909090"/><stop offset=".4742" stop-color="#a8a8a8"/><stop offset=".4792" stop-color="#a1a1a1"/><stop offset=".4918" stop-color="#535353"/><stop offset=".4968" stop-color="#4f4f4f"/><stop offset=".5018" stop-color="#6a6a6a"/><stop offset=".5106" stop-color="#adadad"/><stop offset=".5156" stop-color="#b7b7b7"/><stop offset=".5206" stop-color="#9e9e9e"/><stop offset=".5294" stop-color="#545454"/><stop offset=".5344" stop-color="#454545"/><stop offset=".5395" stop-color="#5a5a5a"/><stop offset=".5495" stop-color="#acacac"/><stop offset=".5545" stop-color="#b9b9b9"/><stop offset=".5595" stop-color="#a3a3a3"/><stop offset=".5696" stop-color="#535353"/><stop offset=".5746" stop-color="#494949"/><stop offset=".5796" stop-color="#606060"/><stop offset=".5896" stop-color="#ababab"/><stop offset=".5947" stop-color="#b3b3b3"/><stop offset=".5997" stop-color="#9c9c9c"/><stop offset=".6085" stop-color="#5c5c5c"/><stop offset=".6135" stop-color="#4f4f4f"/><stop offset=".6185" stop-color="#606060"/><stop offset=".6285" stop-color="#a2a2a2"/><stop offset=".6335" stop-color="#aaaaaa"/><stop offset=".6386" stop-color="#989898"/><stop offset=".6473" stop-color="#656565"/><stop offset=".6524" stop-color="#5c5c5c"/><stop offset=".6574" stop-color="#696969"/><stop offset=".6662" stop-color="#939393"/><stop offset=".6712" stop-color="#9b9b9b"/><stop offset=".6775" stop-color="#8d8d8d"/><stop offset=".6862" stop-color="#6e6e6e"/><stop offset=".6925" stop-color="#6d6d6d"/><stop offset=".7051" stop-color="#8c8c8c"/><stop offset=".7113" stop-color="#8c8c8c"/><stop offset=".7239" stop-color="#777777"/><stop offset=".7314" stop-color="#797979"/><stop offset=".7414" stop-color="#848484"/><stop offset=".7502" stop-color="#838383"/><stop offset=".7615" stop-color="#7d7d7d"/><stop offset=".7741" stop-color="#7f7f7f"/><stop offset=".7853" stop-color="#818181"/><stop offset=".8042" stop-color="#7f7f7f"/><stop offset=".9999" stop-color="#7f7f7f"/></linearGradient><linearGradient id="b10" x2="0" y2="1"><stop offset="0" stop-color="#808080"/><stop offset=".3713" stop-color="#7f7f7f"/><stop offset=".3839" stop-color="#7f7f7f"/><stop offset=".3977" stop-color="#838383"/><stop offset=".4153" stop-color="#777777"/><stop offset=".4228" stop-color="#7e7e7e"/><stop offset=".4328" stop-color="#8f8f8f"/><stop offset=".4391" stop-color="#8a8a8a"/><stop offset=".4516" stop-color="#676767"/><stop offset=".4579" stop-color="#6c6c6c"/><stop offset=".4705" stop-color="#a1a1a1"/><stop offset=".4755" stop-color="#a1a1a1"/><stop offset=".4817" stop-color="#838383"/><stop offset=".4893" stop-color="#565656"/><stop offset=".4943" stop-color="#535353"/><stop offset=".4993" stop-color="#6c6c6c"/><stop offset=".5081" stop-color="#adadad"/><stop offset=".5131" stop-color="#b5b5b5"/><stop offset=".5181" stop-color="#9b9b9b"/><stop offset=".5269" stop-color="#525252"/><stop offset=".5319" stop-color="#454545"/><stop offset=".5369" stop-color="#5c5c5c"/><stop offset=".547" stop-color="#b1b1b1"/><stop offset=".5507" stop-color="#bcbcbc"/><stop offset=".5558" stop-color="#aaaaaa"/><stop offset=".5658" stop-color="#535353"/><stop offset=".5708" stop-color="#444444"/><stop offset=".5758" stop-color="#595959"/><stop offset=".5859" stop-color="#aeaeae"/><stop offset=".5909" stop-color="#b9b9b9"/><stop offset=".5959" stop-color="#a1a1a1"/><stop offset=".6059" stop-color="#505050"/><stop offset=".611" stop-color="#494949"/><stop offset=".616" stop-color="#636363"/><stop offset=".6248" stop-color="#a9a9a9"/><stop offset=".6285" stop-color="#b5b5b5"/><stop offset=".6335" stop-color="#a7a7a7"/><stop offset=".6448" stop-color="#565656"/><stop offset=".6499" stop-color="#515151"/><stop offset=".6549" stop-color="#686868"/><stop offset=".6637" stop-color="#a1a1a1"/><stop offset=".6687" stop-color="#a8a8a8"/><stop offset=".6737" stop-color="#969696"/><stop offset=".6825" stop-color="#666666"/><stop offset=".6875" stop-color="#5e5e5e"/><stop offset=".695" stop-color="#777777"/><stop offset=".7025" stop-color="#959595"/><stop offset=".7088" stop-color="#959595"/><stop offset=".7214" stop-color="#727272"/><stop offset=".7264" stop-color="#707070"/><stop offset=".7414" stop-color="#888888"/><stop offset=".749" stop-color="#868686"/><stop offset=".7615" stop-color="#7b7b7b"/><stop offset=".7816" stop-color="#818181"/><stop offset=".8117" stop-color="#7f7f7f"/><stop offset=".9999" stop-color="#7f7f7f"/></linearGradient><linearGradient id="b11" x2="0" y2="1"><stop offset="0" stop-color="#808080"/><stop offset=".3713" stop-color="#7f7f7f"/><stop offset=".3826" stop-color="#7f7f7f"/><stop offset=".3964" stop-color="#838383"/><stop offset=".4153" stop-color="#777777"/><stop offset=".4228" stop-color="#818181"/><stop offset=".4328" stop-color="#909090"/><stop offset=".4391" stop-color="#888888"/><stop offset=".4504" stop-color="#666666"/><stop offset=".4554" stop-color="#676767"/><stop offset=".4617" stop-color="#818181"/><stop offset=".4692" stop-color="#a5a5a5"/><stop offset=".4742" stop-color="#a5a5a5"/><stop offset=".4792" stop-color="#8c8c8c"/><stop offset=".488" stop-color="#515151"/><stop offset=".493" stop-color="#4c4c4c"/><stop offset=".4981" stop-color="#686868"/><stop offset=".5068" stop-color="#b4b4b4"/><stop offset=".5106" stop-color="#c0c0c0"/><stop offset=".5156" stop-color="#acacac"/><stop offset=".5269" stop-color="#414141"/><stop offset=".5307" stop-color="#383838"/><stop offset=".5357" stop-color="#535353"/><stop offset=".5457" stop-color="#bdbdbd"/><stop offset=".5507" stop-color="#cacaca"/><stop offset=".5558" stop-color="#a9a9a9"/><stop offset=".5645" stop-color="#474747"/><stop offset=".5683" stop-color="#343434"/><stop offset=".5733" stop-color="#434343"/><stop offset=".5846" stop-color="#bbbbbb"/><stop offset=".5884" stop-color="#cbcbcb"/><stop offset=".5934" stop-color="#b8b8b8"/><stop offset=".6047" stop-color="#414141"/><stop offset=".6097" stop-color="#363636"/><stop offset=".6147" stop-color="#585858"/><stop offset=".6235" stop-color="#b7b7b7"/><stop offset=".6285" stop-color="#c8c8c8"/><stop offset=".6335" stop-color="#acacac"/><stop offset=".6436" stop-color="#484848"/><stop offset=".6473" stop-color="#3c3c3c"/><stop offset=".6511" stop-color="#484848"/><stop offset=".6624" stop-color="#acacac"/><stop offset=".6674" stop-color="#bababa"/><stop offset=".6724" stop-color="#a4a4a4"/><stop offset=".6825" stop-color="#585858"/><stop offset=".6875" stop-color="#515151"/><stop offset=".695" stop-color="#767676"/><stop offset=".7025" stop-color="#9f9f9f"/><stop offset=".7088" stop-color="#9e9e9e"/><stop offset=".7214" stop-color="#6c6c6c"/><stop offset=".7276" stop-color="#6b6b6b"/><stop offset=".7402" stop-color="#8a8a8a"/><stop offset=".7477" stop-color="#8a8a8a"/><stop offset=".7615" stop-color="#797979"/><stop offset=".7816" stop-color="#828282"/><stop offset=".8042" stop-color="#7f7f7f"/><stop offset=".9999" stop-color="#7f7f7f"/></linearGradient><linearGradient id="b12" x2="0" y2="1"><stop offset="0" stop-color="#808080"/><stop offset=".3701" stop-color="#7f7f7f"/><stop offset=".3826" stop-color="#7f7f7f"/><stop offset=".3964" stop-color="#838383"/><stop offset=".414" stop-color="#777777"/><stop offset=".4215" stop-color="#7e7e7e"/><stop offset=".4316" stop-color="#919191"/><stop offset=".4378" stop-color="#8c8c8c"/><stop offset=".4504" stop-color="#636363"/><stop offset=".4554" stop-color="#656565"/><stop offset=".4617" stop-color="#818181"/><stop offset=".4692" stop-color="#a9a9a9"/><stop offset=".4742" stop-color="#a9a9a9"/><stop offset=".4792" stop-color="#8e8e8e"/><stop offset=".488" stop-color="#4b4b4b"/><stop offset=".493" stop-color="#464646"/><stop offset=".4981" stop-color="#666666"/><stop offset=".5068" stop-color="#bbbbbb"/><stop offset=".5106" stop-color="#c8c8c8"/><stop offset=".5144" stop-color="#bcbcbc"/><stop offset=".5219" stop-color="#6b6b6b"/><stop offset=".5269" stop-color="#393939"/><stop offset=".5307" stop-color="#2e2e2e"/><stop offset=".5357" stop-color="#4c4c4c"/><stop offset=".5457" stop-color="#c5c5c5"/><stop offset=".5495" stop-color="#d6d6d6"/><stop offset=".5533" stop-color="#c8c8c8"/><stop offset=".5595" stop-color="#7e7e7e"/><stop offset=".5658" stop-color="#353535"/><stop offset=".5696" stop-color="#282828"/><stop offset=".5733" stop-color="#3a3a3a"/><stop offset=".5846" stop-color="#c4c4c4"/><stop offset=".5884" stop-color="#d7d7d7"/><stop offset=".5921" stop-color="#cccccc"/><stop offset=".5984" stop-color="#838383"/><stop offset=".6047" stop-color="#373737"/><stop offset=".6085" stop-color="#282828"/><stop offset=".6122" stop-color="#373737"/><stop offset=".6235" stop-color="#bfbfbf"/><stop offset=".6273" stop-color="#d4d4d4"/><stop offset=".631" stop-color="#cbcbcb"/><stop offset=".6386" stop-color="#777777"/><stop offset=".6448" stop-color="#373737"/><stop offset=".6486" stop-color="#313131"/><stop offset=".6536" stop-color="#535353"/><stop offset=".6624" stop-color="#b3b3b3"/><stop offset=".6674" stop-color="#c5c5c5"/><stop offset=".6724" stop-color="#acacac"/><stop offset=".6812" stop-color="#5b5b5b"/><stop offset=".6862" stop-color="#474747"/><stop offset=".6913" stop-color="#575757"/><stop offset=".7013" stop-color="#9e9e9e"/><stop offset=".7063" stop-color="#a8a8a8"/><stop offset=".7126" stop-color="#949494"/><stop offset=".7214" stop-color="#6a6a6a"/><stop offset=".7264" stop-color="#656565"/><stop offset=".7414" stop-color="#8d8d8d"/><stop offset=".749" stop-color="#8b8b8b"/><stop offset=".7603" stop-color="#7a7a7a"/><stop offset=".7665" stop-color="#797979"/><stop offset=".7803" stop-color="#828282"/><stop offset=".7941" stop-color="#808080"/><stop offset=".9999" stop-color="#7f7f7f"/></linearGradient><linearGradient id="b13" x2="0" y2="1"><stop offset="0" stop-color="#808080"/><stop offset=".3701" stop-color="#7f7f7f"/><stop offset=".3826" stop-color="#7f7f7f"/><stop offset=".3964" stop-color="#838383"/><stop offset=".4027" stop-color="#808080"/><stop offset=".4153" stop-color="#767676"/><stop offset=".4228" stop-color="#808080"/><stop offset=".4328" stop-color="#939393"/><stop offset=".4391" stop-color="#8b8b8b"/><stop offset=".4504" stop-color="#616161"/><stop offset=".4554" stop-color="#616161"/><stop offset=".4617" stop-color="#7f7f7f"/><stop offset=".4705" stop-color="#afafaf"/><stop offset=".4755" stop-color="#aaaaaa"/><stop offset=".4817" stop-color="#7c7c7c"/><stop offset=".4893" stop-color="#424242"/><stop offset=".4943" stop-color="#434343"/><stop offset=".4993" stop-color="#6c6c6c"/><stop offset=".5068" stop-color="#bebebe"/><stop offset=".5119" stop-color="#cfcfcf"/><stop offset=".5169" stop-color="#afafaf"/><stop offset=".5269" stop-color="#353535"/><stop offset=".5307" stop-color="#262626"/><stop offset=".5344" stop-color="#363636"/><stop offset=".542" stop-color="#999999"/><stop offset=".547" stop-color="#d3d3d3"/><stop offset=".5507" stop-color="#dedede"/><stop offset=".5545" stop-color="#c8c8c8"/><stop offset=".5658" stop-color="#313131"/><stop offset=".5696" stop-color="#1e1e1e"/><stop offset=".5733" stop-color="#2e2e2e"/><stop offset=".5859" stop-color="#d2d2d2"/><stop offset=".5896" stop-color="#e1e1e1"/><stop offset=".5934" stop-color="#cdcdcd"/><stop offset=".6047" stop-color="#343434"/><stop offset=".6085" stop-color="#1f1f1f"/><stop offset=".6122" stop-color="#2c2c2c"/><stop offset=".6185" stop-color="#7c7c7c"/><stop offset=".6248" stop-color="#cdcdcd"/><stop offset=".6285" stop-color="#dedede"/><stop offset=".6323" stop-color="#cccccc"/><stop offset=".6436" stop-color="#3d3d3d"/><stop offset=".6486" stop-color="#282828"/><stop offset=".6536" stop-color="#494949"/><stop offset=".6637" stop-color="#bebebe"/><stop offset=".6674" stop-color="#cccccc"/><stop offset=".6724" stop-color="#b6b6b6"/><stop offset=".6825" stop-color="#515151"/><stop offset=".6875" stop-color="#424242"/><stop offset=".6925" stop-color="#585858"/><stop offset=".7013" stop-color="#9e9e9e"/><stop offset=".7063" stop-color="#adadad"/><stop offset=".7126" stop-color="#999999"/><stop offset=".7214" stop-color="#6a6a6a"/><stop offset=".7264" stop-color="#636363"/><stop offset=".7339" stop-color="#767676"/><stop offset=".7414" stop-color="#8d8d8d"/><stop offset=".7477" stop-color="#8e8e8e"/><stop offset=".7615" stop-color="#797979"/><stop offset=".769" stop-color="#7a7a7a"/><stop offset=".7803" stop-color="#828282"/><stop offset=".7916" stop-color="#818181"/><stop offset=".8029" stop-color="#7e7e7e"/><stop offset=".8305" stop-color="#808080"/><stop offset=".9999" stop-color="#7f7f7f"/></linearGradient><linearGradient id="b14" x2="0" y2="1"><stop offset="0" stop-color="#808080"/><stop offset=".3701" stop-color="#7f7f7f"/><stop offset=".3839" stop-color="#7f7f7f"/><stop offset=".3964" stop-color="#848484"/><stop offset=".4052" stop-color="#7e7e7e"/><stop offset=".414" stop-color="#757575"/><stop offset=".4203" stop-color="#7a7a7a"/><stop offset=".4328" stop-color="#949494"/><stop offset=".4391" stop-color="#8d8d8d"/><stop offset=".4516" stop-color="#5d5d5d"/><stop offset=".4567" stop-color="#606060"/><stop offset=".4629" stop-color="#838383"/><stop offset=".4705" stop-color="#b2b2b2"/><stop offset=".4755" stop-color="#b1b1b1"/><stop offset=".4817" stop-color="#828282"/><stop offset=".4893" stop-color="#404040"/><stop offset=".4943" stop-color="#3c3c3c"/><stop offset=".4993" stop-color="#636363"/><stop offset=".5081" stop-color="#c8c8c8"/><stop offset=".5119" stop-color="#d6d6d6"/><stop offset=".5169" stop-color="#b9b9b9"/><stop offset=".5269" stop-color="#343434"/><stop offset=".5307" stop-color="#1f1f1f"/><stop offset=".5344" stop-color="#2b2b2b"/><stop offset=".5407" stop-color="#7d7d7d"/><stop offset=".547" stop-color="#d4d4d4"/><stop offset=".5507" stop-color="#e6e6e6"/><stop offset=".5545" stop-color="#d4d4d4"/><stop offset=".5658" stop-color="#313131"/><stop offset=".5696" stop-color="#181818"/><stop offset=".5733" stop-color="#232323"/><stop offset=".5796" stop-color="#777777"/><stop offset=".5859" stop-color="#d3d3d3"/><stop offset=".5896" stop-color="#e8e8e8"/><stop offset=".5934" stop-color="#d8d8d8"/><stop offset=".5997" stop-color="#808080"/><stop offset=".6059" stop-color="#282828"/><stop offset=".6097" stop-color="#171717"/><stop offset=".6135" stop-color="#2c2c2c"/><stop offset=".6248" stop-color="#cecece"/><stop offset=".6285" stop-color="#e4e4e4"/><stop offset=".6323" stop-color="#d7d7d7"/><stop offset=".6386" stop-color="#868686"/><stop offset=".6448" stop-color="#323232"/><stop offset=".6486" stop-color="#212121"/><stop offset=".6536" stop-color="#3e3e3e"/><stop offset=".6637" stop-color="#bebebe"/><stop offset=".6687" stop-color="#d1d1d1"/><stop offset=".6737" stop-color="#b3b3b3"/><stop offset=".6837" stop-color="#494949"/><stop offset=".6887" stop-color="#3f3f3f"/><stop offset=".695" stop-color="#666666"/><stop offset=".7025" stop-color="#a4a4a4"/><stop offset=".7076" stop-color="#afafaf"/><stop offset=".7138" stop-color="#969696"/><stop offset=".7226" stop-color="#666666"/><stop offset=".7289" stop-color="#636363"/><stop offset=".7414" stop-color="#8d8d8d"/><stop offset=".7477" stop-color="#909090"/><stop offset=".7628" stop-color="#787878"/><stop offset=".7728" stop-color="#7c7c7c"/><stop offset=".7803" stop-color="#828282"/><stop offset=".7916" stop-color="#818181"/><stop offset=".8042" stop-color="#7e7e7e"/><stop offset=".8318" stop-color="#808080"/><stop offset=".9999" stop-color="#7f7f7f"/></linearGradient><linearGradient id="b15" x2="0" y2="1"><stop offset="0" stop-color="#808080"/><stop offset=".3701" stop-color="#7f7f7f"/><stop offset=".3839" stop-color="#7f7f7f"/><stop offset=".3964" stop-color="#848484"/><stop offset=".404" stop-color="#808080"/><stop offset=".4153" stop-color="#747474"/><stop offset=".4215" stop-color="#7a7a7a"/><stop offset=".4328" stop-color="#959595"/><stop offset=".4391" stop-color="#909090"/><stop offset=".4516" stop-color="#5c5c5c"/><stop offset=".4567" stop-color="#5c5c5c"/><stop offset=".4629" stop-color="#7f7f7f"/><stop offset=".4705" stop-color="#b2b2b2"/><stop offset=".4755" stop-color="#b6b6b6"/><stop offset=".4805" stop-color="#959595"/><stop offset=".4893" stop-color="#404040"/><stop offset=".4943" stop-color="#353535"/><stop offset=".4993" stop-color="#5a5a5a"/><stop offset=".5081" stop-color="#c7c7c7"/><stop offset=".5131" stop-color="#dbdbdb"/><stop offset=".5181" stop-color="#b6b6b6"/><stop offset=".5282" stop-color="#2a2a2a"/><stop offset=".5319" stop-color="#191919"/><stop offset=".5357" stop-color="#2c2c2c"/><stop offset=".547" stop-color="#d2d2d2"/><stop offset=".5507" stop-color="#ebebeb"/><stop offset=".5545" stop-color="#dedede"/><stop offset=".5608" stop-color="#858585"/><stop offset=".5671" stop-color="#262626"/><stop offset=".5708" stop-color="#111111"/><stop offset=".5746" stop-color="#242424"/><stop offset=".5821" stop-color="#979797"/><stop offset=".5871" stop-color="#dedede"/><stop offset=".5909" stop-color="#eeeeee"/><stop offset=".5947" stop-color="#d7d7d7"/><stop offset=".6059" stop-color="#2a2a2a"/><stop offset=".6097" stop-color="#121212"/><stop offset=".6135" stop-color="#212121"/><stop offset=".6197" stop-color="#7b7b7b"/><stop offset=".626" stop-color="#d8d8d8"/><stop offset=".6298" stop-color="#eaeaea"/><stop offset=".6348" stop-color="#c9c9c9"/><stop offset=".6448" stop-color="#343434"/><stop offset=".6486" stop-color="#1d1d1d"/><stop offset=".6524" stop-color="#292929"/><stop offset=".6599" stop-color="#898989"/><stop offset=".6649" stop-color="#c6c6c6"/><stop offset=".6687" stop-color="#d6d6d6"/><stop offset=".6737" stop-color="#bcbcbc"/><stop offset=".6837" stop-color="#4c4c4c"/><stop offset=".6887" stop-color="#3b3b3b"/><stop offset=".6938" stop-color="#545454"/><stop offset=".7025" stop-color="#a1a1a1"/><stop offset=".7076" stop-color="#b2b2b2"/><stop offset=".7138" stop-color="#9b9b9b"/><stop offset=".7226" stop-color="#676767"/><stop offset=".7289" stop-color="#616161"/><stop offset=".7427" stop-color="#8e8e8e"/><stop offset=".749" stop-color="#909090"/><stop offset=".7615" stop-color="#797979"/><stop offset=".7703" stop-color="#797979"/><stop offset=".7828" stop-color="#838383"/><stop offset=".8054" stop-color="#7e7e7e"/><stop offset=".8305" stop-color="#808080"/><stop offset=".9999" stop-color="#7f7f7f"/></linearGradient><linearGradient id="b16" x2="0" y2="1"><stop offset="0" stop-color="#808080"/><stop offset=".3701" stop-color="#7f7f7f"/><stop offset=".3851" stop-color="#7f7f7f"/><stop offset=".3977" stop-color="#858585"/><stop offset=".4077" stop-color="#7c7c7c"/><stop offset=".4165" stop-color="#737373"/><stop offset=".4228" stop-color="#7b7b7b"/><stop offset=".4341" stop-color="#979797"/><stop offset=".4403" stop-color="#909090"/><stop offset=".4529" stop-color="#595959"/><stop offset=".4579" stop-color="#5c5c5c"/><stop offset=".4654" stop-color="#8d8d8d"/><stop offset=".4717" stop-color="#b7b7b7"/><stop offset=".4767" stop-color="#b7b7b7"/><stop offset=".483" stop-color="#848484"/><stop offset=".4905" stop-color="#393939"/><stop offset=".4955" stop-color="#343434"/><stop offset=".5006" stop-color="#5f5f5f"/><stop offset=".5093" stop-color="#cfcfcf"/><stop offset=".5144" stop-color="#dddddd"/><stop offset=".5194" stop-color="#b1b1b1"/><stop offset=".5282" stop-color="#2e2e2e"/><stop offset=".5319" stop-color="#161616"/><stop offset=".5357" stop-color="#222222"/><stop offset=".542" stop-color="#7b7b7b"/><stop offset=".5482" stop-color="#dbdbdb"/><stop offset=".552" stop-color="#f0f0f0"/><stop offset=".5558" stop-color="#dddddd"/><stop offset=".562" stop-color="#7c7c7c"/><stop offset=".5683" stop-color="#1d1d1d"/><stop offset=".5721" stop-color="#0e0e0e"/><stop offset=".5758" stop-color="#262626"/><stop offset=".5871" stop-color="#dadada"/><stop offset=".5909" stop-color="#f2f2f2"/><stop offset=".5947" stop-color="#e1e1e1"/><stop offset=".5997" stop-color="#999999"/><stop offset=".6059" stop-color="#2f2f2f"/><stop offset=".6097" stop-color="#101010"/><stop offset=".6135" stop-color="#181818"/><stop offset=".6185" stop-color="#585858"/><stop offset=".626" stop-color="#d3d3d3"/><stop offset=".6298" stop-color="#ededed"/><stop offset=".6335" stop-color="#e0e0e0"/><stop offset=".6398" stop-color="#888888"/><stop offset=".6461" stop-color="#2c2c2c"/><stop offset=".6511" stop-color="#1b1b1b"/><stop offset=".6561" stop-color="#474747"/><stop offset=".6649" stop-color="#c1c1c1"/><stop offset=".6687" stop-color="#d8d8d8"/><stop offset=".6737" stop-color="#c4c4c4"/><stop offset=".685" stop-color="#464646"/><stop offset=".69" stop-color="#3a3a3a"/><stop offset=".695" stop-color="#575757"/><stop offset=".7038" stop-color="#a5a5a5"/><stop offset=".7088" stop-color="#b2b2b2"/><stop offset=".7151" stop-color="#989898"/><stop offset=".7239" stop-color="#656565"/><stop offset=".7289" stop-color="#606060"/><stop offset=".7439" stop-color="#8f8f8f"/><stop offset=".7502" stop-color="#8f8f8f"/><stop offset=".7628" stop-color="#797979"/><stop offset=".7703" stop-color="#797979"/><stop offset=".7816" stop-color="#828282"/><stop offset=".7904" stop-color="#828282"/><stop offset=".8067" stop-color="#7e7e7e"/><stop offset=".8318" stop-color="#808080"/><stop offset=".9999" stop-color="#7f7f7f"/></linearGradient><linearGradient id="b17" x2="0" y2="1"><stop offset="0" stop-color="#808080"/><stop offset=".3713" stop-color="#7f7f7f"/><stop offset=".3851" stop-color="#7f7f7f"/><stop offset=".3989" stop-color="#858585"/><stop offset=".4077" stop-color="#7d7d7d"/><stop offset=".4165" stop-color="#737373"/><stop offset=".4228" stop-color="#797979"/><stop offset=".4353" stop-color="#999999"/><stop offset=".4416" stop-color="#8f8f8f"/><stop offset=".4529" stop-color="#595959"/><stop offset=".4579" stop-color="#585858"/><stop offset=".4629" stop-color="#737373"/><stop offset=".4717" stop-color="#b6b6b6"/><stop offset=".4767" stop-color="#bcbcbc"/><stop offset=".4817" stop-color="#9a9a9a"/><stop offset=".4905" stop-color="#3c3c3c"/><stop offset=".4955" stop-color="#2e2e2e"/><stop offset=".5006" stop-color="#545454"/><stop offset=".5106" stop-color="#d5d5d5"/><stop offset=".5156" stop-color="#dedede"/><stop offset=".5206" stop-color="#acacac"/><stop offset=".5294" stop-color="#272727"/><stop offset=".5332" stop-color="#121212"/><stop offset=".5369" stop-color="#242424"/><stop offset=".5432" stop-color="#838383"/><stop offset=".5495" stop-color="#e2e2e2"/><stop offset=".5533" stop-color="#f3f3f3"/><stop offset=".557" stop-color="#dadada"/><stop offset=".5683" stop-color="#232323"/><stop offset=".5721" stop-color="#0b0b0b"/><stop offset=".5758" stop-color="#1b1b1b"/><stop offset=".5821" stop-color="#7d7d7d"/><stop offset=".5884" stop-color="#e1e1e1"/><stop offset=".5921" stop-color="#f5f5f5"/><stop offset=".5959" stop-color="#dfdfdf"/><stop offset=".6072" stop-color="#282828"/><stop offset=".611" stop-color="#0c0c0c"/><stop offset=".6147" stop-color="#191919"/><stop offset=".6197" stop-color="#5f5f5f"/><stop offset=".6273" stop-color="#dadada"/><stop offset=".631" stop-color="#f0f0f0"/><stop offset=".6348" stop-color="#dedede"/><stop offset=".6461" stop-color="#333333"/><stop offset=".6499" stop-color="#181818"/><stop offset=".6549" stop-color="#2d2d2d"/><stop offset=".6662" stop-color="#c7c7c7"/><stop offset=".6712" stop-color="#d9d9d9"/><stop offset=".6762" stop-color="#b4b4b4"/><stop offset=".685" stop-color="#4c4c4c"/><stop offset=".69" stop-color="#383838"/><stop offset=".695" stop-color="#505050"/><stop offset=".7051" stop-color="#a8a8a8"/><stop offset=".7101" stop-color="#b2b2b2"/><stop offset=".7163" stop-color="#969696"/><stop offset=".7239" stop-color="#686868"/><stop offset=".7289" stop-color="#5f5f5f"/><stop offset=".7364" stop-color="#747474"/><stop offset=".7439" stop-color="#8e8e8e"/><stop offset=".7502" stop-color="#909090"/><stop offset=".764" stop-color="#787878"/><stop offset=".7728" stop-color="#7a7a7a"/><stop offset=".7841" stop-color="#838383"/><stop offset=".8067" stop-color="#7e7e7e"/><stop offset=".8318" stop-color="#808080"/><stop offset=".9999" stop-color="#7f7f7f"/></linearGradient><linearGradient id="b18" x2="0" y2="1"><stop offset="0" stop-color="#808080"/><stop offset=".3713" stop-color="#7f7f7f"/><stop offset=".3801" stop-color="#7d7d7d"/><stop offset=".3989" stop-color="#858585"/><stop offset=".4065" stop-color="#808080"/><stop offset=".4165" stop-color="#727272"/><stop offset=".4228" stop-color="#777777"/><stop offset=".4353" stop-color="#999999"/><stop offset=".4403" stop-color="#969696"/><stop offset=".4479" stop-color="#747474"/><stop offset=".4554" stop-color="#545454"/><stop offset=".4604" stop-color="#5d5d5d"/><stop offset=".4679" stop-color="#969696"/><stop offset=".4742" stop-color="#bebebe"/><stop offset=".4792" stop-color="#b6b6b6"/><stop offset=".4855" stop-color="#797979"/><stop offset=".493" stop-color="#313131"/><stop offset=".4968" stop-color="#2e2e2e"/><stop offset=".5018" stop-color="#585858"/><stop offset=".5106" stop-color="#cfcfcf"/><stop offset=".5144" stop-color="#e4e4e4"/><stop offset=".5181" stop-color="#d5d5d5"/><stop offset=".5257" stop-color="#686868"/><stop offset=".5307" stop-color="#222222"/><stop offset=".5344" stop-color="#101010"/><stop offset=".5395" stop-color="#363636"/><stop offset=".5495" stop-color="#dadada"/><stop offset=".5533" stop-color="#f4f4f4"/><stop offset=".557" stop-color="#e4e4e4"/><stop offset=".5633" stop-color="#838383"/><stop offset=".5696" stop-color="#1e1e1e"/><stop offset=".5733" stop-color="#090909"/><stop offset=".5771" stop-color="#1e1e1e"/><stop offset=".5846" stop-color="#9c9c9c"/><stop offset=".5896" stop-color="#e6e6e6"/><stop offset=".5934" stop-color="#f6f6f6"/><stop offset=".5972" stop-color="#dcdcdc"/><stop offset=".6085" stop-color="#222222"/><stop offset=".6122" stop-color="#0a0a0a"/><stop offset=".616" stop-color="#1c1c1c"/><stop offset=".6223" stop-color="#7e7e7e"/><stop offset=".6285" stop-color="#dfdfdf"/><stop offset=".6323" stop-color="#f1f1f1"/><stop offset=".6373" stop-color="#cbcbcb"/><stop offset=".6473" stop-color="#2e2e2e"/><stop offset=".6511" stop-color="#171717"/><stop offset=".6549" stop-color="#252525"/><stop offset=".6624" stop-color="#8c8c8c"/><stop offset=".6674" stop-color="#cbcbcb"/><stop offset=".6712" stop-color="#dadada"/><stop offset=".6762" stop-color="#bdbdbd"/><stop offset=".6862" stop-color="#484848"/><stop offset=".6913" stop-color="#383838"/><stop offset=".6963" stop-color="#535353"/><stop offset=".7051" stop-color="#a3a3a3"/><stop offset=".7101" stop-color="#b3b3b3"/><stop offset=".7163" stop-color="#9b9b9b"/><stop offset=".7251" stop-color="#676767"/><stop offset=".7301" stop-color="#606060"/><stop offset=".7452" stop-color="#8e8e8e"/><stop offset=".7515" stop-color="#8f8f8f"/><stop offset=".764" stop-color="#797979"/><stop offset=".7715" stop-color="#797979"/><stop offset=".7841" stop-color="#828282"/><stop offset=".7954" stop-color="#818181"/><stop offset=".8054" stop-color="#7f7f7f"/><stop offset=".9999" stop-color="#7f7f7f"/></linearGradient><linearGradient id="b19" x2="0" y2="1"><stop offset="0" stop-color="#808080"/><stop offset=".3726" stop-color="#7f7f7f"/><stop offset=".3814" stop-color="#7d7d7d"/><stop offset=".4002" stop-color="#858585"/><stop offset=".409" stop-color="#7d7d7d"/><stop offset=".419" stop-color="#727272"/><stop offset=".4253" stop-color="#7b7b7b"/><stop offset=".4366" stop-color="#999999"/><stop offset=".4416" stop-color="#959595"/><stop offset=".4554" stop-color="#565656"/><stop offset=".4604" stop-color="#5a5a5a"/><stop offset=".4667" stop-color="#848484"/><stop offset=".4742" stop-color="#bbbbbb"/><stop offset=".4792" stop-color="#bababa"/><stop offset=".4855" stop-color="#838383"/><stop offset=".493" stop-color="#363636"/><stop offset=".4968" stop-color="#2d2d2d"/><stop offset=".5006" stop-color="#424242"/><stop offset=".5119" stop-color="#d2d2d2"/><stop offset=".5169" stop-color="#e1e1e1"/><stop offset=".5219" stop-color="#b2b2b2"/><stop offset=".5307" stop-color="#2b2b2b"/><stop offset=".5344" stop-color="#121212"/><stop offset=".5382" stop-color="#1f1f1f"/><stop offset=".5445" stop-color="#7b7b7b"/><stop offset=".5507" stop-color="#dedede"/><stop offset=".5545" stop-color="#f3f3f3"/><stop offset=".5583" stop-color="#dfdfdf"/><stop offset=".5658" stop-color="#646464"/><stop offset=".5708" stop-color="#1a1a1a"/><stop offset=".5746" stop-color="#0a0a0a"/><stop offset=".5796" stop-color="#343434"/><stop offset=".5896" stop-color="#dddddd"/><stop offset=".5934" stop-color="#f5f5f5"/><stop offset=".5972" stop-color="#e4e4e4"/><stop offset=".6034" stop-color="#828282"/><stop offset=".6097" stop-color="#1e1e1e"/><stop offset=".6135" stop-color="#0b0b0b"/><stop offset=".6172" stop-color="#212121"/><stop offset=".6285" stop-color="#d6d6d6"/><stop offset=".6335" stop-color="#f0f0f0"/><stop offset=".6386" stop-color="#c5c5c5"/><stop offset=".6486" stop-color="#2a2a2a"/><stop offset=".6536" stop-color="#191919"/><stop offset=".6586" stop-color="#474747"/><stop offset=".6674" stop-color="#c3c3c3"/><stop offset=".6724" stop-color="#d9d9d9"/><stop offset=".6775" stop-color="#b8b8b8"/><stop offset=".6862" stop-color="#505050"/><stop offset=".6913" stop-color="#383838"/><stop offset=".6963" stop-color="#4d4d4d"/><stop offset=".7063" stop-color="#a5a5a5"/><stop offset=".7113" stop-color="#b2b2b2"/><stop offset=".7176" stop-color="#989898"/><stop offset=".7264" stop-color="#656565"/><stop offset=".7327" stop-color="#626262"/><stop offset=".7452" stop-color="#8d8d8d"/><stop offset=".7515" stop-color="#909090"/><stop offset=".7665" stop-color="#787878"/><stop offset=".7766" stop-color="#7c7c7c"/><stop offset=".7841" stop-color="#828282"/><stop offset=".7954" stop-color="#818181"/><stop offset=".8092" stop-color="#7f7f7f"/><stop offset=".9999" stop-color="#7f7f7f"/></linearGradient><linearGradient id="b20" x2="0" y2="1"><stop offset="0" stop-color="#808080"/><stop offset=".3739" stop-color="#7f7f7f"/><stop offset=".3851" stop-color="#7e7e7e"/><stop offset=".4015" stop-color="#858585"/><stop offset=".4102" stop-color="#7d7d7d"/><stop offset=".419" stop-color="#737373"/><stop offset=".424" stop-color="#767676"/><stop offset=".4378" stop-color="#999999"/><stop offset=".4441" stop-color="#8f8f8f"/><stop offset=".4567" stop-color="#565656"/><stop offset=".4617" stop-color="#5c5c5c"/><stop offset=".4692" stop-color="#919191"/><stop offset=".4755" stop-color="#bababa"/><stop offset=".4805" stop-color="#b7b7b7"/><stop offset=".4868" stop-color="#7f7f7f"/><stop offset=".4943" stop-color="#353535"/><stop offset=".4993" stop-color="#333333"/><stop offset=".5043" stop-color="#636363"/><stop offset=".5131" stop-color="#d4d4d4"/><stop offset=".5181" stop-color="#dedede"/><stop offset=".5231" stop-color="#acacac"/><stop offset=".5319" stop-color="#292929"/><stop offset=".5357" stop-color="#131313"/><stop offset=".5395" stop-color="#242424"/><stop offset=".5457" stop-color="#828282"/><stop offset=".552" stop-color="#e0e0e0"/><stop offset=".5558" stop-color="#f1f1f1"/><stop offset=".5595" stop-color="#dadada"/><stop offset=".5708" stop-color="#252525"/><stop offset=".5746" stop-color="#0c0c0c"/><stop offset=".5783" stop-color="#1c1c1c"/><stop offset=".5846" stop-color="#7b7b7b"/><stop offset=".5909" stop-color="#dfdfdf"/><stop offset=".5947" stop-color="#f3f3f3"/><stop offset=".5984" stop-color="#dfdfdf"/><stop offset=".6047" stop-color="#7b7b7b"/><stop offset=".611" stop-color="#1c1c1c"/><stop offset=".6147" stop-color="#0d0d0d"/><stop offset=".6197" stop-color="#363636"/><stop offset=".6298" stop-color="#d8d8d8"/><stop offset=".6335" stop-color="#eeeeee"/><stop offset=".6373" stop-color="#dddddd"/><stop offset=".6448" stop-color="#6c6c6c"/><stop offset=".6499" stop-color="#282828"/><stop offset=".6536" stop-color="#191919"/><stop offset=".6586" stop-color="#3c3c3c"/><stop offset=".6687" stop-color="#c5c5c5"/><stop offset=".6737" stop-color="#d7d7d7"/><stop offset=".6787" stop-color="#b4b4b4"/><stop offset=".6875" stop-color="#4d4d4d"/><stop offset=".6925" stop-color="#393939"/><stop offset=".6975" stop-color="#505050"/><stop offset=".7076" stop-color="#a7a7a7"/><stop offset=".7126" stop-color="#b1b1b1"/><stop offset=".7201" stop-color="#8d8d8d"/><stop offset=".7276" stop-color="#656565"/><stop offset=".7327" stop-color="#616161"/><stop offset=".7465" stop-color="#8d8d8d"/><stop offset=".7527" stop-color="#909090"/><stop offset=".7653" stop-color="#7a7a7a"/><stop offset=".7715" stop-color="#787878"/><stop offset=".7879" stop-color="#838383"/><stop offset=".8067" stop-color="#7f7f7f"/><stop offset=".9999" stop-color="#7f7f7f"/></linearGradient><linearGradient id="b21" x2="0" y2="1"><stop offset="0" stop-color="#808080"/><stop offset=".3751" stop-color="#7f7f7f"/><stop offset=".3889" stop-color="#7f7f7f"/><stop offset=".4027" stop-color="#858585"/><stop offset=".4115" stop-color="#7d7d7d"/><stop offset=".4203" stop-color="#737373"/><stop offset=".4265" stop-color="#797979"/><stop offset=".4391" stop-color="#989898"/><stop offset=".4441" stop-color="#939393"/><stop offset=".4579" stop-color="#575757"/><stop offset=".4629" stop-color="#5d5d5d"/><stop offset=".4705" stop-color="#929292"/><stop offset=".4767" stop-color="#bababa"/><stop offset=".4817" stop-color="#b6b6b6"/><stop offset=".488" stop-color="#7e7e7e"/><stop offset=".4955" stop-color="#363636"/><stop offset=".5006" stop-color="#353535"/><stop offset=".5056" stop-color="#656565"/><stop offset=".5144" stop-color="#d3d3d3"/><stop offset=".5181" stop-color="#dfdfdf"/><stop offset=".5231" stop-color="#bbbbbb"/><stop offset=".5332" stop-color="#292929"/><stop offset=".5369" stop-color="#151515"/><stop offset=".542" stop-color="#343434"/><stop offset=".552" stop-color="#d2d2d2"/><stop offset=".5558" stop-color="#eeeeee"/><stop offset=".5595" stop-color="#e3e3e3"/><stop offset=".5645" stop-color="#a0a0a0"/><stop offset=".5721" stop-color="#262626"/><stop offset=".5758" stop-color="#0e0e0e"/><stop offset=".5796" stop-color="#1e1e1e"/><stop offset=".5859" stop-color="#7d7d7d"/><stop offset=".5921" stop-color="#dedede"/><stop offset=".5959" stop-color="#f1f1f1"/><stop offset=".5997" stop-color="#dcdcdc"/><stop offset=".6072" stop-color="#636363"/><stop offset=".6122" stop-color="#1d1d1d"/><stop offset=".616" stop-color="#0f0f0f"/><stop offset=".6197" stop-color="#292929"/><stop offset=".631" stop-color="#d7d7d7"/><stop offset=".6348" stop-color="#ececec"/><stop offset=".6386" stop-color="#dbdbdb"/><stop offset=".6461" stop-color="#6b6b6b"/><stop offset=".6511" stop-color="#292929"/><stop offset=".6549" stop-color="#1b1b1b"/><stop offset=".6599" stop-color="#3e3e3e"/><stop offset=".6699" stop-color="#c4c4c4"/><stop offset=".6737" stop-color="#d6d6d6"/><stop offset=".6787" stop-color="#bfbfbf"/><stop offset=".6887" stop-color="#4e4e4e"/><stop offset=".6938" stop-color="#3b3b3b"/><stop offset=".6988" stop-color="#525252"/><stop offset=".7076" stop-color="#9f9f9f"/><stop offset=".7126" stop-color="#b1b1b1"/><stop offset=".7189" stop-color="#9c9c9c"/><stop offset=".7276" stop-color="#696969"/><stop offset=".7327" stop-color="#616161"/><stop offset=".7389" stop-color="#707070"/><stop offset=".7477" stop-color="#8d8d8d"/><stop offset=".754" stop-color="#8f8f8f"/><stop offset=".7678" stop-color="#797979"/><stop offset=".7753" stop-color="#7a7a7a"/><stop offset=".7879" stop-color="#828282"/><stop offset=".8017" stop-color="#808080"/><stop offset=".9999" stop-color="#7f7f7f"/></linearGradient><linearGradient id="b22" x2="0" y2="1"><stop offset="0" stop-color="#808080"/><stop offset=".3764" stop-color="#7f7f7f"/><stop offset=".3877" stop-color="#7e7e7e"/><stop offset=".404" stop-color="#858585"/><stop offset=".4127" stop-color="#7d7d7d"/><stop offset=".4215" stop-color="#737373"/><stop offset=".4265" stop-color="#767676"/><stop offset=".4403" stop-color="#989898"/><stop offset=".4454" stop-color="#939393"/><stop offset=".4529" stop-color="#717171"/><stop offset=".4604" stop-color="#565656"/><stop offset=".4654" stop-color="#626262"/><stop offset=".478" stop-color="#b8b8b8"/><stop offset=".483" stop-color="#b6b6b6"/><stop offset=".4893" stop-color="#818181"/><stop offset=".4968" stop-color="#393939"/><stop offset=".5018" stop-color="#353535"/><stop offset=".5068" stop-color="#626262"/><stop offset=".5156" stop-color="#cfcfcf"/><stop offset=".5206" stop-color="#dbdbdb"/><stop offset=".5257" stop-color="#adadad"/><stop offset=".5344" stop-color="#2e2e2e"/><stop offset=".5382" stop-color="#181818"/><stop offset=".542" stop-color="#262626"/><stop offset=".5482" stop-color="#7f7f7f"/><stop offset=".5545" stop-color="#dbdbdb"/><stop offset=".5583" stop-color="#ececec"/><stop offset=".562" stop-color="#d8d8d8"/><stop offset=".5733" stop-color="#2b2b2b"/><stop offset=".5771" stop-color="#111111"/><stop offset=".5809" stop-color="#1f1f1f"/><stop offset=".5859" stop-color="#636363"/><stop offset=".5934" stop-color="#d9d9d9"/><stop offset=".5972" stop-color="#eeeeee"/><stop offset=".6009" stop-color="#dcdcdc"/><stop offset=".6072" stop-color="#7e7e7e"/><stop offset=".6135" stop-color="#222222"/><stop offset=".6172" stop-color="#121212"/><stop offset=".621" stop-color="#282828"/><stop offset=".6323" stop-color="#d3d3d3"/><stop offset=".6361" stop-color="#e9e9e9"/><stop offset=".6398" stop-color="#dbdbdb"/><stop offset=".6473" stop-color="#707070"/><stop offset=".6524" stop-color="#2e2e2e"/><stop offset=".6561" stop-color="#1e1e1e"/><stop offset=".6611" stop-color="#3d3d3d"/><stop offset=".6712" stop-color="#c0c0c0"/><stop offset=".6762" stop-color="#d3d3d3"/><stop offset=".6812" stop-color="#b3b3b3"/><stop offset=".69" stop-color="#515151"/><stop offset=".695" stop-color="#3d3d3d"/><stop offset=".7" stop-color="#525252"/><stop offset=".7101" stop-color="#a4a4a4"/><stop offset=".7151" stop-color="#aeaeae"/><stop offset=".7214" stop-color="#959595"/><stop offset=".7289" stop-color="#6b6b6b"/><stop offset=".7339" stop-color="#626262"/><stop offset=".7414" stop-color="#747474"/><stop offset=".749" stop-color="#8c8c8c"/><stop offset=".7552" stop-color="#8f8f8f"/><stop offset=".7703" stop-color="#787878"/><stop offset=".7816" stop-color="#7e7e7e"/><stop offset=".7904" stop-color="#828282"/><stop offset=".8129" stop-color="#7f7f7f"/><stop offset=".9999" stop-color="#7f7f7f"/></linearGradient><linearGradient id="b23" x2="0" y2="1"><stop offset="0" stop-color="#808080"/><stop offset=".3776" stop-color="#7f7f7f"/><stop offset=".3927" stop-color="#7f7f7f"/><stop offset=".4065" stop-color="#858585"/><stop offset=".4165" stop-color="#7a7a7a"/><stop offset=".4253" stop-color="#737373"/><stop offset=".4328" stop-color="#818181"/><stop offset=".4416" stop-color="#979797"/><stop offset=".4466" stop-color="#949494"/><stop offset=".4541" stop-color="#747474"/><stop offset=".4604" stop-color="#595959"/><stop offset=".4654" stop-color="#5c5c5c"/><stop offset=".4717" stop-color="#818181"/><stop offset=".4792" stop-color="#b5b5b5"/><stop offset=".4843" stop-color="#b6b6b6"/><stop offset=".4905" stop-color="#868686"/><stop offset=".4981" stop-color="#3d3d3d"/><stop offset=".5031" stop-color="#363636"/><stop offset=".5081" stop-color="#5e5e5e"/><stop offset=".5169" stop-color="#c9c9c9"/><stop offset=".5219" stop-color="#d9d9d9"/><stop offset=".5269" stop-color="#b1b1b1"/><stop offset=".5369" stop-color="#292929"/><stop offset=".5407" stop-color="#1b1b1b"/><stop offset=".5445" stop-color="#313131"/><stop offset=".5558" stop-color="#d3d3d3"/><stop offset=".5595" stop-color="#e9e9e9"/><stop offset=".5633" stop-color="#d9d9d9"/><stop offset=".5696" stop-color="#808080"/><stop offset=".5758" stop-color="#262626"/><stop offset=".5796" stop-color="#151515"/><stop offset=".5834" stop-color="#2a2a2a"/><stop offset=".5947" stop-color="#d1d1d1"/><stop offset=".5984" stop-color="#eaeaea"/><stop offset=".6022" stop-color="#dddddd"/><stop offset=".6085" stop-color="#868686"/><stop offset=".6147" stop-color="#292929"/><stop offset=".6185" stop-color="#161616"/><stop offset=".6223" stop-color="#272727"/><stop offset=".6298" stop-color="#969696"/><stop offset=".6348" stop-color="#d7d7d7"/><stop offset=".6386" stop-color="#e5e5e5"/><stop offset=".6436" stop-color="#c1c1c1"/><stop offset=".6536" stop-color="#353535"/><stop offset=".6574" stop-color="#222222"/><stop offset=".6624" stop-color="#3b3b3b"/><stop offset=".6724" stop-color="#bababa"/><stop offset=".6775" stop-color="#d0d0d0"/><stop offset=".6825" stop-color="#b5b5b5"/><stop offset=".6925" stop-color="#4d4d4d"/><stop offset=".6975" stop-color="#414141"/><stop offset=".7025" stop-color="#5a5a5a"/><stop offset=".7113" stop-color="#a0a0a0"/><stop offset=".7163" stop-color="#adadad"/><stop offset=".7226" stop-color="#979797"/><stop offset=".7314" stop-color="#696969"/><stop offset=".7377" stop-color="#656565"/><stop offset=".7515" stop-color="#8d8d8d"/><stop offset=".7577" stop-color="#8d8d8d"/><stop offset=".7703" stop-color="#7a7a7a"/><stop offset=".7766" stop-color="#797979"/><stop offset=".7916" stop-color="#828282"/><stop offset=".8142" stop-color="#7f7f7f"/><stop offset=".9999" stop-color="#808080"/></linearGradient><linearGradient id="b24" x2="0" y2="1"><stop offset="0" stop-color="#808080"/><stop offset=".3801" stop-color="#7f7f7f"/><stop offset=".3939" stop-color="#7f7f7f"/><stop offset=".4077" stop-color="#848484"/><stop offset=".419" stop-color="#7a7a7a"/><stop offset=".4278" stop-color="#757575"/><stop offset=".4366" stop-color="#868686"/><stop offset=".4441" stop-color="#949494"/><stop offset=".4491" stop-color="#909090"/><stop offset=".4617" stop-color="#5f5f5f"/><stop offset=".4667" stop-color="#5e5e5e"/><stop offset=".473" stop-color="#7e7e7e"/><stop offset=".4805" stop-color="#aeaeae"/><stop offset=".4855" stop-color="#b2b2b2"/><stop offset=".4918" stop-color="#8a8a8a"/><stop offset=".4993" stop-color="#464646"/><stop offset=".5043" stop-color="#3b3b3b"/><stop offset=".5093" stop-color="#5c5c5c"/><stop offset=".5194" stop-color="#c9c9c9"/><stop offset=".5231" stop-color="#d3d3d3"/><stop offset=".5282" stop-color="#b3b3b3"/><stop offset=".5382" stop-color="#343434"/><stop offset=".542" stop-color="#232323"/><stop offset=".5457" stop-color="#333333"/><stop offset=".552" stop-color="#848484"/><stop offset=".5583" stop-color="#d4d4d4"/><stop offset=".562" stop-color="#e1e1e1"/><stop offset=".5671" stop-color="#bebebe"/><stop offset=".5771" stop-color="#313131"/><stop offset=".5809" stop-color="#1d1d1d"/><stop offset=".5846" stop-color="#2b2b2b"/><stop offset=".5921" stop-color="#929292"/><stop offset=".5972" stop-color="#d3d3d3"/><stop offset=".6009" stop-color="#e3e3e3"/><stop offset=".6047" stop-color="#d0d0d0"/><stop offset=".616" stop-color="#343434"/><stop offset=".6197" stop-color="#1e1e1e"/><stop offset=".6235" stop-color="#2a2a2a"/><stop offset=".6298" stop-color="#797979"/><stop offset=".6361" stop-color="#cdcdcd"/><stop offset=".6398" stop-color="#dedede"/><stop offset=".6436" stop-color="#cecece"/><stop offset=".6549" stop-color="#3f3f3f"/><stop offset=".6599" stop-color="#282828"/><stop offset=".6649" stop-color="#484848"/><stop offset=".6749" stop-color="#bcbcbc"/><stop offset=".6787" stop-color="#cbcbcb"/><stop offset=".6837" stop-color="#b5b5b5"/><stop offset=".6938" stop-color="#545454"/><stop offset=".6988" stop-color="#454545"/><stop offset=".7038" stop-color="#595959"/><stop offset=".7138" stop-color="#a1a1a1"/><stop offset=".7189" stop-color="#a8a8a8"/><stop offset=".7264" stop-color="#8a8a8a"/><stop offset=".7339" stop-color="#696969"/><stop offset=".7402" stop-color="#696969"/><stop offset=".7527" stop-color="#8b8b8b"/><stop offset=".7603" stop-color="#8b8b8b"/><stop offset=".7715" stop-color="#7b7b7b"/><stop offset=".7791" stop-color="#7a7a7a"/><stop offset=".7929" stop-color="#828282"/><stop offset=".8167" stop-color="#7f7f7f"/><stop offset=".9999" stop-color="#808080"/></linearGradient><linearGradient id="b25" x2="0" y2="1"><stop offset="0" stop-color="#808080"/><stop offset=".3864" stop-color="#7f7f7f"/><stop offset=".3964" stop-color="#7f7f7f"/><stop offset=".4102" stop-color="#838383"/><stop offset=".4291" stop-color="#777777"/><stop offset=".4366" stop-color="#808080"/><stop offset=".4454" stop-color="#909090"/><stop offset=".4516" stop-color="#8c8c8c"/><stop offset=".4654" stop-color="#626262"/><stop offset=".4717" stop-color="#6d6d6d"/><stop offset=".483" stop-color="#a8a8a8"/><stop offset=".488" stop-color="#aaaaaa"/><stop offset=".493" stop-color="#8f8f8f"/><stop offset=".5018" stop-color="#4b4b4b"/><stop offset=".5068" stop-color="#454545"/><stop offset=".5119" stop-color="#646464"/><stop offset=".5206" stop-color="#bbbbbb"/><stop offset=".5257" stop-color="#c8c8c8"/><stop offset=".5294" stop-color="#b4b4b4"/><stop offset=".5407" stop-color="#393939"/><stop offset=".5457" stop-color="#2f2f2f"/><stop offset=".5507" stop-color="#585858"/><stop offset=".5595" stop-color="#c4c4c4"/><stop offset=".5633" stop-color="#d7d7d7"/><stop offset=".5671" stop-color="#cacaca"/><stop offset=".5733" stop-color="#818181"/><stop offset=".5796" stop-color="#353535"/><stop offset=".5834" stop-color="#262626"/><stop offset=".5871" stop-color="#373737"/><stop offset=".5984" stop-color="#c3c3c3"/><stop offset=".6022" stop-color="#d8d8d8"/><stop offset=".6059" stop-color="#cecece"/><stop offset=".6122" stop-color="#868686"/><stop offset=".6185" stop-color="#383838"/><stop offset=".6223" stop-color="#272727"/><stop offset=".626" stop-color="#353535"/><stop offset=".6335" stop-color="#919191"/><stop offset=".6386" stop-color="#c8c8c8"/><stop offset=".6423" stop-color="#d5d5d5"/><stop offset=".6473" stop-color="#b7b7b7"/><stop offset=".6574" stop-color="#414141"/><stop offset=".6611" stop-color="#313131"/><stop offset=".6649" stop-color="#3c3c3c"/><stop offset=".6775" stop-color="#b9b9b9"/><stop offset=".6825" stop-color="#c1c1c1"/><stop offset=".6875" stop-color="#a2a2a2"/><stop offset=".6963" stop-color="#565656"/><stop offset=".7013" stop-color="#4b4b4b"/><stop offset=".7076" stop-color="#686868"/><stop offset=".7151" stop-color="#9a9a9a"/><stop offset=".7201" stop-color="#a5a5a5"/><stop offset=".7276" stop-color="#8d8d8d"/><stop offset=".7352" stop-color="#6e6e6e"/><stop offset=".7402" stop-color="#696969"/><stop offset=".7552" stop-color="#8a8a8a"/><stop offset=".7628" stop-color="#898989"/><stop offset=".7741" stop-color="#7b7b7b"/><stop offset=".7828" stop-color="#7c7c7c"/><stop offset=".7941" stop-color="#818181"/><stop offset=".828" stop-color="#7f7f7f"/><stop offset=".9999" stop-color="#808080"/></linearGradient><linearGradient id="b26" x2="0" y2="1"><stop offset="0" stop-color="#808080"/><stop offset=".4027" stop-color="#808080"/><stop offset=".4153" stop-color="#828282"/><stop offset=".4316" stop-color="#797979"/><stop offset=".4391" stop-color="#808080"/><stop offset=".4491" stop-color="#8d8d8d"/><stop offset=".4554" stop-color="#888888"/><stop offset=".4679" stop-color="#676767"/><stop offset=".473" stop-color="#6b6b6b"/><stop offset=".4805" stop-color="#8b8b8b"/><stop offset=".4868" stop-color="#a5a5a5"/><stop offset=".4918" stop-color="#a2a2a2"/><stop offset=".4981" stop-color="#7e7e7e"/><stop offset=".5056" stop-color="#4e4e4e"/><stop offset=".5106" stop-color="#4e4e4e"/><stop offset=".5169" stop-color="#7a7a7a"/><stop offset=".5244" stop-color="#b9b9b9"/><stop offset=".5282" stop-color="#c1c1c1"/><stop offset=".5332" stop-color="#a8a8a8"/><stop offset=".5432" stop-color="#434343"/><stop offset=".547" stop-color="#353535"/><stop offset=".552" stop-color="#4c4c4c"/><stop offset=".5633" stop-color="#c4c4c4"/><stop offset=".5671" stop-color="#cecece"/><stop offset=".5721" stop-color="#b1b1b1"/><stop offset=".5821" stop-color="#3f3f3f"/><stop offset=".5871" stop-color="#303030"/><stop offset=".5921" stop-color="#525252"/><stop offset=".6009" stop-color="#b9b9b9"/><stop offset=".6059" stop-color="#d0d0d0"/><stop offset=".611" stop-color="#b5b5b5"/><stop offset=".621" stop-color="#424242"/><stop offset=".6248" stop-color="#303030"/><stop offset=".6298" stop-color="#434343"/><stop offset=".6411" stop-color="#bfbfbf"/><stop offset=".6448" stop-color="#cdcdcd"/><stop offset=".6486" stop-color="#bfbfbf"/><stop offset=".6599" stop-color="#4a4a4a"/><stop offset=".6649" stop-color="#393939"/><stop offset=".6699" stop-color="#525252"/><stop offset=".68" stop-color="#b1b1b1"/><stop offset=".685" stop-color="#bbbbbb"/><stop offset=".6913" stop-color="#989898"/><stop offset=".6988" stop-color="#5c5c5c"/><stop offset=".7038" stop-color="#505050"/><stop offset=".7101" stop-color="#686868"/><stop offset=".7189" stop-color="#9a9a9a"/><stop offset=".7239" stop-color="#a0a0a0"/><stop offset=".7327" stop-color="#828282"/><stop offset=".7389" stop-color="#6e6e6e"/><stop offset=".7452" stop-color="#6e6e6e"/><stop offset=".7577" stop-color="#888888"/><stop offset=".7653" stop-color="#888888"/><stop offset=".7766" stop-color="#7c7c7c"/><stop offset=".7879" stop-color="#7d7d7d"/><stop offset=".7979" stop-color="#818181"/><stop offset=".8305" stop-color="#7f7f7f"/><stop offset=".9999" stop-color="#808080"/></linearGradient><linearGradient id="b27" x2="0" y2="1"><stop offset="0" stop-color="#808080"/><stop offset=".4077" stop-color="#808080"/><stop offset=".4165" stop-color="#828282"/><stop offset=".4366" stop-color="#7a7a7a"/><stop offset=".4441" stop-color="#818181"/><stop offset=".4541" stop-color="#8c8c8c"/><stop offset=".4604" stop-color="#858585"/><stop offset=".4717" stop-color="#6a6a6a"/><stop offset=".478" stop-color="#707070"/><stop offset=".4905" stop-color="#a0a0a0"/><stop offset=".4955" stop-color="#9f9f9f"/><stop offset=".5018" stop-color="#808080"/><stop offset=".5093" stop-color="#555555"/><stop offset=".5144" stop-color="#535353"/><stop offset=".5194" stop-color="#6e6e6e"/><stop offset=".5282" stop-color="#b1b1b1"/><stop offset=".5332" stop-color="#b8b8b8"/><stop offset=".5382" stop-color="#9c9c9c"/><stop offset=".547" stop-color="#4b4b4b"/><stop offset=".552" stop-color="#3e3e3e"/><stop offset=".557" stop-color="#595959"/><stop offset=".5658" stop-color="#b2b2b2"/><stop offset=".5708" stop-color="#c6c6c6"/><stop offset=".5758" stop-color="#afafaf"/><stop offset=".5859" stop-color="#494949"/><stop offset=".5896" stop-color="#383838"/><stop offset=".5934" stop-color="#414141"/><stop offset=".5997" stop-color="#7c7c7c"/><stop offset=".6059" stop-color="#bababa"/><stop offset=".6097" stop-color="#c7c7c7"/><stop offset=".6135" stop-color="#bbbbbb"/><stop offset=".621" stop-color="#707070"/><stop offset=".626" stop-color="#434343"/><stop offset=".6298" stop-color="#383838"/><stop offset=".6348" stop-color="#515151"/><stop offset=".6448" stop-color="#b6b6b6"/><stop offset=".6499" stop-color="#c4c4c4"/><stop offset=".6549" stop-color="#a8a8a8"/><stop offset=".6637" stop-color="#535353"/><stop offset=".6687" stop-color="#404040"/><stop offset=".6737" stop-color="#555555"/><stop offset=".6837" stop-color="#a9a9a9"/><stop offset=".6887" stop-color="#b5b5b5"/><stop offset=".6938" stop-color="#a0a0a0"/><stop offset=".7025" stop-color="#626262"/><stop offset=".7076" stop-color="#565656"/><stop offset=".7138" stop-color="#6a6a6a"/><stop offset=".7226" stop-color="#969696"/><stop offset=".7276" stop-color="#9c9c9c"/><stop offset=".7352" stop-color="#888888"/><stop offset=".7427" stop-color="#717171"/><stop offset=".749" stop-color="#707070"/><stop offset=".7615" stop-color="#868686"/><stop offset=".7703" stop-color="#868686"/><stop offset=".7816" stop-color="#7c7c7c"/><stop offset=".7954" stop-color="#7f7f7f"/><stop offset=".8067" stop-color="#818181"/><stop offset=".828" stop-color="#7f7f7f"/><stop offset=".9999" stop-color="#808080"/></linearGradient><linearGradient id="b28" x2="0" y2="1"><stop offset="0" stop-color="#808080"/><stop offset=".414" stop-color="#808080"/><stop offset=".4278" stop-color="#808080"/><stop offset=".4403" stop-color="#7b7b7b"/><stop offset=".4491" stop-color="#818181"/><stop offset=".4592" stop-color="#8a8a8a"/><stop offset=".4667" stop-color="#818181"/><stop offset=".4767" stop-color="#6d6d6d"/><stop offset=".483" stop-color="#737373"/><stop offset=".4955" stop-color="#9c9c9c"/><stop offset=".5006" stop-color="#999999"/><stop offset=".5068" stop-color="#7d7d7d"/><stop offset=".5144" stop-color="#595959"/><stop offset=".5194" stop-color="#5a5a5a"/><stop offset=".5257" stop-color="#7d7d7d"/><stop offset=".5332" stop-color="#adadad"/><stop offset=".5382" stop-color="#b0b0b0"/><stop offset=".5445" stop-color="#8a8a8a"/><stop offset=".552" stop-color="#4f4f4f"/><stop offset=".557" stop-color="#474747"/><stop offset=".562" stop-color="#626262"/><stop offset=".5708" stop-color="#afafaf"/><stop offset=".5758" stop-color="#bdbdbd"/><stop offset=".5809" stop-color="#a5a5a5"/><stop offset=".5909" stop-color="#4c4c4c"/><stop offset=".5947" stop-color="#414141"/><stop offset=".5997" stop-color="#545454"/><stop offset=".6097" stop-color="#aeaeae"/><stop offset=".6135" stop-color="#bebebe"/><stop offset=".6185" stop-color="#b1b1b1"/><stop offset=".6298" stop-color="#4e4e4e"/><stop offset=".6335" stop-color="#414141"/><stop offset=".6386" stop-color="#525252"/><stop offset=".6499" stop-color="#b2b2b2"/><stop offset=".6536" stop-color="#bbbbbb"/><stop offset=".6586" stop-color="#a8a8a8"/><stop offset=".6687" stop-color="#555555"/><stop offset=".6737" stop-color="#494949"/><stop offset=".6787" stop-color="#5e5e5e"/><stop offset=".6887" stop-color="#a6a6a6"/><stop offset=".6938" stop-color="#adadad"/><stop offset=".7" stop-color="#919191"/><stop offset=".7076" stop-color="#646464"/><stop offset=".7126" stop-color="#5c5c5c"/><stop offset=".7201" stop-color="#757575"/><stop offset=".7276" stop-color="#949494"/><stop offset=".7327" stop-color="#979797"/><stop offset=".7477" stop-color="#737373"/><stop offset=".754" stop-color="#737373"/><stop offset=".7653" stop-color="#848484"/><stop offset=".7715" stop-color="#868686"/><stop offset=".7866" stop-color="#7d7d7d"/><stop offset=".8004" stop-color="#7f7f7f"/><stop offset=".9999" stop-color="#808080"/></linearGradient><linearGradient id="b29" x2="0" y2="1"><stop offset="0" stop-color="#808080"/><stop offset=".4215" stop-color="#808080"/><stop offset=".4316" stop-color="#808080"/><stop offset=".4466" stop-color="#7c7c7c"/><stop offset=".4642" stop-color="#878787"/><stop offset=".4717" stop-color="#808080"/><stop offset=".4817" stop-color="#717171"/><stop offset=".488" stop-color="#767676"/><stop offset=".5006" stop-color="#969696"/><stop offset=".5068" stop-color="#919191"/><stop offset=".5194" stop-color="#606060"/><stop offset=".5244" stop-color="#626262"/><stop offset=".5307" stop-color="#7e7e7e"/><stop offset=".5382" stop-color="#a5a5a5"/><stop offset=".5432" stop-color="#a7a7a7"/><stop offset=".5495" stop-color="#878787"/><stop offset=".557" stop-color="#575757"/><stop offset=".562" stop-color="#515151"/><stop offset=".5671" stop-color="#686868"/><stop offset=".5758" stop-color="#a7a7a7"/><stop offset=".5809" stop-color="#b2b2b2"/><stop offset=".5859" stop-color="#9d9d9d"/><stop offset=".5959" stop-color="#555555"/><stop offset=".6009" stop-color="#4d4d4d"/><stop offset=".6059" stop-color="#646464"/><stop offset=".6147" stop-color="#a7a7a7"/><stop offset=".6197" stop-color="#b3b3b3"/><stop offset=".6248" stop-color="#a0a0a0"/><stop offset=".6348" stop-color="#565656"/><stop offset=".6398" stop-color="#4d4d4d"/><stop offset=".6448" stop-color="#626262"/><stop offset=".6549" stop-color="#aaaaaa"/><stop offset=".6599" stop-color="#afafaf"/><stop offset=".6649" stop-color="#989898"/><stop offset=".6737" stop-color="#5c5c5c"/><stop offset=".6787" stop-color="#535353"/><stop offset=".6837" stop-color="#656565"/><stop offset=".6925" stop-color="#9b9b9b"/><stop offset=".6975" stop-color="#a5a5a5"/><stop offset=".7025" stop-color="#999999"/><stop offset=".7126" stop-color="#696969"/><stop offset=".7176" stop-color="#636363"/><stop offset=".7251" stop-color="#787878"/><stop offset=".7327" stop-color="#909090"/><stop offset=".7377" stop-color="#929292"/><stop offset=".7515" stop-color="#777777"/><stop offset=".759" stop-color="#767676"/><stop offset=".7715" stop-color="#848484"/><stop offset=".7803" stop-color="#838383"/><stop offset=".7941" stop-color="#7d7d7d"/><stop offset=".8142" stop-color="#808080"/><stop offset=".9999" stop-color="#7f7f7f"/></linearGradient><linearGradient id="b30" x2="0" y2="1"><stop offset="0" stop-color="#808080"/><stop offset=".4416" stop-color="#7f7f7f"/><stop offset=".4516" stop-color="#7d7d7d"/><stop offset=".4705" stop-color="#858585"/><stop offset=".4792" stop-color="#7d7d7d"/><stop offset=".488" stop-color="#747474"/><stop offset=".4943" stop-color="#7a7a7a"/><stop offset=".5056" stop-color="#919191"/><stop offset=".5119" stop-color="#8d8d8d"/><stop offset=".5244" stop-color="#676767"/><stop offset=".5294" stop-color="#686868"/><stop offset=".5357" stop-color="#7e7e7e"/><stop offset=".5432" stop-color="#9d9d9d"/><stop offset=".5482" stop-color="#9f9f9f"/><stop offset=".5545" stop-color="#868686"/><stop offset=".562" stop-color="#606060"/><stop offset=".5658" stop-color="#5a5a5a"/><stop offset=".5708" stop-color="#666666"/><stop offset=".5809" stop-color="#9e9e9e"/><stop offset=".5859" stop-color="#a8a8a8"/><stop offset=".5909" stop-color="#989898"/><stop offset=".6009" stop-color="#5e5e5e"/><stop offset=".6059" stop-color="#575757"/><stop offset=".611" stop-color="#696969"/><stop offset=".6197" stop-color="#9e9e9e"/><stop offset=".6248" stop-color="#a9a9a9"/><stop offset=".6298" stop-color="#9a9a9a"/><stop offset=".6398" stop-color="#5f5f5f"/><stop offset=".6448" stop-color="#575757"/><stop offset=".6499" stop-color="#686868"/><stop offset=".6599" stop-color="#a0a0a0"/><stop offset=".6649" stop-color="#a6a6a6"/><stop offset=".6712" stop-color="#8d8d8d"/><stop offset=".6787" stop-color="#646464"/><stop offset=".6837" stop-color="#5c5c5c"/><stop offset=".69" stop-color="#707070"/><stop offset=".6988" stop-color="#989898"/><stop offset=".7038" stop-color="#9d9d9d"/><stop offset=".7113" stop-color="#858585"/><stop offset=".7189" stop-color="#6c6c6c"/><stop offset=".7239" stop-color="#6a6a6a"/><stop offset=".7377" stop-color="#8c8c8c"/><stop offset=".7439" stop-color="#8d8d8d"/><stop offset=".7577" stop-color="#787878"/><stop offset=".764" stop-color="#797979"/><stop offset=".7766" stop-color="#838383"/><stop offset=".7904" stop-color="#808080"/><stop offset=".8029" stop-color="#7e7e7e"/><stop offset=".8217" stop-color="#808080"/><stop offset=".9999" stop-color="#7f7f7f"/></linearGradient><linearGradient id="b31" x2="0" y2="1"><stop offset="0" stop-color="#808080"/><stop offset=".4479" stop-color="#7f7f7f"/><stop offset=".4617" stop-color="#7f7f7f"/><stop offset=".4755" stop-color="#848484"/><stop offset=".493" stop-color="#767676"/><stop offset=".5006" stop-color="#7d7d7d"/><stop offset=".5106" stop-color="#8e8e8e"/><stop offset=".5169" stop-color="#8b8b8b"/><stop offset=".5294" stop-color="#6c6c6c"/><stop offset=".5344" stop-color="#6c6c6c"/><stop offset=".542" stop-color="#828282"/><stop offset=".5482" stop-color="#979797"/><stop offset=".552" stop-color="#9b9b9b"/><stop offset=".5583" stop-color="#8b8b8b"/><stop offset=".5671" stop-color="#666666"/><stop offset=".5721" stop-color="#616161"/><stop offset=".5783" stop-color="#757575"/><stop offset=".5871" stop-color="#9d9d9d"/><stop offset=".5921" stop-color="#a0a0a0"/><stop offset=".5997" stop-color="#828282"/><stop offset=".6059" stop-color="#646464"/><stop offset=".611" stop-color="#5e5e5e"/><stop offset=".6172" stop-color="#727272"/><stop offset=".626" stop-color="#9d9d9d"/><stop offset=".631" stop-color="#a1a1a1"/><stop offset=".6361" stop-color="#919191"/><stop offset=".6461" stop-color="#616161"/><stop offset=".6511" stop-color="#5f5f5f"/><stop offset=".6574" stop-color="#777777"/><stop offset=".6649" stop-color="#9b9b9b"/><stop offset=".6699" stop-color="#9f9f9f"/><stop offset=".6762" stop-color="#8b8b8b"/><stop offset=".685" stop-color="#656565"/><stop offset=".69" stop-color="#636363"/><stop offset=".6963" stop-color="#777777"/><stop offset=".7038" stop-color="#949494"/><stop offset=".7088" stop-color="#989898"/><stop offset=".7163" stop-color="#858585"/><stop offset=".7239" stop-color="#6f6f6f"/><stop offset=".7301" stop-color="#6f6f6f"/><stop offset=".7427" stop-color="#8a8a8a"/><stop offset=".749" stop-color="#8b8b8b"/><stop offset=".7628" stop-color="#797979"/><stop offset=".7728" stop-color="#7c7c7c"/><stop offset=".7841" stop-color="#838383"/><stop offset=".8067" stop-color="#7e7e7e"/><stop offset=".828" stop-color="#808080"/><stop offset=".9999" stop-color="#7f7f7f"/></linearGradient><linearGradient id="b32" x2="0" y2="1"><stop offset="0" stop-color="#808080"/><stop offset=".4541" stop-color="#7f7f7f"/><stop offset=".4667" stop-color="#7f7f7f"/><stop offset=".4805" stop-color="#838383"/><stop offset=".4943" stop-color="#7a7a7a"/><stop offset=".5018" stop-color="#797979"/><stop offset=".5169" stop-color="#8c8c8c"/><stop offset=".5231" stop-color="#878787"/><stop offset=".5344" stop-color="#6f6f6f"/><stop offset=".5407" stop-color="#717171"/><stop offset=".5545" stop-color="#959595"/><stop offset=".5608" stop-color="#919191"/><stop offset=".5733" stop-color="#686868"/><stop offset=".5783" stop-color="#676767"/><stop offset=".5846" stop-color="#7b7b7b"/><stop offset=".5921" stop-color="#989898"/><stop offset=".5972" stop-color="#9b9b9b"/><stop offset=".6034" stop-color="#888888"/><stop offset=".611" stop-color="#696969"/><stop offset=".6147" stop-color="#636363"/><stop offset=".6197" stop-color="#6a6a6a"/><stop offset=".631" stop-color="#989898"/><stop offset=".6361" stop-color="#9c9c9c"/><stop offset=".6423" stop-color="#898989"/><stop offset=".6511" stop-color="#666666"/><stop offset=".6561" stop-color="#646464"/><stop offset=".6624" stop-color="#787878"/><stop offset=".6699" stop-color="#969696"/><stop offset=".6749" stop-color="#9b9b9b"/><stop offset=".68" stop-color="#8f8f8f"/><stop offset=".6887" stop-color="#6d6d6d"/><stop offset=".6938" stop-color="#666666"/><stop offset=".7" stop-color="#737373"/><stop offset=".7088" stop-color="#919191"/><stop offset=".7138" stop-color="#949494"/><stop offset=".7201" stop-color="#888888"/><stop offset=".7276" stop-color="#747474"/><stop offset=".7327" stop-color="#707070"/><stop offset=".7389" stop-color="#787878"/><stop offset=".7477" stop-color="#888888"/><stop offset=".754" stop-color="#898989"/><stop offset=".7678" stop-color="#7a7a7a"/><stop offset=".7766" stop-color="#7c7c7c"/><stop offset=".7879" stop-color="#828282"/><stop offset=".8004" stop-color="#808080"/><stop offset=".8104" stop-color="#7e7e7e"/><stop offset=".8355" stop-color="#808080"/><stop offset=".9999" stop-color="#7f7f7f"/></linearGradient><linearGradient id="b33" x2="0" y2="1"><stop offset="0" stop-color="#808080"/><stop offset=".4604" stop-color="#7f7f7f"/><stop offset=".473" stop-color="#7f7f7f"/><stop offset=".4855" stop-color="#838383"/><stop offset=".5056" stop-color="#797979"/><stop offset=".5231" stop-color="#8a8a8a"/><stop offset=".5294" stop-color="#858585"/><stop offset=".5407" stop-color="#717171"/><stop offset=".5457" stop-color="#727272"/><stop offset=".5595" stop-color="#929292"/><stop offset=".5645" stop-color="#919191"/><stop offset=".5696" stop-color="#858585"/><stop offset=".5783" stop-color="#6b6b6b"/><stop offset=".5834" stop-color="#6a6a6a"/><stop offset=".5896" stop-color="#7a7a7a"/><stop offset=".5972" stop-color="#949494"/><stop offset=".6022" stop-color="#979797"/><stop offset=".6085" stop-color="#888888"/><stop offset=".616" stop-color="#6d6d6d"/><stop offset=".621" stop-color="#676767"/><stop offset=".626" stop-color="#707070"/><stop offset=".6361" stop-color="#949494"/><stop offset=".6411" stop-color="#989898"/><stop offset=".6461" stop-color="#8e8e8e"/><stop offset=".6561" stop-color="#6a6a6a"/><stop offset=".6611" stop-color="#676767"/><stop offset=".6687" stop-color="#7c7c7c"/><stop offset=".6749" stop-color="#929292"/><stop offset=".6787" stop-color="#979797"/><stop offset=".6837" stop-color="#919191"/><stop offset=".695" stop-color="#6d6d6d"/><stop offset=".7013" stop-color="#6b6b6b"/><stop offset=".7151" stop-color="#909090"/><stop offset=".7214" stop-color="#909090"/><stop offset=".7339" stop-color="#747474"/><stop offset=".7389" stop-color="#727272"/><stop offset=".7552" stop-color="#898989"/><stop offset=".7665" stop-color="#818181"/><stop offset=".7753" stop-color="#7a7a7a"/><stop offset=".7941" stop-color="#828282"/><stop offset=".8167" stop-color="#7f7f7f"/><stop offset=".9999" stop-color="#808080"/></linearGradient><linearGradient id="b34" x2="0" y2="1"><stop offset="0" stop-color="#808080"/><stop offset=".4679" stop-color="#7f7f7f"/><stop offset=".478" stop-color="#7f7f7f"/><stop offset=".493" stop-color="#828282"/><stop offset=".5106" stop-color="#7a7a7a"/><stop offset=".5206" stop-color="#828282"/><stop offset=".5294" stop-color="#898989"/><stop offset=".5369" stop-color="#818181"/><stop offset=".547" stop-color="#727272"/><stop offset=".5533" stop-color="#777777"/><stop offset=".5658" stop-color="#909090"/><stop offset=".5708" stop-color="#8e8e8e"/><stop offset=".5783" stop-color="#7c7c7c"/><stop offset=".5846" stop-color="#6d6d6d"/><stop offset=".5909" stop-color="#6f6f6f"/><stop offset=".6034" stop-color="#929292"/><stop offset=".6085" stop-color="#949494"/><stop offset=".6147" stop-color="#858585"/><stop offset=".6223" stop-color="#6e6e6e"/><stop offset=".6273" stop-color="#6a6a6a"/><stop offset=".6335" stop-color="#777777"/><stop offset=".6423" stop-color="#929292"/><stop offset=".6473" stop-color="#959595"/><stop offset=".6536" stop-color="#868686"/><stop offset=".6611" stop-color="#6e6e6e"/><stop offset=".6662" stop-color="#6a6a6a"/><stop offset=".6724" stop-color="#767676"/><stop offset=".6812" stop-color="#919191"/><stop offset=".6862" stop-color="#949494"/><stop offset=".6925" stop-color="#878787"/><stop offset=".7013" stop-color="#6f6f6f"/><stop offset=".7063" stop-color="#6d6d6d"/><stop offset=".7214" stop-color="#8f8f8f"/><stop offset=".7276" stop-color="#8d8d8d"/><stop offset=".7389" stop-color="#767676"/><stop offset=".7452" stop-color="#747474"/><stop offset=".7603" stop-color="#878787"/><stop offset=".7678" stop-color="#858585"/><stop offset=".7803" stop-color="#7b7b7b"/><stop offset=".7941" stop-color="#808080"/><stop offset=".8029" stop-color="#828282"/><stop offset=".8192" stop-color="#7f7f7f"/><stop offset=".9999" stop-color="#808080"/></linearGradient><linearGradient id="b35" x2="0" y2="1"><stop offset="0" stop-color="#808080"/><stop offset=".488" stop-color="#808080"/><stop offset=".4993" stop-color="#828282"/><stop offset=".5144" stop-color="#7b7b7b"/><stop offset=".5219" stop-color="#7d7d7d"/><stop offset=".5344" stop-color="#888888"/><stop offset=".542" stop-color="#828282"/><stop offset=".552" stop-color="#747474"/><stop offset=".5583" stop-color="#767676"/><stop offset=".5708" stop-color="#8d8d8d"/><stop offset=".5758" stop-color="#8e8e8e"/><stop offset=".5834" stop-color="#7f7f7f"/><stop offset=".5896" stop-color="#707070"/><stop offset=".5959" stop-color="#707070"/><stop offset=".6034" stop-color="#828282"/><stop offset=".6097" stop-color="#919191"/><stop offset=".6147" stop-color="#919191"/><stop offset=".6235" stop-color="#7c7c7c"/><stop offset=".6298" stop-color="#6d6d6d"/><stop offset=".6348" stop-color="#6e6e6e"/><stop offset=".6411" stop-color="#7d7d7d"/><stop offset=".6486" stop-color="#919191"/><stop offset=".6549" stop-color="#919191"/><stop offset=".6674" stop-color="#707070"/><stop offset=".6724" stop-color="#6c6c6c"/><stop offset=".6787" stop-color="#787878"/><stop offset=".6875" stop-color="#909090"/><stop offset=".6938" stop-color="#909090"/><stop offset=".7013" stop-color="#7e7e7e"/><stop offset=".7076" stop-color="#707070"/><stop offset=".7126" stop-color="#6f6f6f"/><stop offset=".7264" stop-color="#8c8c8c"/><stop offset=".7327" stop-color="#8c8c8c"/><stop offset=".7465" stop-color="#757575"/><stop offset=".7527" stop-color="#767676"/><stop offset=".7665" stop-color="#878787"/><stop offset=".7741" stop-color="#848484"/><stop offset=".7879" stop-color="#7b7b7b"/><stop offset=".8067" stop-color="#828282"/><stop offset=".8267" stop-color="#7f7f7f"/><stop offset=".9999" stop-color="#808080"/></linearGradient><linearGradient id="b36" x2="0" y2="1"><stop offset="0" stop-color="#808080"/><stop offset=".4943" stop-color="#808080"/><stop offset=".5043" stop-color="#828282"/><stop offset=".5231" stop-color="#7b7b7b"/><stop offset=".5407" stop-color="#878787"/><stop offset=".5482" stop-color="#828282"/><stop offset=".5583" stop-color="#757575"/><stop offset=".5645" stop-color="#777777"/><stop offset=".5771" stop-color="#8d8d8d"/><stop offset=".5834" stop-color="#8b8b8b"/><stop offset=".5959" stop-color="#717171"/><stop offset=".6022" stop-color="#717171"/><stop offset=".616" stop-color="#909090"/><stop offset=".621" stop-color="#909090"/><stop offset=".631" stop-color="#787878"/><stop offset=".6373" stop-color="#6d6d6d"/><stop offset=".6423" stop-color="#717171"/><stop offset=".6536" stop-color="#8e8e8e"/><stop offset=".6586" stop-color="#929292"/><stop offset=".6649" stop-color="#878787"/><stop offset=".6737" stop-color="#707070"/><stop offset=".6787" stop-color="#6e6e6e"/><stop offset=".685" stop-color="#797979"/><stop offset=".6925" stop-color="#8d8d8d"/><stop offset=".6975" stop-color="#919191"/><stop offset=".7038" stop-color="#878787"/><stop offset=".7126" stop-color="#727272"/><stop offset=".7176" stop-color="#707070"/><stop offset=".7239" stop-color="#7a7a7a"/><stop offset=".7327" stop-color="#8c8c8c"/><stop offset=".7389" stop-color="#8b8b8b"/><stop offset=".7527" stop-color="#767676"/><stop offset=".759" stop-color="#777777"/><stop offset=".7715" stop-color="#868686"/><stop offset=".7816" stop-color="#838383"/><stop offset=".7904" stop-color="#7c7c7c"/><stop offset=".8017" stop-color="#7e7e7e"/><stop offset=".8117" stop-color="#818181"/><stop offset=".8431" stop-color="#7f7f7f"/><stop offset=".9999" stop-color="#7f7f7f"/></linearGradient><linearGradient id="b37" x2="0" y2="1"><stop offset="0" stop-color="#808080"/><stop offset=".5006" stop-color="#808080"/><stop offset=".5106" stop-color="#818181"/><stop offset=".5282" stop-color="#7b7b7b"/><stop offset=".5395" stop-color="#828282"/><stop offset=".547" stop-color="#878787"/><stop offset=".557" stop-color="#7e7e7e"/><stop offset=".5645" stop-color="#767676"/><stop offset=".5708" stop-color="#787878"/><stop offset=".5846" stop-color="#8d8d8d"/><stop offset=".5896" stop-color="#8a8a8a"/><stop offset=".6022" stop-color="#727272"/><stop offset=".6085" stop-color="#727272"/><stop offset=".621" stop-color="#8e8e8e"/><stop offset=".6273" stop-color="#8f8f8f"/><stop offset=".6411" stop-color="#707070"/><stop offset=".6473" stop-color="#707070"/><stop offset=".6599" stop-color="#8e8e8e"/><stop offset=".6662" stop-color="#909090"/><stop offset=".68" stop-color="#717171"/><stop offset=".685" stop-color="#6f6f6f"/><stop offset=".6913" stop-color="#7a7a7a"/><stop offset=".7" stop-color="#8f8f8f"/><stop offset=".7063" stop-color="#8e8e8e"/><stop offset=".7201" stop-color="#717171"/><stop offset=".7264" stop-color="#737373"/><stop offset=".7389" stop-color="#8b8b8b"/><stop offset=".7439" stop-color="#8c8c8c"/><stop offset=".759" stop-color="#767676"/><stop offset=".7678" stop-color="#7a7a7a"/><stop offset=".7778" stop-color="#868686"/><stop offset=".7853" stop-color="#848484"/><stop offset=".7979" stop-color="#7c7c7c"/><stop offset=".8104" stop-color="#7f7f7f"/><stop offset=".8192" stop-color="#818181"/><stop offset=".8468" stop-color="#7f7f7f"/><stop offset=".9999" stop-color="#7f7f7f"/></linearGradient><linearGradient id="b38" x2="0" y2="1"><stop offset="0" stop-color="#808080"/><stop offset=".5068" stop-color="#808080"/><stop offset=".5219" stop-color="#808080"/><stop offset=".5344" stop-color="#7c7c7c"/><stop offset=".5432" stop-color="#808080"/><stop offset=".5533" stop-color="#868686"/><stop offset=".5608" stop-color="#818181"/><stop offset=".5708" stop-color="#767676"/><stop offset=".5758" stop-color="#777777"/><stop offset=".5896" stop-color="#8b8b8b"/><stop offset=".5947" stop-color="#8b8b8b"/><stop offset=".6097" stop-color="#717171"/><stop offset=".6172" stop-color="#777777"/><stop offset=".6273" stop-color="#8d8d8d"/><stop offset=".6323" stop-color="#8f8f8f"/><stop offset=".6398" stop-color="#818181"/><stop offset=".6473" stop-color="#717171"/><stop offset=".6536" stop-color="#717171"/><stop offset=".6674" stop-color="#8f8f8f"/><stop offset=".6724" stop-color="#8f8f8f"/><stop offset=".6862" stop-color="#717171"/><stop offset=".6925" stop-color="#717171"/><stop offset=".7063" stop-color="#8e8e8e"/><stop offset=".7126" stop-color="#8d8d8d"/><stop offset=".7251" stop-color="#737373"/><stop offset=".7314" stop-color="#727272"/><stop offset=".7452" stop-color="#8b8b8b"/><stop offset=".7515" stop-color="#8a8a8a"/><stop offset=".7653" stop-color="#767676"/><stop offset=".7728" stop-color="#797979"/><stop offset=".7828" stop-color="#858585"/><stop offset=".7904" stop-color="#858585"/><stop offset=".8029" stop-color="#7c7c7c"/><stop offset=".8142" stop-color="#7e7e7e"/><stop offset=".8242" stop-color="#818181"/><stop offset=".8543" stop-color="#7f7f7f"/><stop offset=".9999" stop-color="#7f7f7f"/></linearGradient><linearGradient id="b39" x2="0" y2="1"><stop offset="0" stop-color="#808080"/><stop offset=".5144" stop-color="#808080"/><stop offset=".5282" stop-color="#808080"/><stop offset=".5407" stop-color="#7c7c7c"/><stop offset=".552" stop-color="#828282"/><stop offset=".5608" stop-color="#868686"/><stop offset=".5783" stop-color="#767676"/><stop offset=".5871" stop-color="#7e7e7e"/><stop offset=".5959" stop-color="#8b8b8b"/><stop offset=".6022" stop-color="#898989"/><stop offset=".6147" stop-color="#737373"/><stop offset=".6197" stop-color="#727272"/><stop offset=".626" stop-color="#7d7d7d"/><stop offset=".6348" stop-color="#8e8e8e"/><stop offset=".6411" stop-color="#8c8c8c"/><stop offset=".6536" stop-color="#717171"/><stop offset=".6599" stop-color="#727272"/><stop offset=".6724" stop-color="#8d8d8d"/><stop offset=".6787" stop-color="#8e8e8e"/><stop offset=".685" stop-color="#828282"/><stop offset=".6938" stop-color="#707070"/><stop offset=".7" stop-color="#737373"/><stop offset=".7113" stop-color="#8c8c8c"/><stop offset=".7176" stop-color="#8e8e8e"/><stop offset=".7264" stop-color="#7d7d7d"/><stop offset=".7327" stop-color="#727272"/><stop offset=".7389" stop-color="#747474"/><stop offset=".7515" stop-color="#8a8a8a"/><stop offset=".7565" stop-color="#8b8b8b"/><stop offset=".7703" stop-color="#787878"/><stop offset=".7766" stop-color="#777777"/><stop offset=".7904" stop-color="#858585"/><stop offset=".7979" stop-color="#848484"/><stop offset=".8104" stop-color="#7c7c7c"/><stop offset=".823" stop-color="#7f7f7f"/><stop offset=".8318" stop-color="#818181"/><stop offset=".8581" stop-color="#7f7f7f"/><stop offset=".9999" stop-color="#808080"/></linearGradient><linearGradient id="b40" x2="0" y2="1"><stop offset="0" stop-color="#808080"/><stop offset=".5206" stop-color="#808080"/><stop offset=".5344" stop-color="#808080"/><stop offset=".5482" stop-color="#7c7c7c"/><stop offset=".5645" stop-color="#858585"/><stop offset=".5721" stop-color="#828282"/><stop offset=".5846" stop-color="#777777"/><stop offset=".5921" stop-color="#7c7c7c"/><stop offset=".6022" stop-color="#8a8a8a"/><stop offset=".6085" stop-color="#898989"/><stop offset=".6223" stop-color="#727272"/><stop offset=".6285" stop-color="#757575"/><stop offset=".6398" stop-color="#8c8c8c"/><stop offset=".6461" stop-color="#8d8d8d"/><stop offset=".6524" stop-color="#818181"/><stop offset=".6611" stop-color="#717171"/><stop offset=".6662" stop-color="#727272"/><stop offset=".68" stop-color="#8e8e8e"/><stop offset=".685" stop-color="#8e8e8e"/><stop offset=".7" stop-color="#717171"/><stop offset=".7063" stop-color="#737373"/><stop offset=".7189" stop-color="#8d8d8d"/><stop offset=".7251" stop-color="#8c8c8c"/><stop offset=".7377" stop-color="#747474"/><stop offset=".7439" stop-color="#737373"/><stop offset=".7577" stop-color="#8a8a8a"/><stop offset=".764" stop-color="#8a8a8a"/><stop offset=".7766" stop-color="#787878"/><stop offset=".7828" stop-color="#777777"/><stop offset=".7979" stop-color="#868686"/><stop offset=".8079" stop-color="#818181"/><stop offset=".818" stop-color="#7c7c7c"/><stop offset=".8368" stop-color="#818181"/><stop offset=".8669" stop-color="#7f7f7f"/><stop offset=".9999" stop-color="#808080"/></linearGradient><linearGradient id="b41" x2="0" y2="1"><stop offset="0" stop-color="#808080"/><stop offset=".5282" stop-color="#808080"/><stop offset=".542" stop-color="#808080"/><stop offset=".5545" stop-color="#7c7c7c"/><stop offset=".5721" stop-color="#858585"/><stop offset=".5821" stop-color="#7f7f7f"/><stop offset=".5909" stop-color="#777777"/><stop offset=".5984" stop-color="#7c7c7c"/><stop offset=".6085" stop-color="#8a8a8a"/><stop offset=".6147" stop-color="#898989"/><stop offset=".6273" stop-color="#747474"/><stop offset=".6323" stop-color="#737373"/><stop offset=".6386" stop-color="#7c7c7c"/><stop offset=".6473" stop-color="#8d8d8d"/><stop offset=".6536" stop-color="#8c8c8c"/><stop offset=".6674" stop-color="#717171"/><stop offset=".6737" stop-color="#747474"/><stop offset=".6862" stop-color="#8d8d8d"/><stop offset=".6913" stop-color="#8e8e8e"/><stop offset=".7" stop-color="#7d7d7d"/><stop offset=".7063" stop-color="#727272"/><stop offset=".7101" stop-color="#717171"/><stop offset=".7163" stop-color="#7a7a7a"/><stop offset=".7251" stop-color="#8c8c8c"/><stop offset=".7301" stop-color="#8e8e8e"/><stop offset=".7389" stop-color="#7e7e7e"/><stop offset=".7452" stop-color="#737373"/><stop offset=".7515" stop-color="#747474"/><stop offset=".7653" stop-color="#8b8b8b"/><stop offset=".7715" stop-color="#898989"/><stop offset=".7841" stop-color="#777777"/><stop offset=".7916" stop-color="#797979"/><stop offset=".8042" stop-color="#868686"/><stop offset=".8142" stop-color="#828282"/><stop offset=".823" stop-color="#7c7c7c"/><stop offset=".833" stop-color="#7e7e7e"/><stop offset=".8431" stop-color="#818181"/><stop offset=".8744" stop-color="#7f7f7f"/><stop offset=".9999" stop-color="#808080"/></linearGradient><linearGradient id="b42" x2="0" y2="1"><stop offset="0" stop-color="#808080"/><stop offset=".5344" stop-color="#808080"/><stop offset=".5482" stop-color="#808080"/><stop offset=".5595" stop-color="#7c7c7c"/><stop offset=".5708" stop-color="#818181"/><stop offset=".5809" stop-color="#858585"/><stop offset=".5984" stop-color="#777777"/><stop offset=".6072" stop-color="#7f7f7f"/><stop offset=".616" stop-color="#8a8a8a"/><stop offset=".6223" stop-color="#888888"/><stop offset=".6335" stop-color="#757575"/><stop offset=".6398" stop-color="#747474"/><stop offset=".6486" stop-color="#838383"/><stop offset=".6561" stop-color="#8e8e8e"/><stop offset=".6624" stop-color="#888888"/><stop offset=".6737" stop-color="#727272"/><stop offset=".68" stop-color="#737373"/><stop offset=".6925" stop-color="#8c8c8c"/><stop offset=".6988" stop-color="#8d8d8d"/><stop offset=".7126" stop-color="#727272"/><stop offset=".7189" stop-color="#737373"/><stop offset=".7314" stop-color="#8c8c8c"/><stop offset=".7377" stop-color="#8d8d8d"/><stop offset=".7515" stop-color="#747474"/><stop offset=".7565" stop-color="#737373"/><stop offset=".7628" stop-color="#7c7c7c"/><stop offset=".7703" stop-color="#898989"/><stop offset=".7766" stop-color="#8a8a8a"/><stop offset=".7904" stop-color="#777777"/><stop offset=".7966" stop-color="#787878"/><stop offset=".8104" stop-color="#858585"/><stop offset=".818" stop-color="#848484"/><stop offset=".8305" stop-color="#7c7c7c"/><stop offset=".8418" stop-color="#7f7f7f"/><stop offset=".8543" stop-color="#818181"/><stop offset=".8744" stop-color="#7f7f7f"/><stop offset=".9999" stop-color="#7f7f7f"/></linearGradient><linearGradient id="b43" x2="0" y2="1"><stop offset="0" stop-color="#808080"/><stop offset=".542" stop-color="#808080"/><stop offset=".5545" stop-color="#808080"/><stop offset=".5671" stop-color="#7d7d7d"/><stop offset=".5758" stop-color="#808080"/><stop offset=".5871" stop-color="#858585"/><stop offset=".5984" stop-color="#7c7c7c"/><stop offset=".6047" stop-color="#787878"/><stop offset=".611" stop-color="#7b7b7b"/><stop offset=".6235" stop-color="#8a8a8a"/><stop offset=".631" stop-color="#858585"/><stop offset=".6411" stop-color="#747474"/><stop offset=".6473" stop-color="#757575"/><stop offset=".6549" stop-color="#828282"/><stop offset=".6624" stop-color="#8d8d8d"/><stop offset=".6687" stop-color="#898989"/><stop offset=".68" stop-color="#737373"/><stop offset=".685" stop-color="#727272"/><stop offset=".6925" stop-color="#7f7f7f"/><stop offset=".7013" stop-color="#8e8e8e"/><stop offset=".7076" stop-color="#8a8a8a"/><stop offset=".7189" stop-color="#737373"/><stop offset=".7251" stop-color="#727272"/><stop offset=".7389" stop-color="#8c8c8c"/><stop offset=".7439" stop-color="#8d8d8d"/><stop offset=".754" stop-color="#7b7b7b"/><stop offset=".7603" stop-color="#727272"/><stop offset=".7653" stop-color="#757575"/><stop offset=".7778" stop-color="#8a8a8a"/><stop offset=".7841" stop-color="#898989"/><stop offset=".7979" stop-color="#777777"/><stop offset=".8054" stop-color="#797979"/><stop offset=".818" stop-color="#868686"/><stop offset=".8255" stop-color="#838383"/><stop offset=".8368" stop-color="#7c7c7c"/><stop offset=".8468" stop-color="#7e7e7e"/><stop offset=".8569" stop-color="#818181"/><stop offset=".8882" stop-color="#7f7f7f"/><stop offset=".9999" stop-color="#7f7f7f"/></linearGradient><linearGradient id="b44" x2="0" y2="1"><stop offset="0" stop-color="#808080"/><stop offset=".5495" stop-color="#808080"/><stop offset=".562" stop-color="#808080"/><stop offset=".5746" stop-color="#7d7d7d"/><stop offset=".5859" stop-color="#828282"/><stop offset=".5959" stop-color="#848484"/><stop offset=".611" stop-color="#787878"/><stop offset=".6172" stop-color="#7b7b7b"/><stop offset=".631" stop-color="#8a8a8a"/><stop offset=".6386" stop-color="#848484"/><stop offset=".6499" stop-color="#737373"/><stop offset=".6561" stop-color="#777777"/><stop offset=".6687" stop-color="#8d8d8d"/><stop offset=".6762" stop-color="#888888"/><stop offset=".6875" stop-color="#727272"/><stop offset=".6938" stop-color="#747474"/><stop offset=".7063" stop-color="#8c8c8c"/><stop offset=".7113" stop-color="#8d8d8d"/><stop offset=".7176" stop-color="#848484"/><stop offset=".7251" stop-color="#747474"/><stop offset=".7314" stop-color="#727272"/><stop offset=".7402" stop-color="#828282"/><stop offset=".7465" stop-color="#8d8d8d"/><stop offset=".7527" stop-color="#8b8b8b"/><stop offset=".764" stop-color="#757575"/><stop offset=".7703" stop-color="#737373"/><stop offset=".7841" stop-color="#898989"/><stop offset=".7904" stop-color="#8a8a8a"/><stop offset=".8042" stop-color="#777777"/><stop offset=".8104" stop-color="#787878"/><stop offset=".8242" stop-color="#868686"/><stop offset=".8343" stop-color="#828282"/><stop offset=".8431" stop-color="#7c7c7c"/><stop offset=".8543" stop-color="#7e7e7e"/><stop offset=".8619" stop-color="#818181"/><stop offset=".8719" stop-color="#818181"/><stop offset=".8832" stop-color="#7f7f7f"/><stop offset=".9999" stop-color="#7f7f7f"/></linearGradient><linearGradient id="b45" x2="0" y2="1"><stop offset="0" stop-color="#808080"/><stop offset=".557" stop-color="#808080"/><stop offset=".5683" stop-color="#808080"/><stop offset=".5834" stop-color="#7d7d7d"/><stop offset=".5997" stop-color="#848484"/><stop offset=".6085" stop-color="#808080"/><stop offset=".6185" stop-color="#787878"/><stop offset=".6273" stop-color="#7e7e7e"/><stop offset=".6361" stop-color="#898989"/><stop offset=".6423" stop-color="#888888"/><stop offset=".6561" stop-color="#747474"/><stop offset=".6624" stop-color="#777777"/><stop offset=".6749" stop-color="#8c8c8c"/><stop offset=".68" stop-color="#8c8c8c"/><stop offset=".6875" stop-color="#7f7f7f"/><stop offset=".695" stop-color="#727272"/><stop offset=".7013" stop-color="#757575"/><stop offset=".7126" stop-color="#8b8b8b"/><stop offset=".7189" stop-color="#8d8d8d"/><stop offset=".7339" stop-color="#727272"/><stop offset=".7402" stop-color="#747474"/><stop offset=".7527" stop-color="#8c8c8c"/><stop offset=".759" stop-color="#8b8b8b"/><stop offset=".7728" stop-color="#737373"/><stop offset=".7791" stop-color="#757575"/><stop offset=".7916" stop-color="#8a8a8a"/><stop offset=".7979" stop-color="#8a8a8a"/><stop offset=".8117" stop-color="#777777"/><stop offset=".818" stop-color="#787878"/><stop offset=".8318" stop-color="#868686"/><stop offset=".8405" stop-color="#838383"/><stop offset=".8493" stop-color="#7c7c7c"/><stop offset=".8569" stop-color="#7c7c7c"/><stop offset=".8719" stop-color="#828282"/><stop offset=".892" stop-color="#7f7f7f"/><stop offset=".9999" stop-color="#808080"/></linearGradient><linearGradient id="b46" x2="0" y2="1"><stop offset="0" stop-color="#808080"/><stop offset=".5658" stop-color="#808080"/><stop offset=".5758" stop-color="#808080"/><stop offset=".5896" stop-color="#7d7d7d"/><stop offset=".6085" stop-color="#848484"/><stop offset=".626" stop-color="#797979"/><stop offset=".6335" stop-color="#7d7d7d"/><stop offset=".6423" stop-color="#888888"/><stop offset=".6499" stop-color="#878787"/><stop offset=".6624" stop-color="#757575"/><stop offset=".6687" stop-color="#767676"/><stop offset=".6825" stop-color="#8c8c8c"/><stop offset=".6887" stop-color="#8a8a8a"/><stop offset=".7013" stop-color="#737373"/><stop offset=".7076" stop-color="#747474"/><stop offset=".7201" stop-color="#8b8b8b"/><stop offset=".7264" stop-color="#8c8c8c"/><stop offset=".7414" stop-color="#727272"/><stop offset=".7477" stop-color="#757575"/><stop offset=".759" stop-color="#8b8b8b"/><stop offset=".7653" stop-color="#8c8c8c"/><stop offset=".7803" stop-color="#737373"/><stop offset=".7866" stop-color="#767676"/><stop offset=".7991" stop-color="#8a8a8a"/><stop offset=".8054" stop-color="#898989"/><stop offset=".818" stop-color="#787878"/><stop offset=".8242" stop-color="#777777"/><stop offset=".838" stop-color="#868686"/><stop offset=".8456" stop-color="#848484"/><stop offset=".8569" stop-color="#7c7c7c"/><stop offset=".8644" stop-color="#7c7c7c"/><stop offset=".8782" stop-color="#828282"/><stop offset=".8983" stop-color="#7f7f7f"/><stop offset=".9999" stop-color="#808080"/></linearGradient><linearGradient id="b47" x2="0" y2="1"><stop offset="0" stop-color="#808080"/><stop offset=".5871" stop-color="#7f7f7f"/><stop offset=".5959" stop-color="#7d7d7d"/><stop offset=".6147" stop-color="#848484"/><stop offset=".6335" stop-color="#797979"/><stop offset=".6411" stop-color="#7e7e7e"/><stop offset=".6511" stop-color="#888888"/><stop offset=".6586" stop-color="#858585"/><stop offset=".6699" stop-color="#757575"/><stop offset=".6749" stop-color="#757575"/><stop offset=".69" stop-color="#8c8c8c"/><stop offset=".6975" stop-color="#878787"/><stop offset=".7076" stop-color="#747474"/><stop offset=".7138" stop-color="#737373"/><stop offset=".7276" stop-color="#8b8b8b"/><stop offset=".7327" stop-color="#8c8c8c"/><stop offset=".7389" stop-color="#838383"/><stop offset=".7477" stop-color="#737373"/><stop offset=".754" stop-color="#747474"/><stop offset=".7678" stop-color="#8c8c8c"/><stop offset=".7741" stop-color="#8a8a8a"/><stop offset=".7866" stop-color="#747474"/><stop offset=".7929" stop-color="#757575"/><stop offset=".8054" stop-color="#898989"/><stop offset=".8117" stop-color="#8a8a8a"/><stop offset=".8255" stop-color="#777777"/><stop offset=".8318" stop-color="#787878"/><stop offset=".8456" stop-color="#868686"/><stop offset=".8531" stop-color="#848484"/><stop offset=".8656" stop-color="#7b7b7b"/><stop offset=".8769" stop-color="#7f7f7f"/><stop offset=".8895" stop-color="#828282"/><stop offset=".9058" stop-color="#7e7e7e"/><stop offset=".9334" stop-color="#808080"/><stop offset=".9999" stop-color="#808080"/></linearGradient><linearGradient id="b48" x2="0" y2="1"><stop offset="0" stop-color="#808080"/><stop offset=".5947" stop-color="#7f7f7f"/><stop offset=".6097" stop-color="#7f7f7f"/><stop offset=".6223" stop-color="#838383"/><stop offset=".6335" stop-color="#7d7d7d"/><stop offset=".6411" stop-color="#797979"/><stop offset=".6511" stop-color="#818181"/><stop offset=".6599" stop-color="#888888"/><stop offset=".6662" stop-color="#848484"/><stop offset=".6775" stop-color="#757575"/><stop offset=".6837" stop-color="#777777"/><stop offset=".6963" stop-color="#8b8b8b"/><stop offset=".7025" stop-color="#8a8a8a"/><stop offset=".7163" stop-color="#737373"/><stop offset=".7226" stop-color="#757575"/><stop offset=".7352" stop-color="#8b8b8b"/><stop offset=".7402" stop-color="#8c8c8c"/><stop offset=".7502" stop-color="#7b7b7b"/><stop offset=".7552" stop-color="#737373"/><stop offset=".7615" stop-color="#757575"/><stop offset=".7741" stop-color="#8b8b8b"/><stop offset=".7803" stop-color="#8b8b8b"/><stop offset=".7941" stop-color="#747474"/><stop offset=".8004" stop-color="#757575"/><stop offset=".8129" stop-color="#898989"/><stop offset=".818" stop-color="#8a8a8a"/><stop offset=".8267" stop-color="#7f7f7f"/><stop offset=".8343" stop-color="#767676"/><stop offset=".8418" stop-color="#7a7a7a"/><stop offset=".8518" stop-color="#858585"/><stop offset=".8594" stop-color="#858585"/><stop offset=".8719" stop-color="#7b7b7b"/><stop offset=".8807" stop-color="#7d7d7d"/><stop offset=".8932" stop-color="#828282"/><stop offset=".9146" stop-color="#7e7e7e"/><stop offset=".9359" stop-color="#808080"/><stop offset=".9999" stop-color="#7f7f7f"/></linearGradient><linearGradient id="b49" x2="0" y2="1"><stop offset="0" stop-color="#808080"/><stop offset=".6022" stop-color="#7f7f7f"/><stop offset=".6172" stop-color="#7f7f7f"/><stop offset=".6298" stop-color="#838383"/><stop offset=".6423" stop-color="#7c7c7c"/><stop offset=".6499" stop-color="#7a7a7a"/><stop offset=".6674" stop-color="#888888"/><stop offset=".6749" stop-color="#828282"/><stop offset=".685" stop-color="#767676"/><stop offset=".69" stop-color="#777777"/><stop offset=".6975" stop-color="#828282"/><stop offset=".7051" stop-color="#8b8b8b"/><stop offset=".7126" stop-color="#868686"/><stop offset=".7239" stop-color="#737373"/><stop offset=".7289" stop-color="#747474"/><stop offset=".7427" stop-color="#8b8b8b"/><stop offset=".749" stop-color="#8a8a8a"/><stop offset=".7628" stop-color="#737373"/><stop offset=".769" stop-color="#757575"/><stop offset=".7816" stop-color="#8b8b8b"/><stop offset=".7866" stop-color="#8c8c8c"/><stop offset=".8017" stop-color="#747474"/><stop offset=".8067" stop-color="#747474"/><stop offset=".8217" stop-color="#8a8a8a"/><stop offset=".8267" stop-color="#898989"/><stop offset=".8405" stop-color="#777777"/><stop offset=".8468" stop-color="#787878"/><stop offset=".8594" stop-color="#868686"/><stop offset=".8694" stop-color="#838383"/><stop offset=".8794" stop-color="#7b7b7b"/><stop offset=".8882" stop-color="#7d7d7d"/><stop offset=".8995" stop-color="#828282"/><stop offset=".9233" stop-color="#7e7e7e"/><stop offset=".9422" stop-color="#808080"/><stop offset=".9999" stop-color="#7f7f7f"/></linearGradient><linearGradient id="b50" x2="0" y2="1"><stop offset="0" stop-color="#808080"/><stop offset=".6097" stop-color="#7f7f7f"/><stop offset=".6248" stop-color="#7f7f7f"/><stop offset=".6373" stop-color="#838383"/><stop offset=".6561" stop-color="#7a7a7a"/><stop offset=".6737" stop-color="#878787"/><stop offset=".68" stop-color="#858585"/><stop offset=".6913" stop-color="#777777"/><stop offset=".6988" stop-color="#787878"/><stop offset=".7113" stop-color="#8a8a8a"/><stop offset=".7176" stop-color="#898989"/><stop offset=".7301" stop-color="#747474"/><stop offset=".7364" stop-color="#757575"/><stop offset=".749" stop-color="#8a8a8a"/><stop offset=".7552" stop-color="#8b8b8b"/><stop offset=".7703" stop-color="#737373"/><stop offset=".7753" stop-color="#747474"/><stop offset=".7891" stop-color="#8b8b8b"/><stop offset=".7954" stop-color="#8a8a8a"/><stop offset=".8079" stop-color="#757575"/><stop offset=".8129" stop-color="#747474"/><stop offset=".823" stop-color="#838383"/><stop offset=".8305" stop-color="#8b8b8b"/><stop offset=".838" stop-color="#848484"/><stop offset=".8468" stop-color="#787878"/><stop offset=".8531" stop-color="#777777"/><stop offset=".8669" stop-color="#868686"/><stop offset=".8757" stop-color="#848484"/><stop offset=".887" stop-color="#7b7b7b"/><stop offset=".8957" stop-color="#7d7d7d"/><stop offset=".907" stop-color="#828282"/><stop offset=".9309" stop-color="#7e7e7e"/><stop offset=".9497" stop-color="#808080"/><stop offset=".9999" stop-color="#7f7f7f"/></linearGradient><g id="hb"><rect x="1838.9" y="115.4" width="9.2" height="797.1" fill="url(#b0)"/><rect x="1846.9" y="115.4" width="9.2" height="797.1" fill="url(#b1)" transform="matrix(1 -.0011 0 1 0 2.06)"/><rect x="1854.9" y="115.4" width="9.2" height="797.1" fill="url(#b2)" transform="matrix(1 -.0036 0 1 0 6.76)"/><rect x="1862.9" y="115.4" width="9.2" height="797.1" fill="url(#b3)" transform="matrix(1 -.0065 0 1 0 12.17)"/><rect x="1870.9" y="115.4" width="9.2" height="797.1" fill="url(#b4)" transform="matrix(1 -.0101 0 1 0 18.89)"/><rect x="1878.9" y="115.4" width="9.2" height="797.1" fill="url(#b5)" transform="matrix(1 -.0154 0 1 0 29)"/><rect x="1886.9" y="115.4" width="9.2" height="797.1" fill="url(#b6)" transform="matrix(1 -.0369 0 1 0 69.84)"/><rect x="1894.9" y="115.4" width="9.2" height="797.1" fill="url(#b7)" transform="matrix(1 -.0924 0 1 0 175.48)"/><rect x="1902.9" y="115.4" width="9.2" height="797.1" fill="url(#b8)" transform="matrix(1 -.2112 0 1 0 402.86)"/><rect x="1910.9" y="115.4" width="9.2" height="797.1" fill="url(#b9)" transform="matrix(1 -.3427 0 1 0 656.42)"/><rect x="1918.9" y="115.4" width="9.2" height="797.1" fill="url(#b10)" transform="matrix(1 -.2058 0 1 0 395.82)"/><rect x="1926.9" y="115.4" width="9.2" height="797.1" fill="url(#b11)" transform="matrix(1 -.0285 0 1 0 55.1)"/><rect x="1934.9" y="115.4" width="9.2" height="797.1" fill="url(#b12)" transform="matrix(1 .034 0 1 0 -65.96)"/><rect x="1942.9" y="115.4" width="9.2" height="797.1" fill="url(#b13)" transform="matrix(1 .0547 0 1 0 -106.5)"/><rect x="1950.9" y="115.4" width="9.2" height="797.1" fill="url(#b14)" transform="matrix(1 .062 0 1 0 -121.29)"/><rect x="1958.9" y="115.4" width="9.2" height="797.1" fill="url(#b15)" transform="matrix(1 .0679 0 1 0 -133.37)"/><rect x="1966.9" y="115.4" width="9.2" height="797.1" fill="url(#b16)" transform="matrix(1 .0766 0 1 0 -150.97)"/><rect x="1974.9" y="115.4" width="9.2" height="797.1" fill="url(#b17)" transform="matrix(1 .083 0 1 0 -164.24)"/><rect x="1982.9" y="115.4" width="9.2" height="797.1" fill="url(#b18)" transform="matrix(1 .0845 0 1 0 -167.88)"/><rect x="1990.9" y="115.4" width="9.2" height="797.1" fill="url(#b19)" transform="matrix(1 .0847 0 1 0 -168.95)"/><rect x="1998.9" y="115.4" width="9.2" height="797.1" fill="url(#b20)" transform="matrix(1 .1013 0 1 0 -202.93)"/><rect x="2006.9" y="115.4" width="9.2" height="797.1" fill="url(#b21)" transform="matrix(1 .1355 0 1 0 -272.55)"/><rect x="2014.9" y="115.4" width="9.2" height="797.1" fill="url(#b22)" transform="matrix(1 .1619 0 1 0 -326.95)"/><rect x="2022.9" y="115.4" width="9.2" height="797.1" fill="url(#b23)" transform="matrix(1 .172 0 1 0 -348.81)"/><rect x="2030.9" y="115.4" width="9.2" height="797.1" fill="url(#b24)" transform="matrix(1 .1865 0 1 0 -379.64)"/><rect x="2038.9" y="115.4" width="9.2" height="797.1" fill="url(#b25)" transform="matrix(1 .2377 0 1 0 -485.72)"/><rect x="2046.9" y="115.4" width="9.2" height="797.1" fill="url(#b26)" transform="matrix(1 .36 0 1 0 -738.47)"/><rect x="2054.9" y="115.4" width="9.2" height="797.1" fill="url(#b27)" transform="matrix(1 .4444 0 1 0 -915.26)"/><rect x="2062.9" y="115.4" width="9.2" height="797.1" fill="url(#b28)" transform="matrix(1 .4553 0 1 0 -941.3)"/><rect x="2070.9" y="115.4" width="9.2" height="797.1" fill="url(#b29)" transform="matrix(1 .5102 0 1 0 -1058.88)"/><rect x="2078.9" y="115.4" width="9.2" height="797.1" fill="url(#b30)" transform="matrix(1 .5209 0 1 0 -1085.24)"/><rect x="2086.9" y="115.4" width="9.2" height="797.1" fill="url(#b31)" transform="matrix(1 .5125 0 1 0 -1071.89)"/><rect x="2094.9" y="115.4" width="9.2" height="797.1" fill="url(#b32)" transform="matrix(1 .5258 0 1 0 -1103.95)"/><rect x="2102.9" y="115.4" width="9.2" height="797.1" fill="url(#b33)" transform="matrix(1 .5561 0 1 0 -1172)"/><rect x="2110.9" y="115.4" width="9.2" height="797.1" fill="url(#b34)" transform="matrix(1 .5844 0 1 0 -1236.34)"/><rect x="2118.9" y="115.4" width="9.2" height="797.1" fill="url(#b35)" transform="matrix(1 .5988 0 1 0 -1271.62)"/><rect x="2126.9" y="115.4" width="9.2" height="797.1" fill="url(#b36)" transform="matrix(1 .6052 0 1 0 -1289.93)"/><rect x="2134.9" y="115.4" width="9.2" height="797.1" fill="url(#b37)" transform="matrix(1 .6137 0 1 0 -1313.01)"/><rect x="2142.9" y="115.4" width="9.2" height="797.1" fill="url(#b38)" transform="matrix(1 .6236 0 1 0 -1339.19)"/><rect x="2150.9" y="115.4" width="9.2" height="797.1" fill="url(#b39)" transform="matrix(1 .6349 0 1 0 -1368.48)"/><rect x="2158.9" y="115.4" width="9.2" height="797.1" fill="url(#b40)" transform="matrix(1 .6475 0 1 0 -1400.93)"/><rect x="2166.9" y="115.4" width="9.2" height="797.1" fill="url(#b41)" transform="matrix(1 .663 0 1 0 -1439.72)"/><rect x="2174.9" y="115.4" width="9.2" height="797.1" fill="url(#b42)" transform="matrix(1 .6771 0 1 0 -1475.75)"/><rect x="2182.9" y="115.4" width="9.2" height="797.1" fill="url(#b43)" transform="matrix(1 .6883 0 1 0 -1505.67)"/><rect x="2190.9" y="115.4" width="9.2" height="797.1" fill="url(#b44)" transform="matrix(1 .6966 0 1 0 -1529.43)"/><rect x="2198.9" y="115.4" width="9.2" height="797.1" fill="url(#b45)" transform="matrix(1 .702 0 1 0 -1546.95)"/><rect x="2206.9" y="115.4" width="9.2" height="797.1" fill="url(#b46)" transform="matrix(1 .7117 0 1 0 -1573.99)"/><rect x="2214.9" y="115.4" width="9.2" height="797.1" fill="url(#b47)" transform="matrix(1 .7217 0 1 0 -1601.7)"/><rect x="2222.9" y="115.4" width="9.2" height="797.1" fill="url(#b48)" transform="matrix(1 .7283 0 1 0 -1622.23)"/><rect x="2230.9" y="115.4" width="9.2" height="797.1" fill="url(#b49)" transform="matrix(1 .7316 0 1 0 -1635.47)"/><rect x="2238.9" y="115.4" width="9.2" height="797.1" fill="url(#b50)" transform="matrix(1 .7316 0 1 0 -1641.36)"/></g>
</defs>
<rect width="2550" height="1050" fill="#fff"/>
<g clip-path="url(#c1)"><g filter="url(#cm)"><rect x="168.35" y="125.4" width="856.9" height="777.1" fill="#808080"/><use href="#ha" transform="matrix(-1 0 0 1 1193.6 0)" filter="url(#inv)"/><use href="#ha"/><g filter="url(#hzb)"><path d="M138.58 952.5L138.58 898.04L158.5 879.21L178.43 861.22L198.35 844.07L218.27 827.75L238.19 812.28L258.12 797.63L278.04 783.83L297.96 770.86L317.88 758.72L337.81 747.43L357.73 736.97L377.65 727.35L397.57 718.56L417.5 710.61L437.42 703.5L457.34 697.22L477.26 691.78L497.19 687.18L517.11 683.42L537.03 680.49L556.95 678.4L576.88 677.14L596.8 676.72L616.72 677.14L636.64 678.4L656.57 680.49L676.49 683.42L696.41 687.18L716.33 691.78L736.26 697.22L756.18 703.5L776.1 710.61L796.02 718.56L815.95 727.35L835.87 736.97L855.79 747.43L875.71 758.72L895.64 770.86L915.56 783.83L935.48 797.63L955.4 812.28L975.33 827.75L995.25 844.07L1015.17 861.22L1035.09 879.21L1055.02 898.04L1055.02 952.5Z" fill="#fff" opacity=".12"/><ellipse cx="596.8" cy="848.06" rx="219.15" ry="103.6" fill="#fff" opacity=".06"/><ellipse cx="278.04" cy="597.03" rx="87.66" ry="39.84" fill="#fff" opacity=".16" transform="rotate(-25 278.04 597.03)"/><ellipse cx="915.56" cy="597.03" rx="87.66" ry="39.84" fill="#fff" opacity=".16" transform="rotate(25 915.56 597.03)"/></g></g></g><g clip-path="url(#c2)"><g filter="url(#cm)"><rect x="1419.05" y="125.4" width="856.9" height="777.1" fill="#808080"/><use href="#hb" transform="matrix(-1 0 0 1 3695 0)"/><use href="#hb"/></g></g>
<g clip-path="url(#c1)">
</g>
<path d="M238.5 155.4V872.5M278.5 155.4V872.5M317.5 155.4V872.5M357.5 155.4V872.5M397.5 155.4V872.5M437.5 155.4V872.5M477.5 155.4V872.5M517.5 155.4V872.5M556.5 155.4V872.5M596.5 155.4V872.5M636.5 155.4V872.5M676.5 155.4V872.5M716.5 155.4V872.5M756.5 155.4V872.5M796.5 155.4V872.5M835.5 155.4V872.5M875.5 155.4V872.5M915.5 155.4V872.5M955.5 155.4V872.5M198.35 856.5H995.25M198.35 816.5H995.25M198.35 776.5H995.25M198.35 736.5H995.25M198.35 696.5H995.25M198.35 656.5H995.25M198.35 616.5H995.25M198.35 577.5H995.25M198.35 537.5H995.25M198.35 497.5H995.25M198.35 457.5H995.25M198.35 417.5H995.25M198.35 377.5H995.25M198.35 338.5H995.25M198.35 298.5H995.25M198.35 258.5H995.25M198.35 218.5H995.25M198.35 178.5H995.25" stroke="#b0b0b0" stroke-width="3.33" fill="none"/>
<path d="M198.5 872.5v15.18M397.5 872.5v15.18M596.5 872.5v15.18M796.5 872.5v15.18M995.5 872.5v15.18M198.35 776.5h-15.18M198.35 577.5h-15.18M198.35 377.5h-15.18M198.35 178.5h-15.18" stroke="#000" stroke-width="3.33" fill="none"/>
<path d="M238.5 872.5v8.33M278.5 872.5v8.33M317.5 872.5v8.33M357.5 872.5v8.33M437.5 872.5v8.33M477.5 872.5v8.33M517.5 872.5v8.33M556.5 872.5v8.33M636.5 872.5v8.33M676.5 872.5v8.33M716.5 872.5v8.33M756.5 872.5v8.33M835.5 872.5v8.33M875.5 872.5v8.33M915.5 872.5v8.33M955.5 872.5v8.33M198.35 856.5h-8.33M198.35 816.5h-8.33M198.35 736.5h-8.33M198.35 696.5h-8.33M198.35 656.5h-8.33M198.35 616.5h-8.33M198.35 537.5h-8.33M198.35 497.5h-8.33M198.35 457.5h-8.33M198.35 417.5h-8.33M198.35 338.5h-8.33M198.35 298.5h-8.33M198.35 258.5h-8.33M198.35 218.5h-8.33" stroke="#000" stroke-width="2.5" fill="none"/>
<rect x="198.5" y="155.5" width="797" height="717" fill="none" stroke="#000" stroke-width="3.33"/>
<text x="198.35" y="932.67" text-anchor="middle">−10</text>
<text x="397.57" y="932.67" text-anchor="middle">−5</text>
<text x="596.8" y="932.67" text-anchor="middle">0</text>
<text x="796.02" y="932.67" text-anchor="middle">5</text>
<text x="995.25" y="932.67" text-anchor="middle">10</text>
<text x="169.18" y="790.83" text-anchor="end">15</text>
<text x="169.18" y="591.61" text-anchor="end">20</text>
<text x="169.18" y="392.38" text-anchor="end">25</text>
<text x="169.18" y="193.16" text-anchor="end">30</text>
<text x="596.8" y="990.6" text-anchor="middle">y [µm]</text>
<text transform="translate(86.85 512.65) rotate(-90)" text-anchor="middle">x [µm]</text>
<path d="M1488.5 155.4V872.5M1528.5 155.4V872.5M1568.5 155.4V872.5M1608.5 155.4V872.5M1648.5 155.4V872.5M1688.5 155.4V872.5M1727.5 155.4V872.5M1767.5 155.4V872.5M1807.5 155.4V872.5M1847.5 155.4V872.5M1887.5 155.4V872.5M1927.5 155.4V872.5M1967.5 155.4V872.5M2006.5 155.4V872.5M2046.5 155.4V872.5M2086.5 155.4V872.5M2126.5 155.4V872.5M2166.5 155.4V872.5M2206.5 155.4V872.5M1449.05 856.5H2245.95M1449.05 816.5H2245.95M1449.05 776.5H2245.95M1449.05 736.5H2245.95M1449.05 696.5H2245.95M1449.05 656.5H2245.95M1449.05 616.5H2245.95M1449.05 577.5H2245.95M1449.05 537.5H2245.95M1449.05 497.5H2245.95M1449.05 457.5H2245.95M1449.05 417.5H2245.95M1449.05 377.5H2245.95M1449.05 338.5H2245.95M1449.05 298.5H2245.95M1449.05 258.5H2245.95M1449.05 218.5H2245.95M1449.05 178.5H2245.95" stroke="#b0b0b0" stroke-width="3.33" fill="none"/>
<path d="M1449.5 872.5v15.18M1648.5 872.5v15.18M1847.5 872.5v15.18M2046.5 872.5v15.18M2245.5 872.5v15.18M1449.05 776.5h-15.18M1449.05 577.5h-15.18M1449.05 377.5h-15.18M1449.05 178.5h-15.18" stroke="#000" stroke-width="3.33" fill="none"/>
<path d="M1488.5 872.5v8.33M1528.5 872.5v8.33M1568.5 872.5v8.33M1608.5 872.5v8.33M1688.5 872.5v8.33M1727.5 872.5v8.33M1767.5 872.5v8.33M1807.5 872.5v8.33M1887.5 872.5v8.33M1927.5 872.5v8.33M1967.5 872.5v8.33M2006.5 872.5v8.33M2086.5 872.5v8.33M2126.5 872.5v8.33M2166.5 872.5v8.33M2206.5 872.5v8.33M1449.05 856.5h-8.33M1449.05 816.5h-8.33M1449.05 736.5h-8.33M1449.05 696.5h-8.33M1449.05 656.5h-8.33M1449.05 616.5h-8.33M1449.05 537.5h-8.33M1449.05 497.5h-8.33M1449.05 457.5h-8.33M1449.05 417.5h-8.33M1449.05 338.5h-8.33M1449.05 298.5h-8.33M1449.05 258.5h-8.33M1449.05 218.5h-8.33" stroke="#000" stroke-width="2.5" fill="none"/>
<rect x="1449.5" y="155.5" width="796" height="717" fill="none" stroke="#000" stroke-width="3.33"/>
<text x="1449.05" y="932.67" text-anchor="middle">−10</text>
<text x="1648.27" y="932.67" text-anchor="middle">−5</text>
<text x="1847.5" y="932.67" text-anchor="middle">0</text>
<text x="2046.72" y="932.67" text-anchor="middle">5</text>
<text x="2245.95" y="932.67" text-anchor="middle">10</text>
<text x="1419.88" y="790.83" text-anchor="end">15</text>
<text x="1419.88" y="591.61" text-anchor="end">20</text>
<text x="1419.88" y="392.38" text-anchor="end">25</text>
<text x="1419.88" y="193.16" text-anchor="end">30</text>
<text x="1847.5" y="990.6" text-anchor="middle">y [µm]</text>
<text transform="translate(1337.55 512.65) rotate(-90)" text-anchor="middle">x [µm]</text>
<rect x="1010.5" y="155.4" width="39" height="717.1" fill="url(#cbg)"/>
<rect x="1010.5" y="155.5" width="39" height="717" fill="none" stroke="#000" stroke-width="3.33"/>
<text x="1078.67" y="815.29">−0.2</text>
<text x="1078.67" y="671.87">−0.1</text>
<text x="1078.67" y="528.45">0.0</text>
<text x="1078.67" y="385.03">0.1</text>
<text x="1078.67" y="241.61">0.2</text>
<path d="M1049.5 800.5h15.18M1049.5 657.5h15.18M1049.5 513.5h15.18M1049.5 370.5h15.18M1049.5 227.5h15.18" stroke="#000" stroke-width="3.33" fill="none"/>
<g transform="translate(1227.9 815.1) rotate(-90)">
<text><tspan x="0" y="0">Electric Field Ex (|e|</tspan><tspan x="414.29" y="0" font-style="italic">E</tspan><tspan x="440.61" y="6.84" font-size="29.17">x</tspan><tspan x="459.01" y="0">/</tspan><tspan x="473.05" y="0" font-style="italic">m</tspan><tspan x="513.64" y="6.84" font-size="29.17">e</tspan><tspan x="532.72" y="0" font-style="italic">cω</tspan><tspan x="590.52" y="0">)</tspan></text>
</g>
<rect x="2260.5" y="155.4" width="40" height="717.1" fill="url(#cbg)"/>
<rect x="2260.5" y="155.5" width="40" height="717" fill="none" stroke="#000" stroke-width="3.33"/>
<text x="2329.67" y="887">−2.0</text>
<text x="2329.67" y="797.36">−1.5</text>
<text x="2329.67" y="707.73">−1.0</text>
<text x="2329.67" y="618.09">−0.5</text>
<text x="2329.67" y="528.45">0.0</text>
<text x="2329.67" y="438.81">0.5</text>
<text x="2329.67" y="349.18">1.0</text>
<text x="2329.67" y="259.54">1.5</text>
<text x="2329.67" y="169.9">2.0</text>
<path d="M2300.5 872.5h15.18M2300.5 782.5h15.18M2300.5 693.5h15.18M2300.5 603.5h15.18M2300.5 513.5h15.18M2300.5 424.5h15.18M2300.5 334.5h15.18M2300.5 245.5h15.18M2300.5 155.5h15.18" stroke="#000" stroke-width="3.33" fill="none"/>
<g transform="translate(2478.9 815.1) rotate(-90)">
<text><tspan x="0" y="0">Electric Field Ey (|e|</tspan><tspan x="414.29" y="0" font-style="italic">E</tspan><tspan x="440.61" y="6.84" font-size="29.17">y</tspan><tspan x="459.01" y="0">/</tspan><tspan x="473.05" y="0" font-style="italic">m</tspan><tspan x="513.64" y="6.84" font-size="29.17">e</tspan><tspan x="532.72" y="0" font-style="italic">cω</tspan><tspan x="590.52" y="0">)</tspan></text>
</g>
<text style="font-size:50px" transform="translate(963.2 60.1)"><tspan x="0" y="0">Electric field at </tspan><tspan x="391.09" y="0" font-style="italic">t</tspan><tspan x="420.43" y="0">=</tspan><tspan x="472.07" y="0">102 fs</tspan></text>
</svg></body></html>
